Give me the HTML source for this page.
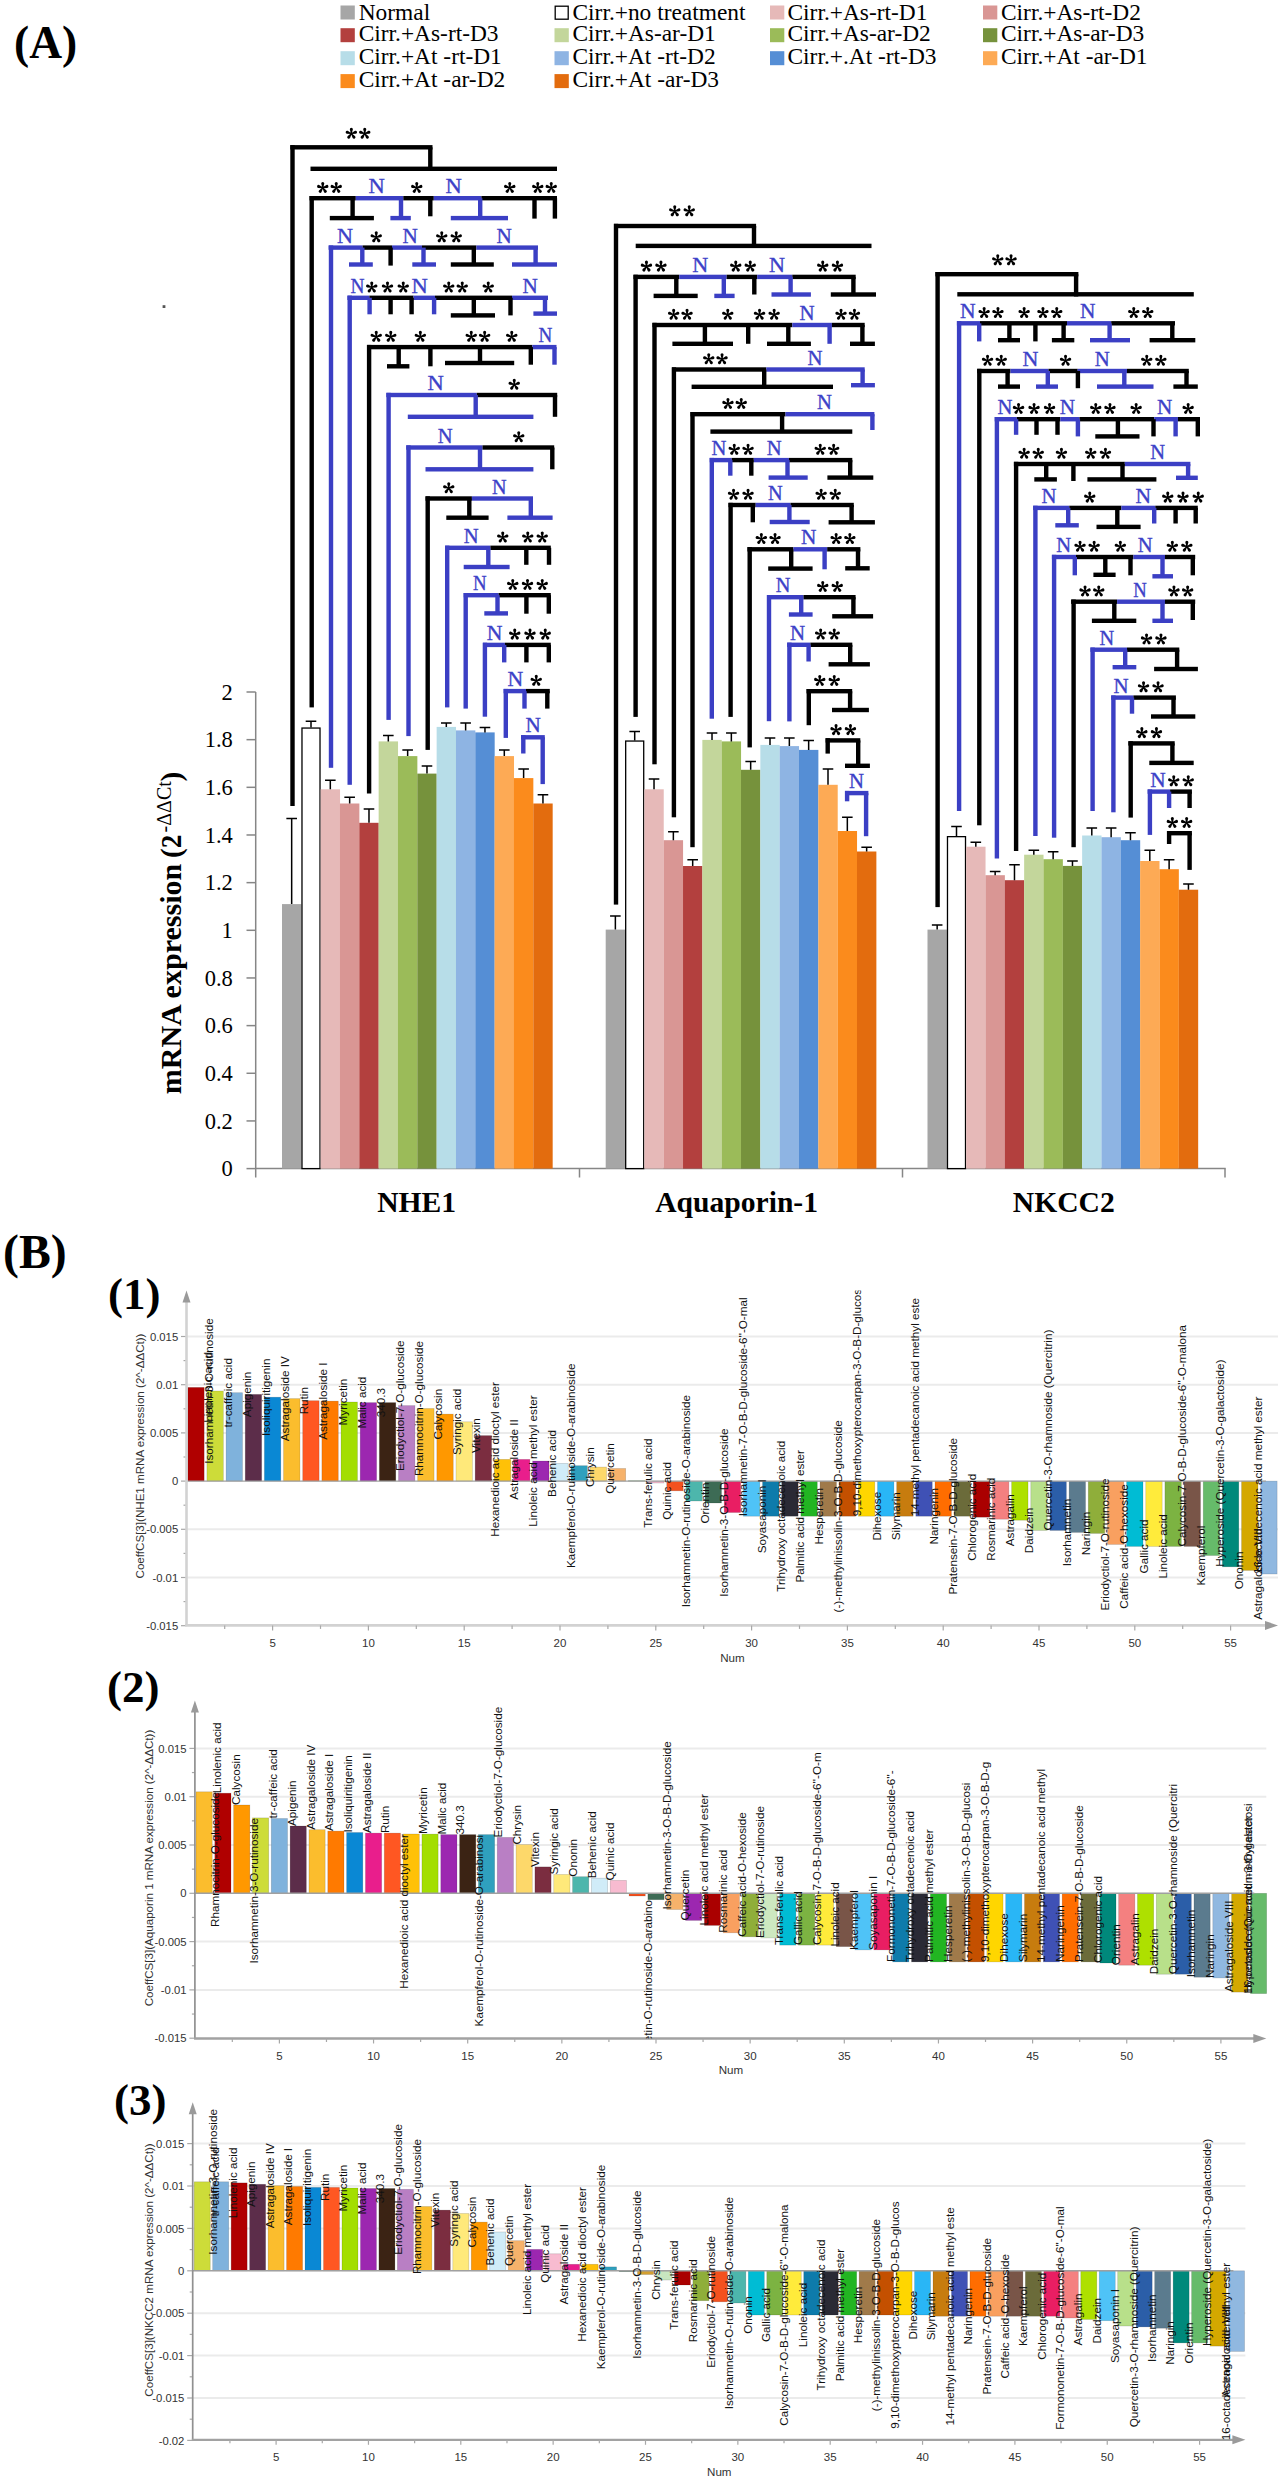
<!DOCTYPE html>
<html><head><meta charset="utf-8"><title>Figure</title>
<style>html,body{margin:0;padding:0;background:#fff;}svg{display:block;}</style>
</head><body>
<svg width="1282" height="2480" viewBox="0 0 1282 2480" font-family="Liberation Sans">
<rect width="1282" height="2480" fill="#fff"/>
<rect x="162.6" y="305.2" width="2.8" height="2.8" fill="#555"/>
<text x="14" y="57.7" font-family="Liberation Serif" font-weight="bold" font-size="45.5">(A)</text>
<rect x="340.5" y="5.5" width="14.3" height="14" fill="#a6a6a6"/>
<text x="358.7" y="19.5" font-family="Liberation Serif" font-size="23.4">Normal</text>
<rect x="555.2" y="6.2" width="13" height="13" fill="white" stroke="#000" stroke-width="1.3"/>
<text x="572.5" y="19.5" font-family="Liberation Serif" font-size="23.4">Cirr.+no treatment</text>
<rect x="770" y="5.5" width="14.3" height="14" fill="#e6b9b8"/>
<text x="787.5" y="19.5" font-family="Liberation Serif" font-size="23.4">Cirr.+As-rt-D1</text>
<rect x="983" y="5.5" width="14.3" height="14" fill="#d99694"/>
<text x="1001" y="19.5" font-family="Liberation Serif" font-size="23.4">Cirr.+As-rt-D2</text>
<rect x="340.5" y="28.2" width="14.3" height="14" fill="#b3403e"/>
<text x="358.7" y="41.4" font-family="Liberation Serif" font-size="23.4">Cirr.+As-rt-D3</text>
<rect x="554.5" y="28.2" width="14.3" height="14" fill="#c3d69b"/>
<text x="572.5" y="41.4" font-family="Liberation Serif" font-size="23.4">Cirr.+As-ar-D1</text>
<rect x="770" y="28.2" width="14.3" height="14" fill="#9bbb59"/>
<text x="787.5" y="41.4" font-family="Liberation Serif" font-size="23.4">Cirr.+As-ar-D2</text>
<rect x="983" y="28.2" width="14.3" height="14" fill="#76923c"/>
<text x="1001" y="41.4" font-family="Liberation Serif" font-size="23.4">Cirr.+As-ar-D3</text>
<rect x="340.5" y="51.2" width="14.3" height="14" fill="#b7dde8"/>
<text x="358.7" y="64" font-family="Liberation Serif" font-size="23.4">Cirr.+At -rt-D1</text>
<rect x="554.5" y="51.2" width="14.3" height="14" fill="#8eb4e3"/>
<text x="572.5" y="64" font-family="Liberation Serif" font-size="23.4">Cirr.+At -rt-D2</text>
<rect x="770" y="51.2" width="14.3" height="14" fill="#558ed5"/>
<text x="787.5" y="64" font-family="Liberation Serif" font-size="23.4">Cirr.+.At -rt-D3</text>
<rect x="983" y="51.2" width="14.3" height="14" fill="#fdaa55"/>
<text x="1001" y="64" font-family="Liberation Serif" font-size="23.4">Cirr.+At -ar-D1</text>
<rect x="340.5" y="74.1" width="14.3" height="14" fill="#fb8b1c"/>
<text x="358.7" y="86.9" font-family="Liberation Serif" font-size="23.4">Cirr.+At -ar-D2</text>
<rect x="554.5" y="74.1" width="14.3" height="14" fill="#e36c0e"/>
<text x="572.5" y="86.9" font-family="Liberation Serif" font-size="23.4">Cirr.+At -ar-D3</text>
<g stroke="#868686" stroke-width="1.5" fill="none">
<line x1="255.7" y1="692" x2="255.7" y2="1177.5"/>
<line x1="255.7" y1="1168.6" x2="1225.7" y2="1168.6"/>
<line x1="579.5" y1="1168.6" x2="579.5" y2="1177.5"/>
<line x1="902.5" y1="1168.6" x2="902.5" y2="1177.5"/>
<line x1="1225" y1="1168.6" x2="1225" y2="1177.5"/>
<line x1="246.5" y1="1168.6" x2="255.7" y2="1168.6"/>
<line x1="246.5" y1="1120.94" x2="255.7" y2="1120.94"/>
<line x1="246.5" y1="1073.28" x2="255.7" y2="1073.28"/>
<line x1="246.5" y1="1025.62" x2="255.7" y2="1025.62"/>
<line x1="246.5" y1="977.96" x2="255.7" y2="977.96"/>
<line x1="246.5" y1="930.3" x2="255.7" y2="930.3"/>
<line x1="246.5" y1="882.64" x2="255.7" y2="882.64"/>
<line x1="246.5" y1="834.98" x2="255.7" y2="834.98"/>
<line x1="246.5" y1="787.32" x2="255.7" y2="787.32"/>
<line x1="246.5" y1="739.66" x2="255.7" y2="739.66"/>
<line x1="246.5" y1="692" x2="255.7" y2="692"/>
</g>
<text x="232.8" y="1176.2" font-family="Liberation Serif" font-size="22.5" text-anchor="end">0</text>
<text x="232.8" y="1128.54" font-family="Liberation Serif" font-size="22.5" text-anchor="end">0.2</text>
<text x="232.8" y="1080.88" font-family="Liberation Serif" font-size="22.5" text-anchor="end">0.4</text>
<text x="232.8" y="1033.22" font-family="Liberation Serif" font-size="22.5" text-anchor="end">0.6</text>
<text x="232.8" y="985.56" font-family="Liberation Serif" font-size="22.5" text-anchor="end">0.8</text>
<text x="232.8" y="937.9" font-family="Liberation Serif" font-size="22.5" text-anchor="end">1</text>
<text x="232.8" y="890.24" font-family="Liberation Serif" font-size="22.5" text-anchor="end">1.2</text>
<text x="232.8" y="842.58" font-family="Liberation Serif" font-size="22.5" text-anchor="end">1.4</text>
<text x="232.8" y="794.92" font-family="Liberation Serif" font-size="22.5" text-anchor="end">1.6</text>
<text x="232.8" y="747.26" font-family="Liberation Serif" font-size="22.5" text-anchor="end">1.8</text>
<text x="232.8" y="699.6" font-family="Liberation Serif" font-size="22.5" text-anchor="end">2</text>
<g transform="translate(180.8,1094.3) rotate(-90)" font-family="Liberation Serif"><text x="0" y="0" font-weight="bold" font-size="29" textLength="230.5" lengthAdjust="spacingAndGlyphs">mRNA expression</text><text x="236.3" y="0" font-weight="bold" font-size="29">(</text><text x="246" y="0" font-weight="bold" font-size="29" textLength="13.6" lengthAdjust="spacingAndGlyphs">2</text><text x="261.8" y="-9.6" font-size="20.5" textLength="51.3" lengthAdjust="spacingAndGlyphs">-ΔΔCt</text><text x="312.8" y="0" font-weight="bold" font-size="29">)</text></g>
<text x="416.6" y="1212.1" text-anchor="middle" font-family="Liberation Serif" font-weight="bold" font-size="29.6">NHE1</text>
<text x="736.6" y="1212.1" text-anchor="middle" font-family="Liberation Serif" font-weight="bold" font-size="29.6">Aquaporin-1</text>
<text x="1063.8" y="1212.1" text-anchor="middle" font-family="Liberation Serif" font-weight="bold" font-size="29.6">NKCC2</text>
<rect x="282" y="904.1" width="19.38" height="264.5" fill="#a6a6a6"/>
<rect x="301.98" y="728.05" width="18.03" height="440.55" fill="white" stroke="#000" stroke-width="1.3"/>
<rect x="320.66" y="789.3" width="19.38" height="379.3" fill="#e6b9b8"/>
<rect x="339.99" y="803.5" width="19.38" height="365.1" fill="#d99694"/>
<rect x="359.32" y="822.8" width="19.38" height="345.8" fill="#b3403e"/>
<rect x="378.65" y="741.4" width="19.38" height="427.2" fill="#c3d69b"/>
<rect x="397.98" y="756.1" width="19.38" height="412.5" fill="#9bbb59"/>
<rect x="417.31" y="773.6" width="19.38" height="395" fill="#76923c"/>
<rect x="436.64" y="726.9" width="19.38" height="441.7" fill="#b7dde8"/>
<rect x="455.97" y="730.4" width="19.38" height="438.2" fill="#8eb4e3"/>
<rect x="475.3" y="732.4" width="19.38" height="436.2" fill="#558ed5"/>
<rect x="494.63" y="756.1" width="19.38" height="412.5" fill="#fdaa55"/>
<rect x="513.96" y="778.1" width="19.38" height="390.5" fill="#fb8b1c"/>
<rect x="533.29" y="803.5" width="19.38" height="365.1" fill="#e36c0e"/>
<path d="M291.67 904.1V818.5M286.37 818.5H296.97" stroke="#000" stroke-width="1.5" fill="none"/>
<path d="M311 727.4V721.2M305.69 721.2H316.3" stroke="#000" stroke-width="1.5" fill="none"/>
<path d="M330.32 789.3V780.3M325.02 780.3H335.62" stroke="#000" stroke-width="1.5" fill="none"/>
<path d="M349.66 803.5V797.3M344.36 797.3H354.96" stroke="#000" stroke-width="1.5" fill="none"/>
<path d="M368.99 822.8V809M363.69 809H374.29" stroke="#000" stroke-width="1.5" fill="none"/>
<path d="M388.31 741.4V735.4M383.01 735.4H393.62" stroke="#000" stroke-width="1.5" fill="none"/>
<path d="M407.65 756.1V749.9M402.35 749.9H412.95" stroke="#000" stroke-width="1.5" fill="none"/>
<path d="M426.98 773.6V766.1M421.68 766.1H432.28" stroke="#000" stroke-width="1.5" fill="none"/>
<path d="M446.31 726.9V722.9M441 722.9H451.61" stroke="#000" stroke-width="1.5" fill="none"/>
<path d="M465.63 730.4V722.9M460.33 722.9H470.94" stroke="#000" stroke-width="1.5" fill="none"/>
<path d="M484.96 732.4V727.4M479.66 727.4H490.26" stroke="#000" stroke-width="1.5" fill="none"/>
<path d="M504.3 756.1V749.9M499 749.9H509.6" stroke="#000" stroke-width="1.5" fill="none"/>
<path d="M523.62 778.1V769.1M518.33 769.1H528.92" stroke="#000" stroke-width="1.5" fill="none"/>
<path d="M542.95 803.5V794.8M537.65 794.8H548.25" stroke="#000" stroke-width="1.5" fill="none"/>
<rect x="605.7" y="929.6" width="19.38" height="239" fill="#a6a6a6"/>
<rect x="625.68" y="741.05" width="18.03" height="427.55" fill="white" stroke="#000" stroke-width="1.3"/>
<rect x="644.36" y="789.3" width="19.38" height="379.3" fill="#e6b9b8"/>
<rect x="663.69" y="840.2" width="19.38" height="328.4" fill="#d99694"/>
<rect x="683.02" y="866" width="19.38" height="302.6" fill="#b3403e"/>
<rect x="702.35" y="739.9" width="19.38" height="428.7" fill="#c3d69b"/>
<rect x="721.68" y="741.4" width="19.38" height="427.2" fill="#9bbb59"/>
<rect x="741.01" y="769.8" width="19.38" height="398.8" fill="#76923c"/>
<rect x="760.34" y="744.9" width="19.38" height="423.7" fill="#b7dde8"/>
<rect x="779.67" y="746.1" width="19.38" height="422.5" fill="#8eb4e3"/>
<rect x="799" y="749.9" width="19.38" height="418.7" fill="#558ed5"/>
<rect x="818.33" y="784.8" width="19.38" height="383.8" fill="#fdaa55"/>
<rect x="837.66" y="831" width="19.38" height="337.6" fill="#fb8b1c"/>
<rect x="856.99" y="851.5" width="19.38" height="317.1" fill="#e36c0e"/>
<path d="M615.37 929.6V915.9M610.07 915.9H620.66" stroke="#000" stroke-width="1.5" fill="none"/>
<path d="M634.7 740.4V731.6M629.4 731.6H640" stroke="#000" stroke-width="1.5" fill="none"/>
<path d="M654.02 789.3V779.1M648.73 779.1H659.32" stroke="#000" stroke-width="1.5" fill="none"/>
<path d="M673.36 840.2V831.7M668.06 831.7H678.65" stroke="#000" stroke-width="1.5" fill="none"/>
<path d="M692.68 866V859.7M687.38 859.7H697.98" stroke="#000" stroke-width="1.5" fill="none"/>
<path d="M712.01 739.9V732.9M706.72 732.9H717.31" stroke="#000" stroke-width="1.5" fill="none"/>
<path d="M731.35 741.4V732.9M726.05 732.9H736.64" stroke="#000" stroke-width="1.5" fill="none"/>
<path d="M750.67 769.8V761.6M745.38 761.6H755.97" stroke="#000" stroke-width="1.5" fill="none"/>
<path d="M770 744.9V737.9M764.71 737.9H775.3" stroke="#000" stroke-width="1.5" fill="none"/>
<path d="M789.34 746.1V737.9M784.04 737.9H794.63" stroke="#000" stroke-width="1.5" fill="none"/>
<path d="M808.66 749.9V740.4M803.37 740.4H813.96" stroke="#000" stroke-width="1.5" fill="none"/>
<path d="M828 784.8V769.1M822.7 769.1H833.29" stroke="#000" stroke-width="1.5" fill="none"/>
<path d="M847.33 831V817.3M842.03 817.3H852.62" stroke="#000" stroke-width="1.5" fill="none"/>
<path d="M866.65 851.5V847.2M861.36 847.2H871.95" stroke="#000" stroke-width="1.5" fill="none"/>
<rect x="927.5" y="929.6" width="19.38" height="239" fill="#a6a6a6"/>
<rect x="947.48" y="836.65" width="18.03" height="331.95" fill="white" stroke="#000" stroke-width="1.3"/>
<rect x="966.16" y="846.7" width="19.38" height="321.9" fill="#e6b9b8"/>
<rect x="985.49" y="875.2" width="19.38" height="293.4" fill="#d99694"/>
<rect x="1004.82" y="880.2" width="19.38" height="288.4" fill="#b3403e"/>
<rect x="1024.15" y="854.7" width="19.38" height="313.9" fill="#c3d69b"/>
<rect x="1043.48" y="859.2" width="19.38" height="309.4" fill="#9bbb59"/>
<rect x="1062.81" y="865.9" width="19.38" height="302.7" fill="#76923c"/>
<rect x="1082.14" y="835.5" width="19.38" height="333.1" fill="#b7dde8"/>
<rect x="1101.47" y="837.2" width="19.38" height="331.4" fill="#8eb4e3"/>
<rect x="1120.8" y="840.2" width="19.38" height="328.4" fill="#558ed5"/>
<rect x="1140.13" y="861" width="19.38" height="307.6" fill="#fdaa55"/>
<rect x="1159.46" y="869.2" width="19.38" height="299.4" fill="#fb8b1c"/>
<rect x="1178.79" y="889.7" width="19.38" height="278.9" fill="#e36c0e"/>
<path d="M937.16 929.6V925.1M931.87 925.1H942.46" stroke="#000" stroke-width="1.5" fill="none"/>
<path d="M956.5 836V826.5M951.2 826.5H961.79" stroke="#000" stroke-width="1.5" fill="none"/>
<path d="M975.82 846.7V842.2M970.52 842.2H981.12" stroke="#000" stroke-width="1.5" fill="none"/>
<path d="M995.15 875.2V871.4M989.86 871.4H1000.45" stroke="#000" stroke-width="1.5" fill="none"/>
<path d="M1014.48 880.2V864.7M1009.18 864.7H1019.78" stroke="#000" stroke-width="1.5" fill="none"/>
<path d="M1033.82 854.7V850.2M1028.52 850.2H1039.12" stroke="#000" stroke-width="1.5" fill="none"/>
<path d="M1053.14 859.2V851.7M1047.85 851.7H1058.44" stroke="#000" stroke-width="1.5" fill="none"/>
<path d="M1072.47 865.9V861M1067.17 861H1077.77" stroke="#000" stroke-width="1.5" fill="none"/>
<path d="M1091.8 835.5V828M1086.5 828H1097.1" stroke="#000" stroke-width="1.5" fill="none"/>
<path d="M1111.13 837.2V828M1105.84 828H1116.43" stroke="#000" stroke-width="1.5" fill="none"/>
<path d="M1130.46 840.2V832.7M1125.16 832.7H1135.76" stroke="#000" stroke-width="1.5" fill="none"/>
<path d="M1149.8 861V850.2M1144.5 850.2H1155.1" stroke="#000" stroke-width="1.5" fill="none"/>
<path d="M1169.12 869.2V859.7M1163.83 859.7H1174.42" stroke="#000" stroke-width="1.5" fill="none"/>
<path d="M1188.45 889.7V883.9M1183.15 883.9H1193.75" stroke="#000" stroke-width="1.5" fill="none"/>
<rect x="290.3" y="145.1" width="142.2" height="4.4" fill="#000000"/>
<rect x="290.3" y="145.1" width="4.4" height="660.9" fill="#000000"/>
<rect x="428.1" y="147.3" width="4.4" height="23.7" fill="#000000"/>
<rect x="310.5" y="166.6" width="246.5" height="4.4" fill="#000000"/>
<path d="M351.8 133.6L352.9 129.25A1.55 1.55 0 1 0 349.8 129.25L350.9 133.6ZM351.49 134.03L355.97 133.73A1.55 1.55 0 1 0 355.01 130.78L351.21 133.17ZM350.99 133.86L352.65 138.03A1.55 1.55 0 1 0 355.16 136.21L351.71 133.34ZM350.99 133.34L347.54 136.21A1.55 1.55 0 1 0 350.05 138.03L351.71 133.86ZM351.49 133.17L347.69 130.78A1.55 1.55 0 1 0 346.73 133.73L351.21 134.03Z" fill="#000000"/>
<path d="M365.2 133.6L366.3 129.25A1.55 1.55 0 1 0 363.2 129.25L364.3 133.6ZM364.89 134.03L369.37 133.73A1.55 1.55 0 1 0 368.41 130.78L364.61 133.17ZM364.39 133.86L366.05 138.03A1.55 1.55 0 1 0 368.56 136.21L365.11 133.34ZM364.39 133.34L360.94 136.21A1.55 1.55 0 1 0 363.45 138.03L365.11 133.86ZM364.89 133.17L361.09 130.78A1.55 1.55 0 1 0 360.13 133.73L364.61 134.03Z" fill="#000000"/>
<rect x="309.5" y="196" width="46.3" height="4.4" fill="#000000"/>
<rect x="355.8" y="196" width="47.5" height="4.4" fill="#3b3fc4"/>
<rect x="403.3" y="196" width="30.5" height="4.4" fill="#000000"/>
<rect x="433.8" y="196" width="47.6" height="4.4" fill="#3b3fc4"/>
<rect x="481.4" y="196" width="75.6" height="4.4" fill="#000000"/>
<rect x="309.5" y="196" width="4.4" height="511.4" fill="#000000"/>
<rect x="350.4" y="198.2" width="4.4" height="19.9" fill="#000000"/>
<rect x="329.8" y="215.9" width="44.1" height="4.4" fill="#000000"/>
<rect x="398.8" y="198.2" width="4.4" height="19.9" fill="#3b3fc4"/>
<rect x="390.4" y="215.9" width="20.4" height="4.4" fill="#3b3fc4"/>
<rect x="428.1" y="198.2" width="4.4" height="18.1" fill="#000000"/>
<rect x="478" y="198.2" width="4.4" height="19.9" fill="#3b3fc4"/>
<rect x="450.8" y="215.9" width="57.2" height="4.4" fill="#3b3fc4"/>
<rect x="532.3" y="198.2" width="4.4" height="20.4" fill="#000000"/>
<rect x="552.7" y="198.2" width="4.4" height="20.4" fill="#000000"/>
<path d="M323.2 187.8L324.3 183.45A1.55 1.55 0 1 0 321.2 183.45L322.3 187.8ZM322.89 188.23L327.37 187.93A1.55 1.55 0 1 0 326.41 184.98L322.61 187.37ZM322.39 188.06L324.05 192.23A1.55 1.55 0 1 0 326.56 190.41L323.11 187.54ZM322.39 187.54L318.94 190.41A1.55 1.55 0 1 0 321.45 192.23L323.11 188.06ZM322.89 187.37L319.09 184.98A1.55 1.55 0 1 0 318.13 187.93L322.61 188.23Z" fill="#000000"/>
<path d="M336.7 187.8L337.8 183.45A1.55 1.55 0 1 0 334.7 183.45L335.8 187.8ZM336.39 188.23L340.87 187.93A1.55 1.55 0 1 0 339.91 184.98L336.11 187.37ZM335.89 188.06L337.55 192.23A1.55 1.55 0 1 0 340.06 190.41L336.61 187.54ZM335.89 187.54L332.44 190.41A1.55 1.55 0 1 0 334.95 192.23L336.61 188.06ZM336.39 187.37L332.59 184.98A1.55 1.55 0 1 0 331.63 187.93L336.11 188.23Z" fill="#000000"/>
<text x="368.4" y="193.3" font-family="Liberation Serif" font-size="21.3" fill="#3d42c8" stroke="#3d42c8" stroke-width="0.35" textLength="16.3" lengthAdjust="spacingAndGlyphs">N</text>
<path d="M417.2 187.8L418.3 183.45A1.55 1.55 0 1 0 415.2 183.45L416.3 187.8ZM416.89 188.23L421.37 187.93A1.55 1.55 0 1 0 420.41 184.98L416.61 187.37ZM416.39 188.06L418.05 192.23A1.55 1.55 0 1 0 420.56 190.41L417.11 187.54ZM416.39 187.54L412.94 190.41A1.55 1.55 0 1 0 415.45 192.23L417.11 188.06ZM416.89 187.37L413.09 184.98A1.55 1.55 0 1 0 412.13 187.93L416.61 188.23Z" fill="#000000"/>
<text x="445.4" y="193.3" font-family="Liberation Serif" font-size="21.3" fill="#3d42c8" stroke="#3d42c8" stroke-width="0.35" textLength="16.3" lengthAdjust="spacingAndGlyphs">N</text>
<path d="M510.2 187.8L511.3 183.45A1.55 1.55 0 1 0 508.2 183.45L509.3 187.8ZM509.89 188.23L514.37 187.93A1.55 1.55 0 1 0 513.41 184.98L509.61 187.37ZM509.39 188.06L511.05 192.23A1.55 1.55 0 1 0 513.56 190.41L510.11 187.54ZM509.39 187.54L505.94 190.41A1.55 1.55 0 1 0 508.45 192.23L510.11 188.06ZM509.89 187.37L506.09 184.98A1.55 1.55 0 1 0 505.13 187.93L509.61 188.23Z" fill="#000000"/>
<path d="M538.2 187.8L539.3 183.45A1.55 1.55 0 1 0 536.2 183.45L537.3 187.8ZM537.89 188.23L542.37 187.93A1.55 1.55 0 1 0 541.41 184.98L537.61 187.37ZM537.39 188.06L539.05 192.23A1.55 1.55 0 1 0 541.56 190.41L538.11 187.54ZM537.39 187.54L533.94 190.41A1.55 1.55 0 1 0 536.45 192.23L538.11 188.06ZM537.89 187.37L534.09 184.98A1.55 1.55 0 1 0 533.13 187.93L537.61 188.23Z" fill="#000000"/>
<path d="M551.7 187.8L552.8 183.45A1.55 1.55 0 1 0 549.7 183.45L550.8 187.8ZM551.39 188.23L555.87 187.93A1.55 1.55 0 1 0 554.91 184.98L551.11 187.37ZM550.89 188.06L552.55 192.23A1.55 1.55 0 1 0 555.06 190.41L551.61 187.54ZM550.89 187.54L547.44 190.41A1.55 1.55 0 1 0 549.95 192.23L551.61 188.06ZM551.39 187.37L547.59 184.98A1.55 1.55 0 1 0 546.63 187.93L551.11 188.23Z" fill="#000000"/>
<rect x="328.6" y="245.4" width="34" height="4.4" fill="#3b3fc4"/>
<rect x="362.6" y="245.4" width="29.4" height="4.4" fill="#000000"/>
<rect x="392" y="245.4" width="30" height="4.4" fill="#3b3fc4"/>
<rect x="422" y="245.4" width="54.4" height="4.4" fill="#000000"/>
<rect x="476.4" y="245.4" width="61.6" height="4.4" fill="#3b3fc4"/>
<rect x="328.8" y="245.4" width="4.4" height="522.4" fill="#3b3fc4"/>
<rect x="360.1" y="247.6" width="4.4" height="16.9" fill="#3b3fc4"/>
<rect x="349" y="262.3" width="23.8" height="4.4" fill="#3b3fc4"/>
<rect x="388.4" y="247.6" width="4.4" height="18" fill="#000000"/>
<rect x="421.3" y="247.6" width="4.4" height="16.9" fill="#3b3fc4"/>
<rect x="412.3" y="262.3" width="23.7" height="4.4" fill="#3b3fc4"/>
<rect x="471.6" y="247.6" width="4.4" height="16.9" fill="#000000"/>
<rect x="450.8" y="262.3" width="43" height="4.4" fill="#000000"/>
<rect x="533.4" y="247.6" width="4.4" height="16.9" fill="#3b3fc4"/>
<rect x="512" y="262.3" width="45" height="4.4" fill="#3b3fc4"/>
<text x="337.1" y="242.7" font-family="Liberation Serif" font-size="21.3" fill="#3d42c8" stroke="#3d42c8" stroke-width="0.35" textLength="16" lengthAdjust="spacingAndGlyphs">N</text>
<path d="M376.7 237.2L377.8 232.85A1.55 1.55 0 1 0 374.7 232.85L375.8 237.2ZM376.39 237.63L380.87 237.33A1.55 1.55 0 1 0 379.91 234.38L376.11 236.77ZM375.89 237.46L377.55 241.63A1.55 1.55 0 1 0 380.06 239.81L376.61 236.94ZM375.89 236.94L372.44 239.81A1.55 1.55 0 1 0 374.95 241.63L376.61 237.46ZM376.39 236.77L372.59 234.38A1.55 1.55 0 1 0 371.63 237.33L376.11 237.63Z" fill="#000000"/>
<text x="402.4" y="242.7" font-family="Liberation Serif" font-size="21.3" fill="#3d42c8" stroke="#3d42c8" stroke-width="0.35" textLength="15.3" lengthAdjust="spacingAndGlyphs">N</text>
<path d="M442.2 237.2L443.3 232.85A1.55 1.55 0 1 0 440.2 232.85L441.3 237.2ZM441.89 237.63L446.37 237.33A1.55 1.55 0 1 0 445.41 234.38L441.61 236.77ZM441.39 237.46L443.05 241.63A1.55 1.55 0 1 0 445.56 239.81L442.11 236.94ZM441.39 236.94L437.94 239.81A1.55 1.55 0 1 0 440.45 241.63L442.11 237.46ZM441.89 236.77L438.09 234.38A1.55 1.55 0 1 0 437.13 237.33L441.61 237.63Z" fill="#000000"/>
<path d="M456.7 237.2L457.8 232.85A1.55 1.55 0 1 0 454.7 232.85L455.8 237.2ZM456.39 237.63L460.87 237.33A1.55 1.55 0 1 0 459.91 234.38L456.11 236.77ZM455.89 237.46L457.55 241.63A1.55 1.55 0 1 0 460.06 239.81L456.61 236.94ZM455.89 236.94L452.44 239.81A1.55 1.55 0 1 0 454.95 241.63L456.61 237.46ZM456.39 236.77L452.59 234.38A1.55 1.55 0 1 0 451.63 237.33L456.11 237.63Z" fill="#000000"/>
<text x="496.4" y="242.7" font-family="Liberation Serif" font-size="21.3" fill="#3d42c8" stroke="#3d42c8" stroke-width="0.35" textLength="15.3" lengthAdjust="spacingAndGlyphs">N</text>
<rect x="347.4" y="295.6" width="22" height="4.4" fill="#3b3fc4"/>
<rect x="369.4" y="295.6" width="44.1" height="4.4" fill="#000000"/>
<rect x="413.5" y="295.6" width="21.5" height="4.4" fill="#3b3fc4"/>
<rect x="435" y="295.6" width="77" height="4.4" fill="#000000"/>
<rect x="512" y="295.6" width="36" height="4.4" fill="#3b3fc4"/>
<rect x="347.5" y="295.6" width="4.4" height="489.2" fill="#3b3fc4"/>
<rect x="367.4" y="297.8" width="4.4" height="16.5" fill="#3b3fc4"/>
<rect x="388.4" y="297.8" width="4.4" height="16.5" fill="#000000"/>
<rect x="409.4" y="297.8" width="4.4" height="16.5" fill="#000000"/>
<rect x="431.9" y="297.8" width="4.4" height="16.5" fill="#3b3fc4"/>
<rect x="471.6" y="297.8" width="4.4" height="17.6" fill="#000000"/>
<rect x="450.8" y="313.2" width="44.2" height="4.4" fill="#000000"/>
<rect x="508.3" y="297.8" width="4.4" height="17.6" fill="#000000"/>
<rect x="542.8" y="297.8" width="4.4" height="15.8" fill="#3b3fc4"/>
<rect x="533.4" y="311.4" width="23.6" height="4.4" fill="#3b3fc4"/>
<text x="350.4" y="292.9" font-family="Liberation Serif" font-size="21.3" fill="#3d42c8" stroke="#3d42c8" stroke-width="0.35" textLength="14" lengthAdjust="spacingAndGlyphs">N</text>
<path d="M372.2 287.4L373.3 283.05A1.55 1.55 0 1 0 370.2 283.05L371.3 287.4ZM371.89 287.83L376.37 287.53A1.55 1.55 0 1 0 375.41 284.58L371.61 286.97ZM371.39 287.66L373.05 291.83A1.55 1.55 0 1 0 375.56 290.01L372.11 287.14ZM371.39 287.14L367.94 290.01A1.55 1.55 0 1 0 370.45 291.83L372.11 287.66ZM371.89 286.97L368.09 284.58A1.55 1.55 0 1 0 367.13 287.53L371.61 287.83Z" fill="#000000"/>
<path d="M387.95 287.4L389.05 283.05A1.55 1.55 0 1 0 385.95 283.05L387.05 287.4ZM387.64 287.83L392.12 287.53A1.55 1.55 0 1 0 391.16 284.58L387.36 286.97ZM387.14 287.66L388.8 291.83A1.55 1.55 0 1 0 391.31 290.01L387.86 287.14ZM387.14 287.14L383.69 290.01A1.55 1.55 0 1 0 386.2 291.83L387.86 287.66ZM387.64 286.97L383.84 284.58A1.55 1.55 0 1 0 382.88 287.53L387.36 287.83Z" fill="#000000"/>
<path d="M403.7 287.4L404.8 283.05A1.55 1.55 0 1 0 401.7 283.05L402.8 287.4ZM403.39 287.83L407.87 287.53A1.55 1.55 0 1 0 406.91 284.58L403.11 286.97ZM402.89 287.66L404.55 291.83A1.55 1.55 0 1 0 407.06 290.01L403.61 287.14ZM402.89 287.14L399.44 290.01A1.55 1.55 0 1 0 401.95 291.83L403.61 287.66ZM403.39 286.97L399.59 284.58A1.55 1.55 0 1 0 398.63 287.53L403.11 287.83Z" fill="#000000"/>
<text x="411.4" y="292.9" font-family="Liberation Serif" font-size="21.3" fill="#3d42c8" stroke="#3d42c8" stroke-width="0.35" textLength="16.3" lengthAdjust="spacingAndGlyphs">N</text>
<path d="M449.2 287.4L450.3 283.05A1.55 1.55 0 1 0 447.2 283.05L448.3 287.4ZM448.89 287.83L453.37 287.53A1.55 1.55 0 1 0 452.41 284.58L448.61 286.97ZM448.39 287.66L450.05 291.83A1.55 1.55 0 1 0 452.56 290.01L449.11 287.14ZM448.39 287.14L444.94 290.01A1.55 1.55 0 1 0 447.45 291.83L449.11 287.66ZM448.89 286.97L445.09 284.58A1.55 1.55 0 1 0 444.13 287.53L448.61 287.83Z" fill="#000000"/>
<path d="M462.7 287.4L463.8 283.05A1.55 1.55 0 1 0 460.7 283.05L461.8 287.4ZM462.39 287.83L466.87 287.53A1.55 1.55 0 1 0 465.91 284.58L462.11 286.97ZM461.89 287.66L463.55 291.83A1.55 1.55 0 1 0 466.06 290.01L462.61 287.14ZM461.89 287.14L458.44 290.01A1.55 1.55 0 1 0 460.95 291.83L462.61 287.66ZM462.39 286.97L458.59 284.58A1.55 1.55 0 1 0 457.63 287.53L462.11 287.83Z" fill="#000000"/>
<path d="M488.7 287.4L489.8 283.05A1.55 1.55 0 1 0 486.7 283.05L487.8 287.4ZM488.39 287.83L492.87 287.53A1.55 1.55 0 1 0 491.91 284.58L488.11 286.97ZM487.89 287.66L489.55 291.83A1.55 1.55 0 1 0 492.06 290.01L488.61 287.14ZM487.89 287.14L484.44 290.01A1.55 1.55 0 1 0 486.95 291.83L488.61 287.66ZM488.39 286.97L484.59 284.58A1.55 1.55 0 1 0 483.63 287.53L488.11 287.83Z" fill="#000000"/>
<text x="522.4" y="292.9" font-family="Liberation Serif" font-size="21.3" fill="#3d42c8" stroke="#3d42c8" stroke-width="0.35" textLength="15.3" lengthAdjust="spacingAndGlyphs">N</text>
<rect x="367.1" y="344.9" width="165.2" height="4.4" fill="#000000"/>
<rect x="532.3" y="344.9" width="24.2" height="4.4" fill="#3b3fc4"/>
<rect x="366.9" y="344.9" width="4.4" height="448.6" fill="#000000"/>
<rect x="396.5" y="347.1" width="4.4" height="19.2" fill="#000000"/>
<rect x="387" y="364.1" width="22.4" height="4.4" fill="#000000"/>
<rect x="428.2" y="347.1" width="4.4" height="19.2" fill="#000000"/>
<rect x="477.8" y="347.1" width="4.4" height="15.9" fill="#000000"/>
<rect x="445" y="360.8" width="69.2" height="4.4" fill="#000000"/>
<rect x="528.6" y="347.1" width="4.4" height="17.6" fill="#000000"/>
<rect x="552.3" y="347.1" width="4.4" height="17.6" fill="#3b3fc4"/>
<path d="M376.7 336.7L377.8 332.35A1.55 1.55 0 1 0 374.7 332.35L375.8 336.7ZM376.39 337.13L380.87 336.83A1.55 1.55 0 1 0 379.91 333.88L376.11 336.27ZM375.89 336.96L377.55 341.13A1.55 1.55 0 1 0 380.06 339.31L376.61 336.44ZM375.89 336.44L372.44 339.31A1.55 1.55 0 1 0 374.95 341.13L376.61 336.96ZM376.39 336.27L372.59 333.88A1.55 1.55 0 1 0 371.63 336.83L376.11 337.13Z" fill="#000000"/>
<path d="M391.2 336.7L392.3 332.35A1.55 1.55 0 1 0 389.2 332.35L390.3 336.7ZM390.89 337.13L395.37 336.83A1.55 1.55 0 1 0 394.41 333.88L390.61 336.27ZM390.39 336.96L392.05 341.13A1.55 1.55 0 1 0 394.56 339.31L391.11 336.44ZM390.39 336.44L386.94 339.31A1.55 1.55 0 1 0 389.45 341.13L391.11 336.96ZM390.89 336.27L387.09 333.88A1.55 1.55 0 1 0 386.13 336.83L390.61 337.13Z" fill="#000000"/>
<path d="M420.8 336.7L421.9 332.35A1.55 1.55 0 1 0 418.8 332.35L419.9 336.7ZM420.49 337.13L424.97 336.83A1.55 1.55 0 1 0 424.01 333.88L420.21 336.27ZM419.99 336.96L421.65 341.13A1.55 1.55 0 1 0 424.16 339.31L420.71 336.44ZM419.99 336.44L416.54 339.31A1.55 1.55 0 1 0 419.05 341.13L420.71 336.96ZM420.49 336.27L416.69 333.88A1.55 1.55 0 1 0 415.73 336.83L420.21 337.13Z" fill="#000000"/>
<path d="M471.7 336.7L472.8 332.35A1.55 1.55 0 1 0 469.7 332.35L470.8 336.7ZM471.39 337.13L475.87 336.83A1.55 1.55 0 1 0 474.91 333.88L471.11 336.27ZM470.89 336.96L472.55 341.13A1.55 1.55 0 1 0 475.06 339.31L471.61 336.44ZM470.89 336.44L467.44 339.31A1.55 1.55 0 1 0 469.95 341.13L471.61 336.96ZM471.39 336.27L467.59 333.88A1.55 1.55 0 1 0 466.63 336.83L471.11 337.13Z" fill="#000000"/>
<path d="M485.1 336.7L486.2 332.35A1.55 1.55 0 1 0 483.1 332.35L484.2 336.7ZM484.79 337.13L489.27 336.83A1.55 1.55 0 1 0 488.31 333.88L484.51 336.27ZM484.29 336.96L485.95 341.13A1.55 1.55 0 1 0 488.46 339.31L485.01 336.44ZM484.29 336.44L480.84 339.31A1.55 1.55 0 1 0 483.35 341.13L485.01 336.96ZM484.79 336.27L480.99 333.88A1.55 1.55 0 1 0 480.03 336.83L484.51 337.13Z" fill="#000000"/>
<path d="M512.2 336.7L513.3 332.35A1.55 1.55 0 1 0 510.2 332.35L511.3 336.7ZM511.89 337.13L516.37 336.83A1.55 1.55 0 1 0 515.41 333.88L511.61 336.27ZM511.39 336.96L513.05 341.13A1.55 1.55 0 1 0 515.56 339.31L512.11 336.44ZM511.39 336.44L507.94 339.31A1.55 1.55 0 1 0 510.45 341.13L512.11 336.96ZM511.89 336.27L508.09 333.88A1.55 1.55 0 1 0 507.13 336.83L511.61 337.13Z" fill="#000000"/>
<text x="538.4" y="342.2" font-family="Liberation Serif" font-size="21.3" fill="#3d42c8" stroke="#3d42c8" stroke-width="0.35" textLength="13.8" lengthAdjust="spacingAndGlyphs">N</text>
<rect x="386.3" y="392.8" width="90.5" height="4.4" fill="#3b3fc4"/>
<rect x="476.8" y="392.8" width="80.4" height="4.4" fill="#000000"/>
<rect x="386.4" y="392.8" width="4.4" height="327.1" fill="#3b3fc4"/>
<rect x="473.5" y="395" width="4.4" height="21.8" fill="#3b3fc4"/>
<rect x="407.8" y="414.6" width="125.6" height="4.4" fill="#3b3fc4"/>
<rect x="552.8" y="395" width="4.4" height="21.8" fill="#000000"/>
<text x="427.4" y="390.1" font-family="Liberation Serif" font-size="21.3" fill="#3d42c8" stroke="#3d42c8" stroke-width="0.35" textLength="16.3" lengthAdjust="spacingAndGlyphs">N</text>
<path d="M514.7 384.6L515.8 380.25A1.55 1.55 0 1 0 512.7 380.25L513.8 384.6ZM514.39 385.03L518.87 384.73A1.55 1.55 0 1 0 517.91 381.78L514.11 384.17ZM513.89 384.86L515.55 389.03A1.55 1.55 0 1 0 518.06 387.21L514.61 384.34ZM513.89 384.34L510.44 387.21A1.55 1.55 0 1 0 512.95 389.03L514.61 384.86ZM514.39 384.17L510.59 381.78A1.55 1.55 0 1 0 509.63 384.73L514.11 385.03Z" fill="#000000"/>
<rect x="406.2" y="445.3" width="76.3" height="4.4" fill="#3b3fc4"/>
<rect x="482.5" y="445.3" width="71.7" height="4.4" fill="#000000"/>
<rect x="406.3" y="445.3" width="4.4" height="290.8" fill="#3b3fc4"/>
<rect x="477.8" y="447.5" width="4.4" height="21.8" fill="#3b3fc4"/>
<rect x="425.5" y="467.1" width="107.9" height="4.4" fill="#3b3fc4"/>
<rect x="550.1" y="447.5" width="4.4" height="21.8" fill="#000000"/>
<text x="437.8" y="442.6" font-family="Liberation Serif" font-size="21.3" fill="#3d42c8" stroke="#3d42c8" stroke-width="0.35" textLength="14.9" lengthAdjust="spacingAndGlyphs">N</text>
<path d="M519.2 437.1L520.3 432.75A1.55 1.55 0 1 0 517.2 432.75L518.3 437.1ZM518.89 437.53L523.37 437.23A1.55 1.55 0 1 0 522.41 434.28L518.61 436.67ZM518.39 437.36L520.05 441.53A1.55 1.55 0 1 0 522.56 439.71L519.11 436.84ZM518.39 436.84L514.94 439.71A1.55 1.55 0 1 0 517.45 441.53L519.11 437.36ZM518.89 436.67L515.09 434.28A1.55 1.55 0 1 0 514.13 437.23L518.61 437.53Z" fill="#000000"/>
<rect x="425.5" y="496.3" width="46.4" height="4.4" fill="#000000"/>
<rect x="471.9" y="496.3" width="61.1" height="4.4" fill="#3b3fc4"/>
<rect x="425.5" y="496.3" width="4.4" height="253.6" fill="#000000"/>
<rect x="467.1" y="498.5" width="4.4" height="19.2" fill="#000000"/>
<rect x="446.3" y="515.5" width="42.3" height="4.4" fill="#000000"/>
<rect x="528.6" y="498.5" width="4.4" height="19.2" fill="#3b3fc4"/>
<rect x="507.4" y="515.5" width="45.2" height="4.4" fill="#3b3fc4"/>
<path d="M449.2 488.1L450.3 483.75A1.55 1.55 0 1 0 447.2 483.75L448.3 488.1ZM448.89 488.53L453.37 488.23A1.55 1.55 0 1 0 452.41 485.28L448.61 487.67ZM448.39 488.36L450.05 492.53A1.55 1.55 0 1 0 452.56 490.71L449.11 487.84ZM448.39 487.84L444.94 490.71A1.55 1.55 0 1 0 447.45 492.53L449.11 488.36ZM448.89 487.67L445.09 485.28A1.55 1.55 0 1 0 444.13 488.23L448.61 488.53Z" fill="#000000"/>
<text x="492.1" y="493.6" font-family="Liberation Serif" font-size="21.3" fill="#3d42c8" stroke="#3d42c8" stroke-width="0.35" textLength="14.6" lengthAdjust="spacingAndGlyphs">N</text>
<rect x="445.2" y="545.6" width="45.2" height="4.4" fill="#3b3fc4"/>
<rect x="490.4" y="545.6" width="60.4" height="4.4" fill="#000000"/>
<rect x="445" y="545.6" width="4.4" height="161.8" fill="#3b3fc4"/>
<rect x="486.1" y="547.8" width="4.4" height="19.2" fill="#3b3fc4"/>
<rect x="463.7" y="564.8" width="45.9" height="4.4" fill="#3b3fc4"/>
<rect x="524.1" y="547.8" width="4.4" height="17" fill="#000000"/>
<rect x="546.8" y="547.8" width="4.4" height="17" fill="#000000"/>
<text x="463.8" y="542.9" font-family="Liberation Serif" font-size="21.3" fill="#3d42c8" stroke="#3d42c8" stroke-width="0.35" textLength="14.9" lengthAdjust="spacingAndGlyphs">N</text>
<path d="M503.2 537.4L504.3 533.05A1.55 1.55 0 1 0 501.2 533.05L502.3 537.4ZM502.89 537.83L507.37 537.53A1.55 1.55 0 1 0 506.41 534.58L502.61 536.97ZM502.39 537.66L504.05 541.83A1.55 1.55 0 1 0 506.56 540.01L503.11 537.14ZM502.39 537.14L498.94 540.01A1.55 1.55 0 1 0 501.45 541.83L503.11 537.66ZM502.89 536.97L499.09 534.58A1.55 1.55 0 1 0 498.13 537.53L502.61 537.83Z" fill="#000000"/>
<path d="M528.2 537.4L529.3 533.05A1.55 1.55 0 1 0 526.2 533.05L527.3 537.4ZM527.89 537.83L532.37 537.53A1.55 1.55 0 1 0 531.41 534.58L527.61 536.97ZM527.39 537.66L529.05 541.83A1.55 1.55 0 1 0 531.56 540.01L528.11 537.14ZM527.39 537.14L523.94 540.01A1.55 1.55 0 1 0 526.45 541.83L528.11 537.66ZM527.89 536.97L524.09 534.58A1.55 1.55 0 1 0 523.13 537.53L527.61 537.83Z" fill="#000000"/>
<path d="M542.7 537.4L543.8 533.05A1.55 1.55 0 1 0 540.7 533.05L541.8 537.4ZM542.39 537.83L546.87 537.53A1.55 1.55 0 1 0 545.91 534.58L542.11 536.97ZM541.89 537.66L543.55 541.83A1.55 1.55 0 1 0 546.06 540.01L542.61 537.14ZM541.89 537.14L538.44 540.01A1.55 1.55 0 1 0 540.95 541.83L542.61 537.66ZM542.39 536.97L538.59 534.58A1.55 1.55 0 1 0 537.63 537.53L542.11 537.83Z" fill="#000000"/>
<rect x="463.7" y="593" width="34.9" height="4.4" fill="#3b3fc4"/>
<rect x="498.6" y="593" width="52.2" height="4.4" fill="#000000"/>
<rect x="463.5" y="593" width="4.4" height="115.6" fill="#3b3fc4"/>
<rect x="495.3" y="595.2" width="4.4" height="18.2" fill="#3b3fc4"/>
<rect x="484.3" y="611.2" width="23.7" height="4.4" fill="#3b3fc4"/>
<rect x="524.2" y="595.2" width="4.4" height="18.5" fill="#000000"/>
<rect x="546.6" y="595.2" width="4.4" height="18.5" fill="#000000"/>
<text x="473.1" y="590.3" font-family="Liberation Serif" font-size="21.3" fill="#3d42c8" stroke="#3d42c8" stroke-width="0.35" textLength="13.6" lengthAdjust="spacingAndGlyphs">N</text>
<path d="M513.2 584.8L514.3 580.45A1.55 1.55 0 1 0 511.2 580.45L512.3 584.8ZM512.89 585.23L517.37 584.93A1.55 1.55 0 1 0 516.41 581.98L512.61 584.37ZM512.39 585.06L514.05 589.23A1.55 1.55 0 1 0 516.56 587.41L513.11 584.54ZM512.39 584.54L508.94 587.41A1.55 1.55 0 1 0 511.45 589.23L513.11 585.06ZM512.89 584.37L509.09 581.98A1.55 1.55 0 1 0 508.13 584.93L512.61 585.23Z" fill="#000000"/>
<path d="M527.95 584.8L529.05 580.45A1.55 1.55 0 1 0 525.95 580.45L527.05 584.8ZM527.64 585.23L532.12 584.93A1.55 1.55 0 1 0 531.16 581.98L527.36 584.37ZM527.14 585.06L528.8 589.23A1.55 1.55 0 1 0 531.31 587.41L527.86 584.54ZM527.14 584.54L523.69 587.41A1.55 1.55 0 1 0 526.2 589.23L527.86 585.06ZM527.64 584.37L523.84 581.98A1.55 1.55 0 1 0 522.88 584.93L527.36 585.23Z" fill="#000000"/>
<path d="M542.7 584.8L543.8 580.45A1.55 1.55 0 1 0 540.7 580.45L541.8 584.8ZM542.39 585.23L546.87 584.93A1.55 1.55 0 1 0 545.91 581.98L542.11 584.37ZM541.89 585.06L543.55 589.23A1.55 1.55 0 1 0 546.06 587.41L542.61 584.54ZM541.89 584.54L538.44 587.41A1.55 1.55 0 1 0 540.95 589.23L542.61 585.06ZM542.39 584.37L538.59 581.98A1.55 1.55 0 1 0 537.63 584.93L542.11 585.23Z" fill="#000000"/>
<rect x="483" y="642.7" width="21.9" height="4.4" fill="#3b3fc4"/>
<rect x="504.9" y="642.7" width="45.9" height="4.4" fill="#000000"/>
<rect x="482.7" y="642.7" width="4.4" height="74" fill="#3b3fc4"/>
<rect x="502" y="644.9" width="4.4" height="17.5" fill="#3b3fc4"/>
<rect x="524.2" y="644.9" width="4.4" height="17.5" fill="#000000"/>
<rect x="546.6" y="644.9" width="4.4" height="17.5" fill="#000000"/>
<text x="486.8" y="640" font-family="Liberation Serif" font-size="21.3" fill="#3d42c8" stroke="#3d42c8" stroke-width="0.35" textLength="15.7" lengthAdjust="spacingAndGlyphs">N</text>
<path d="M515.2 634.5L516.3 630.15A1.55 1.55 0 1 0 513.2 630.15L514.3 634.5ZM514.89 634.93L519.37 634.63A1.55 1.55 0 1 0 518.41 631.68L514.61 634.07ZM514.39 634.76L516.05 638.93A1.55 1.55 0 1 0 518.56 637.11L515.11 634.24ZM514.39 634.24L510.94 637.11A1.55 1.55 0 1 0 513.45 638.93L515.11 634.76ZM514.89 634.07L511.09 631.68A1.55 1.55 0 1 0 510.13 634.63L514.61 634.93Z" fill="#000000"/>
<path d="M530.45 634.5L531.55 630.15A1.55 1.55 0 1 0 528.45 630.15L529.55 634.5ZM530.14 634.93L534.62 634.63A1.55 1.55 0 1 0 533.66 631.68L529.86 634.07ZM529.64 634.76L531.3 638.93A1.55 1.55 0 1 0 533.81 637.11L530.36 634.24ZM529.64 634.24L526.19 637.11A1.55 1.55 0 1 0 528.7 638.93L530.36 634.76ZM530.14 634.07L526.34 631.68A1.55 1.55 0 1 0 525.38 634.63L529.86 634.93Z" fill="#000000"/>
<path d="M545.7 634.5L546.8 630.15A1.55 1.55 0 1 0 543.7 630.15L544.8 634.5ZM545.39 634.93L549.87 634.63A1.55 1.55 0 1 0 548.91 631.68L545.11 634.07ZM544.89 634.76L546.55 638.93A1.55 1.55 0 1 0 549.06 637.11L545.61 634.24ZM544.89 634.24L541.44 637.11A1.55 1.55 0 1 0 543.95 638.93L545.61 634.76ZM545.39 634.07L541.59 631.68A1.55 1.55 0 1 0 540.63 634.63L545.11 634.93Z" fill="#000000"/>
<rect x="503.6" y="688.9" width="22.4" height="4.4" fill="#3b3fc4"/>
<rect x="526" y="688.9" width="23.8" height="4.4" fill="#000000"/>
<rect x="503.6" y="688.9" width="4.4" height="49" fill="#3b3fc4"/>
<rect x="522.3" y="691.1" width="4.4" height="17.5" fill="#3b3fc4"/>
<rect x="545.1" y="691.1" width="4.4" height="17.5" fill="#000000"/>
<text x="507.4" y="686.2" font-family="Liberation Serif" font-size="21.3" fill="#3d42c8" stroke="#3d42c8" stroke-width="0.35" textLength="15.7" lengthAdjust="spacingAndGlyphs">N</text>
<path d="M536.7 680.7L537.8 676.35A1.55 1.55 0 1 0 534.7 676.35L535.8 680.7ZM536.39 681.13L540.87 680.83A1.55 1.55 0 1 0 539.91 677.88L536.11 680.27ZM535.89 680.96L537.55 685.13A1.55 1.55 0 1 0 540.06 683.31L536.61 680.44ZM535.89 680.44L532.44 683.31A1.55 1.55 0 1 0 534.95 685.13L536.61 680.96ZM536.39 680.27L532.59 677.88A1.55 1.55 0 1 0 531.63 680.83L536.11 681.13Z" fill="#000000"/>
<rect x="521" y="735.1" width="23.8" height="4.4" fill="#3b3fc4"/>
<rect x="521.1" y="735.1" width="4.4" height="18.4" fill="#3b3fc4"/>
<rect x="540.5" y="737.3" width="4.4" height="46.8" fill="#3b3fc4"/>
<text x="525.4" y="732.4" font-family="Liberation Serif" font-size="21.3" fill="#3d42c8" stroke="#3d42c8" stroke-width="0.35" textLength="15.3" lengthAdjust="spacingAndGlyphs">N</text>
<rect x="614" y="223.8" width="142.1" height="4.4" fill="#000000"/>
<rect x="613.8" y="223.8" width="4.4" height="680.8" fill="#000000"/>
<rect x="751.8" y="226" width="4.4" height="22" fill="#000000"/>
<rect x="635.7" y="243.7" width="235.8" height="4.4" fill="#000000"/>
<path d="M675.2 211.2L676.3 206.85A1.55 1.55 0 1 0 673.2 206.85L674.3 211.2ZM674.89 211.63L679.37 211.33A1.55 1.55 0 1 0 678.41 208.38L674.61 210.77ZM674.39 211.46L676.05 215.63A1.55 1.55 0 1 0 678.56 213.81L675.11 210.94ZM674.39 210.94L670.94 213.81A1.55 1.55 0 1 0 673.45 215.63L675.11 211.46ZM674.89 210.77L671.09 208.38A1.55 1.55 0 1 0 670.13 211.33L674.61 211.63Z" fill="#000000"/>
<path d="M689.7 211.2L690.8 206.85A1.55 1.55 0 1 0 687.7 206.85L688.8 211.2ZM689.39 211.63L693.87 211.33A1.55 1.55 0 1 0 692.91 208.38L689.11 210.77ZM688.89 211.46L690.55 215.63A1.55 1.55 0 1 0 693.06 213.81L689.61 210.94ZM688.89 210.94L685.44 213.81A1.55 1.55 0 1 0 687.95 215.63L689.61 211.46ZM689.39 210.77L685.59 208.38A1.55 1.55 0 1 0 684.63 211.33L689.11 211.63Z" fill="#000000"/>
<rect x="633.5" y="274.7" width="45.7" height="4.4" fill="#000000"/>
<rect x="679.2" y="274.7" width="47.5" height="4.4" fill="#3b3fc4"/>
<rect x="726.7" y="274.7" width="30.5" height="4.4" fill="#000000"/>
<rect x="757.2" y="274.7" width="35.1" height="4.4" fill="#3b3fc4"/>
<rect x="792.3" y="274.7" width="63.4" height="4.4" fill="#000000"/>
<rect x="633.4" y="274.7" width="4.4" height="442.2" fill="#000000"/>
<rect x="674.1" y="276.9" width="4.4" height="19" fill="#000000"/>
<rect x="653.6" y="293.7" width="44.1" height="4.4" fill="#000000"/>
<rect x="721.6" y="276.9" width="4.4" height="19" fill="#3b3fc4"/>
<rect x="714.3" y="293.7" width="20.3" height="4.4" fill="#3b3fc4"/>
<rect x="752.1" y="276.9" width="4.4" height="17.6" fill="#000000"/>
<rect x="788.4" y="276.9" width="4.4" height="17.6" fill="#3b3fc4"/>
<rect x="771.5" y="292.3" width="39.4" height="4.4" fill="#3b3fc4"/>
<rect x="851.2" y="276.9" width="4.4" height="17.6" fill="#000000"/>
<rect x="830.8" y="292.3" width="45.2" height="4.4" fill="#000000"/>
<path d="M646.9 266.5L648 262.15A1.55 1.55 0 1 0 644.9 262.15L646 266.5ZM646.59 266.93L651.07 266.63A1.55 1.55 0 1 0 650.11 263.68L646.31 266.07ZM646.09 266.76L647.75 270.93A1.55 1.55 0 1 0 650.26 269.11L646.81 266.24ZM646.09 266.24L642.64 269.11A1.55 1.55 0 1 0 645.15 270.93L646.81 266.76ZM646.59 266.07L642.79 263.68A1.55 1.55 0 1 0 641.83 266.63L646.31 266.93Z" fill="#000000"/>
<path d="M661.4 266.5L662.5 262.15A1.55 1.55 0 1 0 659.4 262.15L660.5 266.5ZM661.09 266.93L665.57 266.63A1.55 1.55 0 1 0 664.61 263.68L660.81 266.07ZM660.59 266.76L662.25 270.93A1.55 1.55 0 1 0 664.76 269.11L661.31 266.24ZM660.59 266.24L657.14 269.11A1.55 1.55 0 1 0 659.65 270.93L661.31 266.76ZM661.09 266.07L657.29 263.68A1.55 1.55 0 1 0 656.33 266.63L660.81 266.93Z" fill="#000000"/>
<text x="692.2" y="272" font-family="Liberation Serif" font-size="21.3" fill="#3d42c8" stroke="#3d42c8" stroke-width="0.35" textLength="16" lengthAdjust="spacingAndGlyphs">N</text>
<path d="M736.2 266.5L737.3 262.15A1.55 1.55 0 1 0 734.2 262.15L735.3 266.5ZM735.89 266.93L740.37 266.63A1.55 1.55 0 1 0 739.41 263.68L735.61 266.07ZM735.39 266.76L737.05 270.93A1.55 1.55 0 1 0 739.56 269.11L736.11 266.24ZM735.39 266.24L731.94 269.11A1.55 1.55 0 1 0 734.45 270.93L736.11 266.76ZM735.89 266.07L732.09 263.68A1.55 1.55 0 1 0 731.13 266.63L735.61 266.93Z" fill="#000000"/>
<path d="M750.7 266.5L751.8 262.15A1.55 1.55 0 1 0 748.7 262.15L749.8 266.5ZM750.39 266.93L754.87 266.63A1.55 1.55 0 1 0 753.91 263.68L750.11 266.07ZM749.89 266.76L751.55 270.93A1.55 1.55 0 1 0 754.06 269.11L750.61 266.24ZM749.89 266.24L746.44 269.11A1.55 1.55 0 1 0 748.95 270.93L750.61 266.76ZM750.39 266.07L746.59 263.68A1.55 1.55 0 1 0 745.63 266.63L750.11 266.93Z" fill="#000000"/>
<text x="769.1" y="272" font-family="Liberation Serif" font-size="21.3" fill="#3d42c8" stroke="#3d42c8" stroke-width="0.35" textLength="16" lengthAdjust="spacingAndGlyphs">N</text>
<path d="M823.2 266.5L824.3 262.15A1.55 1.55 0 1 0 821.2 262.15L822.3 266.5ZM822.89 266.93L827.37 266.63A1.55 1.55 0 1 0 826.41 263.68L822.61 266.07ZM822.39 266.76L824.05 270.93A1.55 1.55 0 1 0 826.56 269.11L823.11 266.24ZM822.39 266.24L818.94 269.11A1.55 1.55 0 1 0 821.45 270.93L823.11 266.76ZM822.89 266.07L819.09 263.68A1.55 1.55 0 1 0 818.13 266.63L822.61 266.93Z" fill="#000000"/>
<path d="M837.9 266.5L839 262.15A1.55 1.55 0 1 0 835.9 262.15L837 266.5ZM837.59 266.93L842.07 266.63A1.55 1.55 0 1 0 841.11 263.68L837.31 266.07ZM837.09 266.76L838.75 270.93A1.55 1.55 0 1 0 841.26 269.11L837.81 266.24ZM837.09 266.24L833.64 269.11A1.55 1.55 0 1 0 836.15 270.93L837.81 266.76ZM837.59 266.07L833.79 263.68A1.55 1.55 0 1 0 832.83 266.63L837.31 266.93Z" fill="#000000"/>
<rect x="652.5" y="322.8" width="139.8" height="4.4" fill="#000000"/>
<rect x="792.3" y="322.8" width="39.6" height="4.4" fill="#3b3fc4"/>
<rect x="831.9" y="322.8" width="32.8" height="4.4" fill="#000000"/>
<rect x="652.3" y="322.8" width="4.4" height="441.5" fill="#000000"/>
<rect x="702.7" y="325" width="4.4" height="18.8" fill="#000000"/>
<rect x="672.4" y="341.6" width="60.6" height="4.4" fill="#000000"/>
<rect x="746" y="325" width="4.4" height="18.8" fill="#000000"/>
<rect x="786.1" y="325" width="4.4" height="18.8" fill="#000000"/>
<rect x="767" y="341.6" width="43.9" height="4.4" fill="#000000"/>
<rect x="827.4" y="325" width="4.4" height="18.8" fill="#3b3fc4"/>
<rect x="860.2" y="325" width="4.4" height="18.8" fill="#000000"/>
<rect x="850" y="341.6" width="24.9" height="4.4" fill="#000000"/>
<path d="M674.1 314.6L675.2 310.25A1.55 1.55 0 1 0 672.1 310.25L673.2 314.6ZM673.79 315.03L678.27 314.73A1.55 1.55 0 1 0 677.31 311.78L673.51 314.17ZM673.29 314.86L674.95 319.03A1.55 1.55 0 1 0 677.46 317.21L674.01 314.34ZM673.29 314.34L669.84 317.21A1.55 1.55 0 1 0 672.35 319.03L674.01 314.86ZM673.79 314.17L669.99 311.78A1.55 1.55 0 1 0 669.03 314.73L673.51 315.03Z" fill="#000000"/>
<path d="M687.5 314.6L688.6 310.25A1.55 1.55 0 1 0 685.5 310.25L686.6 314.6ZM687.19 315.03L691.67 314.73A1.55 1.55 0 1 0 690.71 311.78L686.91 314.17ZM686.69 314.86L688.35 319.03A1.55 1.55 0 1 0 690.86 317.21L687.41 314.34ZM686.69 314.34L683.24 317.21A1.55 1.55 0 1 0 685.75 319.03L687.41 314.86ZM687.19 314.17L683.39 311.78A1.55 1.55 0 1 0 682.43 314.73L686.91 315.03Z" fill="#000000"/>
<path d="M728.2 314.6L729.3 310.25A1.55 1.55 0 1 0 726.2 310.25L727.3 314.6ZM727.89 315.03L732.37 314.73A1.55 1.55 0 1 0 731.41 311.78L727.61 314.17ZM727.39 314.86L729.05 319.03A1.55 1.55 0 1 0 731.56 317.21L728.11 314.34ZM727.39 314.34L723.94 317.21A1.55 1.55 0 1 0 726.45 319.03L728.11 314.86ZM727.89 314.17L724.09 311.78A1.55 1.55 0 1 0 723.13 314.73L727.61 315.03Z" fill="#000000"/>
<path d="M760 314.6L761.1 310.25A1.55 1.55 0 1 0 758 310.25L759.1 314.6ZM759.69 315.03L764.17 314.73A1.55 1.55 0 1 0 763.21 311.78L759.41 314.17ZM759.19 314.86L760.85 319.03A1.55 1.55 0 1 0 763.36 317.21L759.91 314.34ZM759.19 314.34L755.74 317.21A1.55 1.55 0 1 0 758.25 319.03L759.91 314.86ZM759.69 314.17L755.89 311.78A1.55 1.55 0 1 0 754.93 314.73L759.41 315.03Z" fill="#000000"/>
<path d="M774.6 314.6L775.7 310.25A1.55 1.55 0 1 0 772.6 310.25L773.7 314.6ZM774.29 315.03L778.77 314.73A1.55 1.55 0 1 0 777.81 311.78L774.01 314.17ZM773.79 314.86L775.45 319.03A1.55 1.55 0 1 0 777.96 317.21L774.51 314.34ZM773.79 314.34L770.34 317.21A1.55 1.55 0 1 0 772.85 319.03L774.51 314.86ZM774.29 314.17L770.49 311.78A1.55 1.55 0 1 0 769.53 314.73L774.01 315.03Z" fill="#000000"/>
<text x="799.4" y="320.1" font-family="Liberation Serif" font-size="21.3" fill="#3d42c8" stroke="#3d42c8" stroke-width="0.35" textLength="15.1" lengthAdjust="spacingAndGlyphs">N</text>
<path d="M841.5 314.6L842.6 310.25A1.55 1.55 0 1 0 839.5 310.25L840.6 314.6ZM841.19 315.03L845.67 314.73A1.55 1.55 0 1 0 844.71 311.78L840.91 314.17ZM840.69 314.86L842.35 319.03A1.55 1.55 0 1 0 844.86 317.21L841.41 314.34ZM840.69 314.34L837.24 317.21A1.55 1.55 0 1 0 839.75 319.03L841.41 314.86ZM841.19 314.17L837.39 311.78A1.55 1.55 0 1 0 836.43 314.73L840.91 315.03Z" fill="#000000"/>
<path d="M854.9 314.6L856 310.25A1.55 1.55 0 1 0 852.9 310.25L854 314.6ZM854.59 315.03L859.07 314.73A1.55 1.55 0 1 0 858.11 311.78L854.31 314.17ZM854.09 314.86L855.75 319.03A1.55 1.55 0 1 0 858.26 317.21L854.81 314.34ZM854.09 314.34L850.64 317.21A1.55 1.55 0 1 0 853.15 319.03L854.81 314.86ZM854.59 314.17L850.79 311.78A1.55 1.55 0 1 0 849.83 314.73L854.31 315.03Z" fill="#000000"/>
<rect x="672" y="367.3" width="94.3" height="4.4" fill="#000000"/>
<rect x="766.3" y="367.3" width="98.4" height="4.4" fill="#3b3fc4"/>
<rect x="671.7" y="367.3" width="4.4" height="450" fill="#000000"/>
<rect x="762" y="369.5" width="4.4" height="17.3" fill="#000000"/>
<rect x="691.6" y="384.6" width="141.4" height="4.4" fill="#000000"/>
<rect x="860.4" y="369.5" width="4.4" height="15.7" fill="#3b3fc4"/>
<rect x="851" y="383" width="23.9" height="4.4" fill="#3b3fc4"/>
<path d="M709.2 359.1L710.3 354.75A1.55 1.55 0 1 0 707.2 354.75L708.3 359.1ZM708.89 359.53L713.37 359.23A1.55 1.55 0 1 0 712.41 356.28L708.61 358.67ZM708.39 359.36L710.05 363.53A1.55 1.55 0 1 0 712.56 361.71L709.11 358.84ZM708.39 358.84L704.94 361.71A1.55 1.55 0 1 0 707.45 363.53L709.11 359.36ZM708.89 358.67L705.09 356.28A1.55 1.55 0 1 0 704.13 359.23L708.61 359.53Z" fill="#000000"/>
<path d="M722.5 359.1L723.6 354.75A1.55 1.55 0 1 0 720.5 354.75L721.6 359.1ZM722.19 359.53L726.67 359.23A1.55 1.55 0 1 0 725.71 356.28L721.91 358.67ZM721.69 359.36L723.35 363.53A1.55 1.55 0 1 0 725.86 361.71L722.41 358.84ZM721.69 358.84L718.24 361.71A1.55 1.55 0 1 0 720.75 363.53L722.41 359.36ZM722.19 358.67L718.39 356.28A1.55 1.55 0 1 0 717.43 359.23L721.91 359.53Z" fill="#000000"/>
<text x="807.4" y="364.6" font-family="Liberation Serif" font-size="21.3" fill="#3d42c8" stroke="#3d42c8" stroke-width="0.35" textLength="15" lengthAdjust="spacingAndGlyphs">N</text>
<rect x="690.5" y="412" width="95" height="4.4" fill="#000000"/>
<rect x="785.5" y="412" width="88.9" height="4.4" fill="#3b3fc4"/>
<rect x="690.3" y="412" width="4.4" height="435.2" fill="#000000"/>
<rect x="779.9" y="414.2" width="4.4" height="17.4" fill="#000000"/>
<rect x="710.4" y="429.4" width="141.9" height="4.4" fill="#000000"/>
<rect x="870.2" y="414.2" width="4.4" height="15.8" fill="#3b3fc4"/>
<path d="M728.4 403.8L729.5 399.45A1.55 1.55 0 1 0 726.4 399.45L727.5 403.8ZM728.09 404.23L732.57 403.93A1.55 1.55 0 1 0 731.61 400.98L727.81 403.37ZM727.59 404.06L729.25 408.23A1.55 1.55 0 1 0 731.76 406.41L728.31 403.54ZM727.59 403.54L724.14 406.41A1.55 1.55 0 1 0 726.65 408.23L728.31 404.06ZM728.09 403.37L724.29 400.98A1.55 1.55 0 1 0 723.33 403.93L727.81 404.23Z" fill="#000000"/>
<path d="M741.7 403.8L742.8 399.45A1.55 1.55 0 1 0 739.7 399.45L740.8 403.8ZM741.39 404.23L745.87 403.93A1.55 1.55 0 1 0 744.91 400.98L741.11 403.37ZM740.89 404.06L742.55 408.23A1.55 1.55 0 1 0 745.06 406.41L741.61 403.54ZM740.89 403.54L737.44 406.41A1.55 1.55 0 1 0 739.95 408.23L741.61 404.06ZM741.39 403.37L737.59 400.98A1.55 1.55 0 1 0 736.63 403.93L741.11 404.23Z" fill="#000000"/>
<text x="817" y="409.3" font-family="Liberation Serif" font-size="21.3" fill="#3d42c8" stroke="#3d42c8" stroke-width="0.35" textLength="14.9" lengthAdjust="spacingAndGlyphs">N</text>
<rect x="709.7" y="457.9" width="22" height="4.4" fill="#3b3fc4"/>
<rect x="731.7" y="457.9" width="22.1" height="4.4" fill="#000000"/>
<rect x="753.8" y="457.9" width="35.1" height="4.4" fill="#3b3fc4"/>
<rect x="788.9" y="457.9" width="63.4" height="4.4" fill="#000000"/>
<rect x="709.6" y="457.9" width="4.4" height="260.8" fill="#3b3fc4"/>
<rect x="728.1" y="460.1" width="4.4" height="15.6" fill="#3b3fc4"/>
<rect x="749.1" y="460.1" width="4.4" height="15.6" fill="#000000"/>
<rect x="785.3" y="460.1" width="4.4" height="17.5" fill="#3b3fc4"/>
<rect x="768.6" y="475.4" width="39.1" height="4.4" fill="#3b3fc4"/>
<rect x="848" y="460.1" width="4.4" height="17.5" fill="#000000"/>
<rect x="827.4" y="475.4" width="45.9" height="4.4" fill="#000000"/>
<text x="711.4" y="455.2" font-family="Liberation Serif" font-size="21.3" fill="#3d42c8" stroke="#3d42c8" stroke-width="0.35" textLength="14.9" lengthAdjust="spacingAndGlyphs">N</text>
<path d="M734.7 449.7L735.8 445.35A1.55 1.55 0 1 0 732.7 445.35L733.8 449.7ZM734.39 450.13L738.87 449.83A1.55 1.55 0 1 0 737.91 446.88L734.11 449.27ZM733.89 449.96L735.55 454.13A1.55 1.55 0 1 0 738.06 452.31L734.61 449.44ZM733.89 449.44L730.44 452.31A1.55 1.55 0 1 0 732.95 454.13L734.61 449.96ZM734.39 449.27L730.59 446.88A1.55 1.55 0 1 0 729.63 449.83L734.11 450.13Z" fill="#000000"/>
<path d="M748.5 449.7L749.6 445.35A1.55 1.55 0 1 0 746.5 445.35L747.6 449.7ZM748.19 450.13L752.67 449.83A1.55 1.55 0 1 0 751.71 446.88L747.91 449.27ZM747.69 449.96L749.35 454.13A1.55 1.55 0 1 0 751.86 452.31L748.41 449.44ZM747.69 449.44L744.24 452.31A1.55 1.55 0 1 0 746.75 454.13L748.41 449.96ZM748.19 449.27L744.39 446.88A1.55 1.55 0 1 0 743.43 449.83L747.91 450.13Z" fill="#000000"/>
<text x="766.8" y="455.2" font-family="Liberation Serif" font-size="21.3" fill="#3d42c8" stroke="#3d42c8" stroke-width="0.35" textLength="14.9" lengthAdjust="spacingAndGlyphs">N</text>
<path d="M820.7 449.7L821.8 445.35A1.55 1.55 0 1 0 818.7 445.35L819.8 449.7ZM820.39 450.13L824.87 449.83A1.55 1.55 0 1 0 823.91 446.88L820.11 449.27ZM819.89 449.96L821.55 454.13A1.55 1.55 0 1 0 824.06 452.31L820.61 449.44ZM819.89 449.44L816.44 452.31A1.55 1.55 0 1 0 818.95 454.13L820.61 449.96ZM820.39 449.27L816.59 446.88A1.55 1.55 0 1 0 815.63 449.83L820.11 450.13Z" fill="#000000"/>
<path d="M834.1 449.7L835.2 445.35A1.55 1.55 0 1 0 832.1 445.35L833.2 449.7ZM833.79 450.13L838.27 449.83A1.55 1.55 0 1 0 837.31 446.88L833.51 449.27ZM833.29 449.96L834.95 454.13A1.55 1.55 0 1 0 837.46 452.31L834.01 449.44ZM833.29 449.44L829.84 452.31A1.55 1.55 0 1 0 832.35 454.13L834.01 449.96ZM833.79 449.27L829.99 446.88A1.55 1.55 0 1 0 829.03 449.83L833.51 450.13Z" fill="#000000"/>
<rect x="728.5" y="502.8" width="27.2" height="4.4" fill="#000000"/>
<rect x="755.7" y="502.8" width="34.8" height="4.4" fill="#3b3fc4"/>
<rect x="790.5" y="502.8" width="63.3" height="4.4" fill="#000000"/>
<rect x="728.4" y="502.8" width="4.4" height="214.1" fill="#000000"/>
<rect x="750.6" y="505" width="4.4" height="17.3" fill="#000000"/>
<rect x="787.2" y="505" width="4.4" height="17" fill="#3b3fc4"/>
<rect x="769.7" y="519.8" width="40" height="4.4" fill="#3b3fc4"/>
<rect x="849.4" y="505" width="4.4" height="17.3" fill="#000000"/>
<rect x="828.6" y="520.1" width="46.3" height="4.4" fill="#000000"/>
<path d="M734 494.6L735.1 490.25A1.55 1.55 0 1 0 732 490.25L733.1 494.6ZM733.69 495.03L738.17 494.73A1.55 1.55 0 1 0 737.21 491.78L733.41 494.17ZM733.19 494.86L734.85 499.03A1.55 1.55 0 1 0 737.36 497.21L733.91 494.34ZM733.19 494.34L729.74 497.21A1.55 1.55 0 1 0 732.25 499.03L733.91 494.86ZM733.69 494.17L729.89 491.78A1.55 1.55 0 1 0 728.93 494.73L733.41 495.03Z" fill="#000000"/>
<path d="M748.5 494.6L749.6 490.25A1.55 1.55 0 1 0 746.5 490.25L747.6 494.6ZM748.19 495.03L752.67 494.73A1.55 1.55 0 1 0 751.71 491.78L747.91 494.17ZM747.69 494.86L749.35 499.03A1.55 1.55 0 1 0 751.86 497.21L748.41 494.34ZM747.69 494.34L744.24 497.21A1.55 1.55 0 1 0 746.75 499.03L748.41 494.86ZM748.19 494.17L744.39 491.78A1.55 1.55 0 1 0 743.43 494.73L747.91 495.03Z" fill="#000000"/>
<text x="768" y="500.1" font-family="Liberation Serif" font-size="21.3" fill="#3d42c8" stroke="#3d42c8" stroke-width="0.35" textLength="14.7" lengthAdjust="spacingAndGlyphs">N</text>
<path d="M821.6 494.6L822.7 490.25A1.55 1.55 0 1 0 819.6 490.25L820.7 494.6ZM821.29 495.03L825.77 494.73A1.55 1.55 0 1 0 824.81 491.78L821.01 494.17ZM820.79 494.86L822.45 499.03A1.55 1.55 0 1 0 824.96 497.21L821.51 494.34ZM820.79 494.34L817.34 497.21A1.55 1.55 0 1 0 819.85 499.03L821.51 494.86ZM821.29 494.17L817.49 491.78A1.55 1.55 0 1 0 816.53 494.73L821.01 495.03Z" fill="#000000"/>
<path d="M835.7 494.6L836.8 490.25A1.55 1.55 0 1 0 833.7 490.25L834.8 494.6ZM835.39 495.03L839.87 494.73A1.55 1.55 0 1 0 838.91 491.78L835.11 494.17ZM834.89 494.86L836.55 499.03A1.55 1.55 0 1 0 839.06 497.21L835.61 494.34ZM834.89 494.34L831.44 497.21A1.55 1.55 0 1 0 833.95 499.03L835.61 494.86ZM835.39 494.17L831.59 491.78A1.55 1.55 0 1 0 830.63 494.73L835.11 495.03Z" fill="#000000"/>
<rect x="747.4" y="547.1" width="46" height="4.4" fill="#000000"/>
<rect x="793.4" y="547.1" width="33.8" height="4.4" fill="#3b3fc4"/>
<rect x="827.2" y="547.1" width="33.2" height="4.4" fill="#000000"/>
<rect x="747.5" y="547.1" width="4.4" height="200.3" fill="#000000"/>
<rect x="789" y="549.3" width="4.4" height="19.3" fill="#000000"/>
<rect x="768.2" y="566.4" width="44.4" height="4.4" fill="#000000"/>
<rect x="822.4" y="549.3" width="4.4" height="20" fill="#3b3fc4"/>
<rect x="855.8" y="549.3" width="4.4" height="19" fill="#000000"/>
<rect x="845.2" y="566.1" width="24.5" height="4.4" fill="#000000"/>
<path d="M761.8 538.9L762.9 534.55A1.55 1.55 0 1 0 759.8 534.55L760.9 538.9ZM761.49 539.33L765.97 539.03A1.55 1.55 0 1 0 765.01 536.08L761.21 538.47ZM760.99 539.16L762.65 543.33A1.55 1.55 0 1 0 765.16 541.51L761.71 538.64ZM760.99 538.64L757.54 541.51A1.55 1.55 0 1 0 760.05 543.33L761.71 539.16ZM761.49 538.47L757.69 536.08A1.55 1.55 0 1 0 756.73 539.03L761.21 539.33Z" fill="#000000"/>
<path d="M775.5 538.9L776.6 534.55A1.55 1.55 0 1 0 773.5 534.55L774.6 538.9ZM775.19 539.33L779.67 539.03A1.55 1.55 0 1 0 778.71 536.08L774.91 538.47ZM774.69 539.16L776.35 543.33A1.55 1.55 0 1 0 778.86 541.51L775.41 538.64ZM774.69 538.64L771.24 541.51A1.55 1.55 0 1 0 773.75 543.33L775.41 539.16ZM775.19 538.47L771.39 536.08A1.55 1.55 0 1 0 770.43 539.03L774.91 539.33Z" fill="#000000"/>
<text x="800.9" y="544.4" font-family="Liberation Serif" font-size="21.3" fill="#3d42c8" stroke="#3d42c8" stroke-width="0.35" textLength="15.4" lengthAdjust="spacingAndGlyphs">N</text>
<path d="M836.6 538.9L837.7 534.55A1.55 1.55 0 1 0 834.6 534.55L835.7 538.9ZM836.29 539.33L840.77 539.03A1.55 1.55 0 1 0 839.81 536.08L836.01 538.47ZM835.79 539.16L837.45 543.33A1.55 1.55 0 1 0 839.96 541.51L836.51 538.64ZM835.79 538.64L832.34 541.51A1.55 1.55 0 1 0 834.85 543.33L836.51 539.16ZM836.29 538.47L832.49 536.08A1.55 1.55 0 1 0 831.53 539.03L836.01 539.33Z" fill="#000000"/>
<path d="M850.3 538.9L851.4 534.55A1.55 1.55 0 1 0 848.3 534.55L849.4 538.9ZM849.99 539.33L854.47 539.03A1.55 1.55 0 1 0 853.51 536.08L849.71 538.47ZM849.49 539.16L851.15 543.33A1.55 1.55 0 1 0 853.66 541.51L850.21 538.64ZM849.49 538.64L846.04 541.51A1.55 1.55 0 1 0 848.55 543.33L850.21 539.16ZM849.99 538.47L846.19 536.08A1.55 1.55 0 1 0 845.23 539.03L849.71 539.33Z" fill="#000000"/>
<rect x="767" y="595" width="36.5" height="4.4" fill="#3b3fc4"/>
<rect x="803.5" y="595" width="52.1" height="4.4" fill="#000000"/>
<rect x="766.8" y="595" width="4.4" height="126.2" fill="#3b3fc4"/>
<rect x="799" y="597.2" width="4.4" height="17.3" fill="#3b3fc4"/>
<rect x="788.9" y="612.3" width="23.7" height="4.4" fill="#3b3fc4"/>
<rect x="851.2" y="597.2" width="4.4" height="19.1" fill="#000000"/>
<rect x="832.2" y="614.1" width="40.9" height="4.4" fill="#000000"/>
<text x="775.7" y="592.3" font-family="Liberation Serif" font-size="21.3" fill="#3d42c8" stroke="#3d42c8" stroke-width="0.35" textLength="14.7" lengthAdjust="spacingAndGlyphs">N</text>
<path d="M823.2 586.8L824.3 582.45A1.55 1.55 0 1 0 821.2 582.45L822.3 586.8ZM822.89 587.23L827.37 586.93A1.55 1.55 0 1 0 826.41 583.98L822.61 586.37ZM822.39 587.06L824.05 591.23A1.55 1.55 0 1 0 826.56 589.41L823.11 586.54ZM822.39 586.54L818.94 589.41A1.55 1.55 0 1 0 821.45 591.23L823.11 587.06ZM822.89 586.37L819.09 583.98A1.55 1.55 0 1 0 818.13 586.93L822.61 587.23Z" fill="#000000"/>
<path d="M837.7 586.8L838.8 582.45A1.55 1.55 0 1 0 835.7 582.45L836.8 586.8ZM837.39 587.23L841.87 586.93A1.55 1.55 0 1 0 840.91 583.98L837.11 586.37ZM836.89 587.06L838.55 591.23A1.55 1.55 0 1 0 841.06 589.41L837.61 586.54ZM836.89 586.54L833.44 589.41A1.55 1.55 0 1 0 835.95 591.23L837.61 587.06ZM837.39 586.37L833.59 583.98A1.55 1.55 0 1 0 832.63 586.93L837.11 587.23Z" fill="#000000"/>
<rect x="787.1" y="642.6" width="23.3" height="4.4" fill="#3b3fc4"/>
<rect x="810.4" y="642.6" width="41.9" height="4.4" fill="#000000"/>
<rect x="787.2" y="642.6" width="4.4" height="78.8" fill="#3b3fc4"/>
<rect x="806.4" y="644.8" width="4.4" height="16.7" fill="#3b3fc4"/>
<rect x="848" y="644.8" width="4.4" height="19.5" fill="#000000"/>
<rect x="828.6" y="662.1" width="41.3" height="4.4" fill="#000000"/>
<text x="790.1" y="639.9" font-family="Liberation Serif" font-size="21.3" fill="#3d42c8" stroke="#3d42c8" stroke-width="0.35" textLength="15.1" lengthAdjust="spacingAndGlyphs">N</text>
<path d="M821.1 634.4L822.2 630.05A1.55 1.55 0 1 0 819.1 630.05L820.2 634.4ZM820.79 634.83L825.27 634.53A1.55 1.55 0 1 0 824.31 631.58L820.51 633.97ZM820.29 634.66L821.95 638.83A1.55 1.55 0 1 0 824.46 637.01L821.01 634.14ZM820.29 634.14L816.84 637.01A1.55 1.55 0 1 0 819.35 638.83L821.01 634.66ZM820.79 633.97L816.99 631.58A1.55 1.55 0 1 0 816.03 634.53L820.51 634.83Z" fill="#000000"/>
<path d="M834.7 634.4L835.8 630.05A1.55 1.55 0 1 0 832.7 630.05L833.8 634.4ZM834.39 634.83L838.87 634.53A1.55 1.55 0 1 0 837.91 631.58L834.11 633.97ZM833.89 634.66L835.55 638.83A1.55 1.55 0 1 0 838.06 637.01L834.61 634.14ZM833.89 634.14L830.44 637.01A1.55 1.55 0 1 0 832.95 638.83L834.61 634.66ZM834.39 633.97L830.59 631.58A1.55 1.55 0 1 0 829.63 634.53L834.11 634.83Z" fill="#000000"/>
<rect x="806.5" y="689" width="45.7" height="4.4" fill="#000000"/>
<rect x="806.6" y="689" width="4.4" height="36.2" fill="#000000"/>
<rect x="847.9" y="691.2" width="4.4" height="18.8" fill="#000000"/>
<rect x="832" y="707.8" width="36.9" height="4.4" fill="#000000"/>
<path d="M820.2 680.8L821.3 676.45A1.55 1.55 0 1 0 818.2 676.45L819.3 680.8ZM819.89 681.23L824.37 680.93A1.55 1.55 0 1 0 823.41 677.98L819.61 680.37ZM819.39 681.06L821.05 685.23A1.55 1.55 0 1 0 823.56 683.41L820.11 680.54ZM819.39 680.54L815.94 683.41A1.55 1.55 0 1 0 818.45 685.23L820.11 681.06ZM819.89 680.37L816.09 677.98A1.55 1.55 0 1 0 815.13 680.93L819.61 681.23Z" fill="#000000"/>
<path d="M834.7 680.8L835.8 676.45A1.55 1.55 0 1 0 832.7 676.45L833.8 680.8ZM834.39 681.23L838.87 680.93A1.55 1.55 0 1 0 837.91 677.98L834.11 680.37ZM833.89 681.06L835.55 685.23A1.55 1.55 0 1 0 838.06 683.41L834.61 680.54ZM833.89 680.54L830.44 683.41A1.55 1.55 0 1 0 832.95 685.23L834.61 681.06ZM834.39 680.37L830.59 677.98A1.55 1.55 0 1 0 829.63 680.93L834.11 681.23Z" fill="#000000"/>
<rect x="825.6" y="738.2" width="34.7" height="4.4" fill="#000000"/>
<rect x="825.5" y="738.2" width="4.4" height="15.4" fill="#000000"/>
<rect x="856" y="740.4" width="4.4" height="25.4" fill="#000000"/>
<rect x="845" y="763.6" width="24.9" height="4.4" fill="#000000"/>
<path d="M836.5 730L837.6 725.65A1.55 1.55 0 1 0 834.5 725.65L835.6 730ZM836.19 730.43L840.67 730.13A1.55 1.55 0 1 0 839.71 727.18L835.91 729.57ZM835.69 730.26L837.35 734.43A1.55 1.55 0 1 0 839.86 732.61L836.41 729.74ZM835.69 729.74L832.24 732.61A1.55 1.55 0 1 0 834.75 734.43L836.41 730.26ZM836.19 729.57L832.39 727.18A1.55 1.55 0 1 0 831.43 730.13L835.91 730.43Z" fill="#000000"/>
<path d="M850.9 730L852 725.65A1.55 1.55 0 1 0 848.9 725.65L850 730ZM850.59 730.43L855.07 730.13A1.55 1.55 0 1 0 854.11 727.18L850.31 729.57ZM850.09 730.26L851.75 734.43A1.55 1.55 0 1 0 854.26 732.61L850.81 729.74ZM850.09 729.74L846.64 732.61A1.55 1.55 0 1 0 849.15 734.43L850.81 730.26ZM850.59 729.57L846.79 727.18A1.55 1.55 0 1 0 845.83 730.13L850.31 730.43Z" fill="#000000"/>
<rect x="845" y="790.9" width="23.4" height="4.4" fill="#3b3fc4"/>
<rect x="844.9" y="790.9" width="4.4" height="10.4" fill="#3b3fc4"/>
<rect x="863.9" y="793.1" width="4.4" height="43.1" fill="#3b3fc4"/>
<text x="849" y="788.2" font-family="Liberation Serif" font-size="21.3" fill="#3d42c8" stroke="#3d42c8" stroke-width="0.35" textLength="15" lengthAdjust="spacingAndGlyphs">N</text>
<rect x="935.4" y="272" width="143" height="4.4" fill="#000000"/>
<rect x="935.4" y="272" width="4.4" height="635.1" fill="#000000"/>
<rect x="1073.9" y="274.2" width="4.4" height="22.3" fill="#000000"/>
<rect x="957.3" y="292.1" width="236.5" height="4.4" fill="#000000"/>
<path d="M998.2 260.2L999.3 255.85A1.55 1.55 0 1 0 996.2 255.85L997.3 260.2ZM997.89 260.63L1002.37 260.33A1.55 1.55 0 1 0 1001.41 257.38L997.61 259.77ZM997.39 260.46L999.05 264.63A1.55 1.55 0 1 0 1001.56 262.81L998.11 259.94ZM997.39 259.94L993.94 262.81A1.55 1.55 0 1 0 996.45 264.63L998.11 260.46ZM997.89 259.77L994.09 257.38A1.55 1.55 0 1 0 993.13 260.33L997.61 260.63Z" fill="#000000"/>
<path d="M1011.5 260.2L1012.6 255.85A1.55 1.55 0 1 0 1009.5 255.85L1010.6 260.2ZM1011.19 260.63L1015.67 260.33A1.55 1.55 0 1 0 1014.71 257.38L1010.91 259.77ZM1010.69 260.46L1012.35 264.63A1.55 1.55 0 1 0 1014.86 262.81L1011.41 259.94ZM1010.69 259.94L1007.24 262.81A1.55 1.55 0 1 0 1009.75 264.63L1011.41 260.46ZM1011.19 259.77L1007.39 257.38A1.55 1.55 0 1 0 1006.43 260.33L1010.91 260.63Z" fill="#000000"/>
<rect x="956.9" y="321.1" width="23.1" height="4.4" fill="#3b3fc4"/>
<rect x="980" y="321.1" width="87" height="4.4" fill="#000000"/>
<rect x="1067" y="321.1" width="44.2" height="4.4" fill="#3b3fc4"/>
<rect x="1111.2" y="321.1" width="63.8" height="4.4" fill="#000000"/>
<rect x="956.9" y="321.1" width="4.4" height="489.9" fill="#3b3fc4"/>
<rect x="977" y="323.3" width="4.4" height="18.1" fill="#3b3fc4"/>
<rect x="1007.2" y="323.3" width="4.4" height="16.9" fill="#000000"/>
<rect x="998" y="338" width="22" height="4.4" fill="#000000"/>
<rect x="1033.2" y="323.3" width="4.4" height="18.1" fill="#000000"/>
<rect x="1061.4" y="323.3" width="4.4" height="16.9" fill="#000000"/>
<rect x="1051.9" y="338" width="22.4" height="4.4" fill="#000000"/>
<rect x="1107.4" y="323.3" width="4.4" height="16.9" fill="#3b3fc4"/>
<rect x="1090" y="338" width="40" height="4.4" fill="#3b3fc4"/>
<rect x="1170.1" y="323.3" width="4.4" height="16.9" fill="#000000"/>
<rect x="1149.6" y="338" width="45.7" height="4.4" fill="#000000"/>
<text x="960.1" y="318.4" font-family="Liberation Serif" font-size="21.3" fill="#3d42c8" stroke="#3d42c8" stroke-width="0.35" textLength="15.6" lengthAdjust="spacingAndGlyphs">N</text>
<path d="M984.6 312.9L985.7 308.55A1.55 1.55 0 1 0 982.6 308.55L983.7 312.9ZM984.29 313.33L988.77 313.03A1.55 1.55 0 1 0 987.81 310.08L984.01 312.47ZM983.79 313.16L985.45 317.33A1.55 1.55 0 1 0 987.96 315.51L984.51 312.64ZM983.79 312.64L980.34 315.51A1.55 1.55 0 1 0 982.85 317.33L984.51 313.16ZM984.29 312.47L980.49 310.08A1.55 1.55 0 1 0 979.53 313.03L984.01 313.33Z" fill="#000000"/>
<path d="M998.4 312.9L999.5 308.55A1.55 1.55 0 1 0 996.4 308.55L997.5 312.9ZM998.09 313.33L1002.57 313.03A1.55 1.55 0 1 0 1001.61 310.08L997.81 312.47ZM997.59 313.16L999.25 317.33A1.55 1.55 0 1 0 1001.76 315.51L998.31 312.64ZM997.59 312.64L994.14 315.51A1.55 1.55 0 1 0 996.65 317.33L998.31 313.16ZM998.09 312.47L994.29 310.08A1.55 1.55 0 1 0 993.33 313.03L997.81 313.33Z" fill="#000000"/>
<path d="M1024.6 312.9L1025.7 308.55A1.55 1.55 0 1 0 1022.6 308.55L1023.7 312.9ZM1024.29 313.33L1028.77 313.03A1.55 1.55 0 1 0 1027.81 310.08L1024.01 312.47ZM1023.79 313.16L1025.45 317.33A1.55 1.55 0 1 0 1027.96 315.51L1024.51 312.64ZM1023.79 312.64L1020.34 315.51A1.55 1.55 0 1 0 1022.85 317.33L1024.51 313.16ZM1024.29 312.47L1020.49 310.08A1.55 1.55 0 1 0 1019.53 313.03L1024.01 313.33Z" fill="#000000"/>
<path d="M1043.4 312.9L1044.5 308.55A1.55 1.55 0 1 0 1041.4 308.55L1042.5 312.9ZM1043.09 313.33L1047.57 313.03A1.55 1.55 0 1 0 1046.61 310.08L1042.81 312.47ZM1042.59 313.16L1044.25 317.33A1.55 1.55 0 1 0 1046.76 315.51L1043.31 312.64ZM1042.59 312.64L1039.14 315.51A1.55 1.55 0 1 0 1041.65 317.33L1043.31 313.16ZM1043.09 312.47L1039.29 310.08A1.55 1.55 0 1 0 1038.33 313.03L1042.81 313.33Z" fill="#000000"/>
<path d="M1057.2 312.9L1058.3 308.55A1.55 1.55 0 1 0 1055.2 308.55L1056.3 312.9ZM1056.89 313.33L1061.37 313.03A1.55 1.55 0 1 0 1060.41 310.08L1056.61 312.47ZM1056.39 313.16L1058.05 317.33A1.55 1.55 0 1 0 1060.56 315.51L1057.11 312.64ZM1056.39 312.64L1052.94 315.51A1.55 1.55 0 1 0 1055.45 317.33L1057.11 313.16ZM1056.89 312.47L1053.09 310.08A1.55 1.55 0 1 0 1052.13 313.03L1056.61 313.33Z" fill="#000000"/>
<text x="1080" y="318.4" font-family="Liberation Serif" font-size="21.3" fill="#3d42c8" stroke="#3d42c8" stroke-width="0.35" textLength="15.4" lengthAdjust="spacingAndGlyphs">N</text>
<path d="M1134.2 312.9L1135.3 308.55A1.55 1.55 0 1 0 1132.2 308.55L1133.3 312.9ZM1133.89 313.33L1138.37 313.03A1.55 1.55 0 1 0 1137.41 310.08L1133.61 312.47ZM1133.39 313.16L1135.05 317.33A1.55 1.55 0 1 0 1137.56 315.51L1134.11 312.64ZM1133.39 312.64L1129.94 315.51A1.55 1.55 0 1 0 1132.45 317.33L1134.11 313.16ZM1133.89 312.47L1130.09 310.08A1.55 1.55 0 1 0 1129.13 313.03L1133.61 313.33Z" fill="#000000"/>
<path d="M1148.2 312.9L1149.3 308.55A1.55 1.55 0 1 0 1146.2 308.55L1147.3 312.9ZM1147.89 313.33L1152.37 313.03A1.55 1.55 0 1 0 1151.41 310.08L1147.61 312.47ZM1147.39 313.16L1149.05 317.33A1.55 1.55 0 1 0 1151.56 315.51L1148.11 312.64ZM1147.39 312.64L1143.94 315.51A1.55 1.55 0 1 0 1146.45 317.33L1148.11 313.16ZM1147.89 312.47L1144.09 310.08A1.55 1.55 0 1 0 1143.13 313.03L1147.61 313.33Z" fill="#000000"/>
<rect x="977.2" y="368.8" width="33.3" height="4.4" fill="#000000"/>
<rect x="1010.5" y="368.8" width="38" height="4.4" fill="#3b3fc4"/>
<rect x="1048.5" y="368.8" width="29.2" height="4.4" fill="#000000"/>
<rect x="1077.7" y="368.8" width="49.3" height="4.4" fill="#3b3fc4"/>
<rect x="1127" y="368.8" width="61.8" height="4.4" fill="#000000"/>
<rect x="977.1" y="368.8" width="4.4" height="456.5" fill="#000000"/>
<rect x="1005.4" y="371" width="4.4" height="15.6" fill="#000000"/>
<rect x="998" y="384.4" width="22" height="4.4" fill="#000000"/>
<rect x="1045.6" y="371" width="4.4" height="15.6" fill="#3b3fc4"/>
<rect x="1036" y="384.4" width="22" height="4.4" fill="#3b3fc4"/>
<rect x="1075.7" y="371" width="4.4" height="17.2" fill="#000000"/>
<rect x="1122.1" y="371" width="4.4" height="15.6" fill="#3b3fc4"/>
<rect x="1097" y="384.4" width="56.5" height="4.4" fill="#3b3fc4"/>
<rect x="1184.3" y="371" width="4.4" height="15.6" fill="#000000"/>
<rect x="1173.4" y="384.4" width="24.4" height="4.4" fill="#000000"/>
<path d="M988 360.6L989.1 356.25A1.55 1.55 0 1 0 986 356.25L987.1 360.6ZM987.69 361.03L992.17 360.73A1.55 1.55 0 1 0 991.21 357.78L987.41 360.17ZM987.19 360.86L988.85 365.03A1.55 1.55 0 1 0 991.36 363.21L987.91 360.34ZM987.19 360.34L983.74 363.21A1.55 1.55 0 1 0 986.25 365.03L987.91 360.86ZM987.69 360.17L983.89 357.78A1.55 1.55 0 1 0 982.93 360.73L987.41 361.03Z" fill="#000000"/>
<path d="M1001.7 360.6L1002.8 356.25A1.55 1.55 0 1 0 999.7 356.25L1000.8 360.6ZM1001.39 361.03L1005.87 360.73A1.55 1.55 0 1 0 1004.91 357.78L1001.11 360.17ZM1000.89 360.86L1002.55 365.03A1.55 1.55 0 1 0 1005.06 363.21L1001.61 360.34ZM1000.89 360.34L997.44 363.21A1.55 1.55 0 1 0 999.95 365.03L1001.61 360.86ZM1001.39 360.17L997.59 357.78A1.55 1.55 0 1 0 996.63 360.73L1001.11 361.03Z" fill="#000000"/>
<text x="1022.4" y="366.1" font-family="Liberation Serif" font-size="21.3" fill="#3d42c8" stroke="#3d42c8" stroke-width="0.35" textLength="15.9" lengthAdjust="spacingAndGlyphs">N</text>
<path d="M1066 360.6L1067.1 356.25A1.55 1.55 0 1 0 1064 356.25L1065.1 360.6ZM1065.69 361.03L1070.17 360.73A1.55 1.55 0 1 0 1069.21 357.78L1065.41 360.17ZM1065.19 360.86L1066.85 365.03A1.55 1.55 0 1 0 1069.36 363.21L1065.91 360.34ZM1065.19 360.34L1061.74 363.21A1.55 1.55 0 1 0 1064.25 365.03L1065.91 360.86ZM1065.69 360.17L1061.89 357.78A1.55 1.55 0 1 0 1060.93 360.73L1065.41 361.03Z" fill="#000000"/>
<text x="1094.7" y="366.1" font-family="Liberation Serif" font-size="21.3" fill="#3d42c8" stroke="#3d42c8" stroke-width="0.35" textLength="15" lengthAdjust="spacingAndGlyphs">N</text>
<path d="M1147.2 360.6L1148.3 356.25A1.55 1.55 0 1 0 1145.2 356.25L1146.3 360.6ZM1146.89 361.03L1151.37 360.73A1.55 1.55 0 1 0 1150.41 357.78L1146.61 360.17ZM1146.39 360.86L1148.05 365.03A1.55 1.55 0 1 0 1150.56 363.21L1147.11 360.34ZM1146.39 360.34L1142.94 363.21A1.55 1.55 0 1 0 1145.45 365.03L1147.11 360.86ZM1146.89 360.17L1143.09 357.78A1.55 1.55 0 1 0 1142.13 360.73L1146.61 361.03Z" fill="#000000"/>
<path d="M1161.3 360.6L1162.4 356.25A1.55 1.55 0 1 0 1159.3 356.25L1160.4 360.6ZM1160.99 361.03L1165.47 360.73A1.55 1.55 0 1 0 1164.51 357.78L1160.71 360.17ZM1160.49 360.86L1162.15 365.03A1.55 1.55 0 1 0 1164.66 363.21L1161.21 360.34ZM1160.49 360.34L1157.04 363.21A1.55 1.55 0 1 0 1159.55 365.03L1161.21 360.86ZM1160.99 360.17L1157.19 357.78A1.55 1.55 0 1 0 1156.23 360.73L1160.71 361.03Z" fill="#000000"/>
<rect x="994.7" y="417" width="22.1" height="4.4" fill="#3b3fc4"/>
<rect x="1016.8" y="417" width="43.5" height="4.4" fill="#000000"/>
<rect x="1060.3" y="417" width="19.2" height="4.4" fill="#3b3fc4"/>
<rect x="1079.5" y="417" width="74.7" height="4.4" fill="#000000"/>
<rect x="1154.2" y="417" width="23.7" height="4.4" fill="#3b3fc4"/>
<rect x="1177.9" y="417" width="22.1" height="4.4" fill="#000000"/>
<rect x="994.7" y="417" width="4.4" height="441.5" fill="#3b3fc4"/>
<rect x="1013.9" y="419.2" width="4.4" height="15.6" fill="#3b3fc4"/>
<rect x="1034.3" y="419.2" width="4.4" height="15.6" fill="#000000"/>
<rect x="1055.3" y="419.2" width="4.4" height="15.6" fill="#000000"/>
<rect x="1075.7" y="419.2" width="4.4" height="17.2" fill="#3b3fc4"/>
<rect x="1115.7" y="419.2" width="4.4" height="17.2" fill="#000000"/>
<rect x="1095.3" y="434.2" width="44.2" height="4.4" fill="#000000"/>
<rect x="1151.3" y="419.2" width="4.4" height="17.2" fill="#000000"/>
<rect x="1173.4" y="419.2" width="4.4" height="17.2" fill="#3b3fc4"/>
<rect x="1195.6" y="419.2" width="4.4" height="17.2" fill="#000000"/>
<text x="997.4" y="414.3" font-family="Liberation Serif" font-size="21.3" fill="#3d42c8" stroke="#3d42c8" stroke-width="0.35" textLength="14.9" lengthAdjust="spacingAndGlyphs">N</text>
<path d="M1019 408.8L1020.1 404.45A1.55 1.55 0 1 0 1017 404.45L1018.1 408.8ZM1018.69 409.23L1023.17 408.93A1.55 1.55 0 1 0 1022.21 405.98L1018.41 408.37ZM1018.19 409.06L1019.85 413.23A1.55 1.55 0 1 0 1022.36 411.41L1018.91 408.54ZM1018.19 408.54L1014.74 411.41A1.55 1.55 0 1 0 1017.25 413.23L1018.91 409.06ZM1018.69 408.37L1014.89 405.98A1.55 1.55 0 1 0 1013.93 408.93L1018.41 409.23Z" fill="#000000"/>
<path d="M1034.5 408.8L1035.6 404.45A1.55 1.55 0 1 0 1032.5 404.45L1033.6 408.8ZM1034.19 409.23L1038.67 408.93A1.55 1.55 0 1 0 1037.71 405.98L1033.91 408.37ZM1033.69 409.06L1035.35 413.23A1.55 1.55 0 1 0 1037.86 411.41L1034.41 408.54ZM1033.69 408.54L1030.24 411.41A1.55 1.55 0 1 0 1032.75 413.23L1034.41 409.06ZM1034.19 408.37L1030.39 405.98A1.55 1.55 0 1 0 1029.43 408.93L1033.91 409.23Z" fill="#000000"/>
<path d="M1050 408.8L1051.1 404.45A1.55 1.55 0 1 0 1048 404.45L1049.1 408.8ZM1049.69 409.23L1054.17 408.93A1.55 1.55 0 1 0 1053.21 405.98L1049.41 408.37ZM1049.19 409.06L1050.85 413.23A1.55 1.55 0 1 0 1053.36 411.41L1049.91 408.54ZM1049.19 408.54L1045.74 411.41A1.55 1.55 0 1 0 1048.25 413.23L1049.91 409.06ZM1049.69 408.37L1045.89 405.98A1.55 1.55 0 1 0 1044.93 408.93L1049.41 409.23Z" fill="#000000"/>
<text x="1059.7" y="414.3" font-family="Liberation Serif" font-size="21.3" fill="#3d42c8" stroke="#3d42c8" stroke-width="0.35" textLength="15.3" lengthAdjust="spacingAndGlyphs">N</text>
<path d="M1096.2 408.8L1097.3 404.45A1.55 1.55 0 1 0 1094.2 404.45L1095.3 408.8ZM1095.89 409.23L1100.37 408.93A1.55 1.55 0 1 0 1099.41 405.98L1095.61 408.37ZM1095.39 409.06L1097.05 413.23A1.55 1.55 0 1 0 1099.56 411.41L1096.11 408.54ZM1095.39 408.54L1091.94 411.41A1.55 1.55 0 1 0 1094.45 413.23L1096.11 409.06ZM1095.89 408.37L1092.09 405.98A1.55 1.55 0 1 0 1091.13 408.93L1095.61 409.23Z" fill="#000000"/>
<path d="M1110.4 408.8L1111.5 404.45A1.55 1.55 0 1 0 1108.4 404.45L1109.5 408.8ZM1110.09 409.23L1114.57 408.93A1.55 1.55 0 1 0 1113.61 405.98L1109.81 408.37ZM1109.59 409.06L1111.25 413.23A1.55 1.55 0 1 0 1113.76 411.41L1110.31 408.54ZM1109.59 408.54L1106.14 411.41A1.55 1.55 0 1 0 1108.65 413.23L1110.31 409.06ZM1110.09 408.37L1106.29 405.98A1.55 1.55 0 1 0 1105.33 408.93L1109.81 409.23Z" fill="#000000"/>
<path d="M1136.6 408.8L1137.7 404.45A1.55 1.55 0 1 0 1134.6 404.45L1135.7 408.8ZM1136.29 409.23L1140.77 408.93A1.55 1.55 0 1 0 1139.81 405.98L1136.01 408.37ZM1135.79 409.06L1137.45 413.23A1.55 1.55 0 1 0 1139.96 411.41L1136.51 408.54ZM1135.79 408.54L1132.34 411.41A1.55 1.55 0 1 0 1134.85 413.23L1136.51 409.06ZM1136.29 408.37L1132.49 405.98A1.55 1.55 0 1 0 1131.53 408.93L1136.01 409.23Z" fill="#000000"/>
<text x="1157" y="414.3" font-family="Liberation Serif" font-size="21.3" fill="#3d42c8" stroke="#3d42c8" stroke-width="0.35" textLength="15.3" lengthAdjust="spacingAndGlyphs">N</text>
<path d="M1188.6 408.8L1189.7 404.45A1.55 1.55 0 1 0 1186.6 404.45L1187.7 408.8ZM1188.29 409.23L1192.77 408.93A1.55 1.55 0 1 0 1191.81 405.98L1188.01 408.37ZM1187.79 409.06L1189.45 413.23A1.55 1.55 0 1 0 1191.96 411.41L1188.51 408.54ZM1187.79 408.54L1184.34 411.41A1.55 1.55 0 1 0 1186.85 413.23L1188.51 409.06ZM1188.29 408.37L1184.49 405.98A1.55 1.55 0 1 0 1183.53 408.93L1188.01 409.23Z" fill="#000000"/>
<rect x="1013.9" y="461.8" width="110.9" height="4.4" fill="#000000"/>
<rect x="1124.8" y="461.8" width="65.6" height="4.4" fill="#3b3fc4"/>
<rect x="1013.9" y="461.8" width="4.4" height="389.2" fill="#000000"/>
<rect x="1044" y="464" width="4.4" height="15.4" fill="#000000"/>
<rect x="1034.3" y="477.2" width="22.6" height="4.4" fill="#000000"/>
<rect x="1071.2" y="464" width="4.4" height="17" fill="#000000"/>
<rect x="1120.3" y="464" width="4.4" height="15.4" fill="#000000"/>
<rect x="1087.4" y="477.2" width="69" height="4.4" fill="#000000"/>
<rect x="1185.9" y="464" width="4.4" height="13.8" fill="#3b3fc4"/>
<rect x="1176" y="475.6" width="21.8" height="4.4" fill="#3b3fc4"/>
<path d="M1024.6 453.6L1025.7 449.25A1.55 1.55 0 1 0 1022.6 449.25L1023.7 453.6ZM1024.29 454.03L1028.77 453.73A1.55 1.55 0 1 0 1027.81 450.78L1024.01 453.17ZM1023.79 453.86L1025.45 458.03A1.55 1.55 0 1 0 1027.96 456.21L1024.51 453.34ZM1023.79 453.34L1020.34 456.21A1.55 1.55 0 1 0 1022.85 458.03L1024.51 453.86ZM1024.29 453.17L1020.49 450.78A1.55 1.55 0 1 0 1019.53 453.73L1024.01 454.03Z" fill="#000000"/>
<path d="M1038.7 453.6L1039.8 449.25A1.55 1.55 0 1 0 1036.7 449.25L1037.8 453.6ZM1038.39 454.03L1042.87 453.73A1.55 1.55 0 1 0 1041.91 450.78L1038.11 453.17ZM1037.89 453.86L1039.55 458.03A1.55 1.55 0 1 0 1042.06 456.21L1038.61 453.34ZM1037.89 453.34L1034.44 456.21A1.55 1.55 0 1 0 1036.95 458.03L1038.61 453.86ZM1038.39 453.17L1034.59 450.78A1.55 1.55 0 1 0 1033.63 453.73L1038.11 454.03Z" fill="#000000"/>
<path d="M1061.9 453.6L1063 449.25A1.55 1.55 0 1 0 1059.9 449.25L1061 453.6ZM1061.59 454.03L1066.07 453.73A1.55 1.55 0 1 0 1065.11 450.78L1061.31 453.17ZM1061.09 453.86L1062.75 458.03A1.55 1.55 0 1 0 1065.26 456.21L1061.81 453.34ZM1061.09 453.34L1057.64 456.21A1.55 1.55 0 1 0 1060.15 458.03L1061.81 453.86ZM1061.59 453.17L1057.79 450.78A1.55 1.55 0 1 0 1056.83 453.73L1061.31 454.03Z" fill="#000000"/>
<path d="M1091.2 453.6L1092.3 449.25A1.55 1.55 0 1 0 1089.2 449.25L1090.3 453.6ZM1090.89 454.03L1095.37 453.73A1.55 1.55 0 1 0 1094.41 450.78L1090.61 453.17ZM1090.39 453.86L1092.05 458.03A1.55 1.55 0 1 0 1094.56 456.21L1091.11 453.34ZM1090.39 453.34L1086.94 456.21A1.55 1.55 0 1 0 1089.45 458.03L1091.11 453.86ZM1090.89 453.17L1087.09 450.78A1.55 1.55 0 1 0 1086.13 453.73L1090.61 454.03Z" fill="#000000"/>
<path d="M1105.9 453.6L1107 449.25A1.55 1.55 0 1 0 1103.9 449.25L1105 453.6ZM1105.59 454.03L1110.07 453.73A1.55 1.55 0 1 0 1109.11 450.78L1105.31 453.17ZM1105.09 453.86L1106.75 458.03A1.55 1.55 0 1 0 1109.26 456.21L1105.81 453.34ZM1105.09 453.34L1101.64 456.21A1.55 1.55 0 1 0 1104.15 458.03L1105.81 453.86ZM1105.59 453.17L1101.79 450.78A1.55 1.55 0 1 0 1100.83 453.73L1105.31 454.03Z" fill="#000000"/>
<text x="1150.2" y="459.1" font-family="Liberation Serif" font-size="21.3" fill="#3d42c8" stroke="#3d42c8" stroke-width="0.35" textLength="14.8" lengthAdjust="spacingAndGlyphs">N</text>
<rect x="1033.1" y="505.7" width="36.2" height="4.4" fill="#3b3fc4"/>
<rect x="1069.3" y="505.7" width="52.1" height="4.4" fill="#000000"/>
<rect x="1121.4" y="505.7" width="33.9" height="4.4" fill="#3b3fc4"/>
<rect x="1155.3" y="505.7" width="42.5" height="4.4" fill="#000000"/>
<rect x="1033.2" y="505.7" width="4.4" height="330.3" fill="#3b3fc4"/>
<rect x="1066" y="507.9" width="4.4" height="17.4" fill="#3b3fc4"/>
<rect x="1055.3" y="523.1" width="23.5" height="4.4" fill="#3b3fc4"/>
<rect x="1115.1" y="507.9" width="4.4" height="19" fill="#000000"/>
<rect x="1096.5" y="524.7" width="44.1" height="4.4" fill="#000000"/>
<rect x="1152" y="507.9" width="4.4" height="15.6" fill="#3b3fc4"/>
<rect x="1173.4" y="507.9" width="4.4" height="15.6" fill="#000000"/>
<rect x="1193.5" y="507.9" width="4.4" height="15.6" fill="#000000"/>
<text x="1041.4" y="503" font-family="Liberation Serif" font-size="21.3" fill="#3d42c8" stroke="#3d42c8" stroke-width="0.35" textLength="15" lengthAdjust="spacingAndGlyphs">N</text>
<path d="M1090.2 497.5L1091.3 493.15A1.55 1.55 0 1 0 1088.2 493.15L1089.3 497.5ZM1089.89 497.93L1094.37 497.63A1.55 1.55 0 1 0 1093.41 494.68L1089.61 497.07ZM1089.39 497.76L1091.05 501.93A1.55 1.55 0 1 0 1093.56 500.11L1090.11 497.24ZM1089.39 497.24L1085.94 500.11A1.55 1.55 0 1 0 1088.45 501.93L1090.11 497.76ZM1089.89 497.07L1086.09 494.68A1.55 1.55 0 1 0 1085.13 497.63L1089.61 497.93Z" fill="#000000"/>
<text x="1135.4" y="503" font-family="Liberation Serif" font-size="21.3" fill="#3d42c8" stroke="#3d42c8" stroke-width="0.35" textLength="15.6" lengthAdjust="spacingAndGlyphs">N</text>
<path d="M1168.2 497.5L1169.3 493.15A1.55 1.55 0 1 0 1166.2 493.15L1167.3 497.5ZM1167.89 497.93L1172.37 497.63A1.55 1.55 0 1 0 1171.41 494.68L1167.61 497.07ZM1167.39 497.76L1169.05 501.93A1.55 1.55 0 1 0 1171.56 500.11L1168.11 497.24ZM1167.39 497.24L1163.94 500.11A1.55 1.55 0 1 0 1166.45 501.93L1168.11 497.76ZM1167.89 497.07L1164.09 494.68A1.55 1.55 0 1 0 1163.13 497.63L1167.61 497.93Z" fill="#000000"/>
<path d="M1183.45 497.5L1184.55 493.15A1.55 1.55 0 1 0 1181.45 493.15L1182.55 497.5ZM1183.14 497.93L1187.62 497.63A1.55 1.55 0 1 0 1186.66 494.68L1182.86 497.07ZM1182.64 497.76L1184.3 501.93A1.55 1.55 0 1 0 1186.81 500.11L1183.36 497.24ZM1182.64 497.24L1179.19 500.11A1.55 1.55 0 1 0 1181.7 501.93L1183.36 497.76ZM1183.14 497.07L1179.34 494.68A1.55 1.55 0 1 0 1178.38 497.63L1182.86 497.93Z" fill="#000000"/>
<path d="M1198.7 497.5L1199.8 493.15A1.55 1.55 0 1 0 1196.7 493.15L1197.8 497.5ZM1198.39 497.93L1202.87 497.63A1.55 1.55 0 1 0 1201.91 494.68L1198.11 497.07ZM1197.89 497.76L1199.55 501.93A1.55 1.55 0 1 0 1202.06 500.11L1198.61 497.24ZM1197.89 497.24L1194.44 500.11A1.55 1.55 0 1 0 1196.95 501.93L1198.61 497.76ZM1198.39 497.07L1194.59 494.68A1.55 1.55 0 1 0 1193.63 497.63L1198.11 497.93Z" fill="#000000"/>
<rect x="1051.9" y="554.8" width="24.1" height="4.4" fill="#3b3fc4"/>
<rect x="1076" y="554.8" width="57.4" height="4.4" fill="#000000"/>
<rect x="1133.4" y="554.8" width="31.6" height="4.4" fill="#3b3fc4"/>
<rect x="1165" y="554.8" width="30.2" height="4.4" fill="#000000"/>
<rect x="1051.9" y="554.8" width="4.4" height="282.9" fill="#3b3fc4"/>
<rect x="1072.6" y="557" width="4.4" height="18.3" fill="#3b3fc4"/>
<rect x="1103.1" y="557" width="4.4" height="17.8" fill="#000000"/>
<rect x="1093.4" y="572.6" width="22.2" height="4.4" fill="#000000"/>
<rect x="1128.3" y="557" width="4.4" height="18.3" fill="#000000"/>
<rect x="1160.3" y="557" width="4.4" height="19.3" fill="#3b3fc4"/>
<rect x="1152.4" y="574.1" width="20.6" height="4.4" fill="#3b3fc4"/>
<rect x="1190.6" y="557" width="4.4" height="18.3" fill="#000000"/>
<text x="1056.3" y="552.1" font-family="Liberation Serif" font-size="21.3" fill="#3d42c8" stroke="#3d42c8" stroke-width="0.35" textLength="14.9" lengthAdjust="spacingAndGlyphs">N</text>
<path d="M1080.5 546.6L1081.6 542.25A1.55 1.55 0 1 0 1078.5 542.25L1079.6 546.6ZM1080.19 547.03L1084.67 546.73A1.55 1.55 0 1 0 1083.71 543.78L1079.91 546.17ZM1079.69 546.86L1081.35 551.03A1.55 1.55 0 1 0 1083.86 549.21L1080.41 546.34ZM1079.69 546.34L1076.24 549.21A1.55 1.55 0 1 0 1078.75 551.03L1080.41 546.86ZM1080.19 546.17L1076.39 543.78A1.55 1.55 0 1 0 1075.43 546.73L1079.91 547.03Z" fill="#000000"/>
<path d="M1094.6 546.6L1095.7 542.25A1.55 1.55 0 1 0 1092.6 542.25L1093.7 546.6ZM1094.29 547.03L1098.77 546.73A1.55 1.55 0 1 0 1097.81 543.78L1094.01 546.17ZM1093.79 546.86L1095.45 551.03A1.55 1.55 0 1 0 1097.96 549.21L1094.51 546.34ZM1093.79 546.34L1090.34 549.21A1.55 1.55 0 1 0 1092.85 551.03L1094.51 546.86ZM1094.29 546.17L1090.49 543.78A1.55 1.55 0 1 0 1089.53 546.73L1094.01 547.03Z" fill="#000000"/>
<path d="M1120.8 546.6L1121.9 542.25A1.55 1.55 0 1 0 1118.8 542.25L1119.9 546.6ZM1120.49 547.03L1124.97 546.73A1.55 1.55 0 1 0 1124.01 543.78L1120.21 546.17ZM1119.99 546.86L1121.65 551.03A1.55 1.55 0 1 0 1124.16 549.21L1120.71 546.34ZM1119.99 546.34L1116.54 549.21A1.55 1.55 0 1 0 1119.05 551.03L1120.71 546.86ZM1120.49 546.17L1116.69 543.78A1.55 1.55 0 1 0 1115.73 546.73L1120.21 547.03Z" fill="#000000"/>
<text x="1137.7" y="552.1" font-family="Liberation Serif" font-size="21.3" fill="#3d42c8" stroke="#3d42c8" stroke-width="0.35" textLength="14.9" lengthAdjust="spacingAndGlyphs">N</text>
<path d="M1172.8 546.6L1173.9 542.25A1.55 1.55 0 1 0 1170.8 542.25L1171.9 546.6ZM1172.49 547.03L1176.97 546.73A1.55 1.55 0 1 0 1176.01 543.78L1172.21 546.17ZM1171.99 546.86L1173.65 551.03A1.55 1.55 0 1 0 1176.16 549.21L1172.71 546.34ZM1171.99 546.34L1168.54 549.21A1.55 1.55 0 1 0 1171.05 551.03L1172.71 546.86ZM1172.49 546.17L1168.69 543.78A1.55 1.55 0 1 0 1167.73 546.73L1172.21 547.03Z" fill="#000000"/>
<path d="M1187.3 546.6L1188.4 542.25A1.55 1.55 0 1 0 1185.3 542.25L1186.4 546.6ZM1186.99 547.03L1191.47 546.73A1.55 1.55 0 1 0 1190.51 543.78L1186.71 546.17ZM1186.49 546.86L1188.15 551.03A1.55 1.55 0 1 0 1190.66 549.21L1187.21 546.34ZM1186.49 546.34L1183.04 549.21A1.55 1.55 0 1 0 1185.55 551.03L1187.21 546.86ZM1186.99 546.17L1183.19 543.78A1.55 1.55 0 1 0 1182.23 546.73L1186.71 547.03Z" fill="#000000"/>
<rect x="1071.1" y="599.5" width="46" height="4.4" fill="#000000"/>
<rect x="1117.1" y="599.5" width="47.9" height="4.4" fill="#3b3fc4"/>
<rect x="1165" y="599.5" width="30.2" height="4.4" fill="#000000"/>
<rect x="1071.4" y="599.5" width="4.4" height="247.7" fill="#000000"/>
<rect x="1112.1" y="601.7" width="4.4" height="19.1" fill="#000000"/>
<rect x="1091.9" y="618.6" width="44.4" height="4.4" fill="#000000"/>
<rect x="1160.3" y="601.7" width="4.4" height="19.1" fill="#3b3fc4"/>
<rect x="1152.4" y="618.6" width="20.6" height="4.4" fill="#3b3fc4"/>
<rect x="1190.6" y="601.7" width="4.4" height="18.3" fill="#000000"/>
<path d="M1085.5 591.3L1086.6 586.95A1.55 1.55 0 1 0 1083.5 586.95L1084.6 591.3ZM1085.19 591.73L1089.67 591.43A1.55 1.55 0 1 0 1088.71 588.48L1084.91 590.87ZM1084.69 591.56L1086.35 595.73A1.55 1.55 0 1 0 1088.86 593.91L1085.41 591.04ZM1084.69 591.04L1081.24 593.91A1.55 1.55 0 1 0 1083.75 595.73L1085.41 591.56ZM1085.19 590.87L1081.39 588.48A1.55 1.55 0 1 0 1080.43 591.43L1084.91 591.73Z" fill="#000000"/>
<path d="M1099.2 591.3L1100.3 586.95A1.55 1.55 0 1 0 1097.2 586.95L1098.3 591.3ZM1098.89 591.73L1103.37 591.43A1.55 1.55 0 1 0 1102.41 588.48L1098.61 590.87ZM1098.39 591.56L1100.05 595.73A1.55 1.55 0 1 0 1102.56 593.91L1099.11 591.04ZM1098.39 591.04L1094.94 593.91A1.55 1.55 0 1 0 1097.45 595.73L1099.11 591.56ZM1098.89 590.87L1095.09 588.48A1.55 1.55 0 1 0 1094.13 591.43L1098.61 591.73Z" fill="#000000"/>
<text x="1133.2" y="596.8" font-family="Liberation Serif" font-size="21.3" fill="#3d42c8" stroke="#3d42c8" stroke-width="0.35" textLength="13.5" lengthAdjust="spacingAndGlyphs">N</text>
<path d="M1174.4 591.3L1175.5 586.95A1.55 1.55 0 1 0 1172.4 586.95L1173.5 591.3ZM1174.09 591.73L1178.57 591.43A1.55 1.55 0 1 0 1177.61 588.48L1173.81 590.87ZM1173.59 591.56L1175.25 595.73A1.55 1.55 0 1 0 1177.76 593.91L1174.31 591.04ZM1173.59 591.04L1170.14 593.91A1.55 1.55 0 1 0 1172.65 595.73L1174.31 591.56ZM1174.09 590.87L1170.29 588.48A1.55 1.55 0 1 0 1169.33 591.43L1173.81 591.73Z" fill="#000000"/>
<path d="M1188.1 591.3L1189.2 586.95A1.55 1.55 0 1 0 1186.1 586.95L1187.2 591.3ZM1187.79 591.73L1192.27 591.43A1.55 1.55 0 1 0 1191.31 588.48L1187.51 590.87ZM1187.29 591.56L1188.95 595.73A1.55 1.55 0 1 0 1191.46 593.91L1188.01 591.04ZM1187.29 591.04L1183.84 593.91A1.55 1.55 0 1 0 1186.35 595.73L1188.01 591.56ZM1187.79 590.87L1183.99 588.48A1.55 1.55 0 1 0 1183.03 591.43L1187.51 591.73Z" fill="#000000"/>
<rect x="1090.4" y="647.5" width="36.6" height="4.4" fill="#3b3fc4"/>
<rect x="1127" y="647.5" width="52.3" height="4.4" fill="#000000"/>
<rect x="1090.4" y="647.5" width="4.4" height="163.5" fill="#3b3fc4"/>
<rect x="1123" y="649.7" width="4.4" height="17.5" fill="#3b3fc4"/>
<rect x="1112.6" y="665" width="23.7" height="4.4" fill="#3b3fc4"/>
<rect x="1174.9" y="649.7" width="4.4" height="19.3" fill="#000000"/>
<rect x="1154.1" y="666.8" width="43.8" height="4.4" fill="#000000"/>
<text x="1099.4" y="644.8" font-family="Liberation Serif" font-size="21.3" fill="#3d42c8" stroke="#3d42c8" stroke-width="0.35" textLength="14.7" lengthAdjust="spacingAndGlyphs">N</text>
<path d="M1147 639.3L1148.1 634.95A1.55 1.55 0 1 0 1145 634.95L1146.1 639.3ZM1146.69 639.73L1151.17 639.43A1.55 1.55 0 1 0 1150.21 636.48L1146.41 638.87ZM1146.19 639.56L1147.85 643.73A1.55 1.55 0 1 0 1150.36 641.91L1146.91 639.04ZM1146.19 639.04L1142.74 641.91A1.55 1.55 0 1 0 1145.25 643.73L1146.91 639.56ZM1146.69 638.87L1142.89 636.48A1.55 1.55 0 1 0 1141.93 639.43L1146.41 639.73Z" fill="#000000"/>
<path d="M1161.4 639.3L1162.5 634.95A1.55 1.55 0 1 0 1159.4 634.95L1160.5 639.3ZM1161.09 639.73L1165.57 639.43A1.55 1.55 0 1 0 1164.61 636.48L1160.81 638.87ZM1160.59 639.56L1162.25 643.73A1.55 1.55 0 1 0 1164.76 641.91L1161.31 639.04ZM1160.59 639.04L1157.14 641.91A1.55 1.55 0 1 0 1159.65 643.73L1161.31 639.56ZM1161.09 638.87L1157.29 636.48A1.55 1.55 0 1 0 1156.33 639.43L1160.81 639.73Z" fill="#000000"/>
<rect x="1111.2" y="695.4" width="22.2" height="4.4" fill="#3b3fc4"/>
<rect x="1133.4" y="695.4" width="42.5" height="4.4" fill="#000000"/>
<rect x="1111.2" y="695.4" width="4.4" height="116.9" fill="#3b3fc4"/>
<rect x="1129.8" y="697.6" width="4.4" height="16.1" fill="#3b3fc4"/>
<rect x="1171.3" y="697.6" width="4.4" height="18.9" fill="#000000"/>
<rect x="1151" y="714.3" width="44.3" height="4.4" fill="#000000"/>
<text x="1113.5" y="692.7" font-family="Liberation Serif" font-size="21.3" fill="#3d42c8" stroke="#3d42c8" stroke-width="0.35" textLength="15.1" lengthAdjust="spacingAndGlyphs">N</text>
<path d="M1144 687.2L1145.1 682.85A1.55 1.55 0 1 0 1142 682.85L1143.1 687.2ZM1143.69 687.63L1148.17 687.33A1.55 1.55 0 1 0 1147.21 684.38L1143.41 686.77ZM1143.19 687.46L1144.85 691.63A1.55 1.55 0 1 0 1147.36 689.81L1143.91 686.94ZM1143.19 686.94L1139.74 689.81A1.55 1.55 0 1 0 1142.25 691.63L1143.91 687.46ZM1143.69 686.77L1139.89 684.38A1.55 1.55 0 1 0 1138.93 687.33L1143.41 687.63Z" fill="#000000"/>
<path d="M1158.5 687.2L1159.6 682.85A1.55 1.55 0 1 0 1156.5 682.85L1157.6 687.2ZM1158.19 687.63L1162.67 687.33A1.55 1.55 0 1 0 1161.71 684.38L1157.91 686.77ZM1157.69 687.46L1159.35 691.63A1.55 1.55 0 1 0 1161.86 689.81L1158.41 686.94ZM1157.69 686.94L1154.24 689.81A1.55 1.55 0 1 0 1156.75 691.63L1158.41 687.46ZM1158.19 686.77L1154.39 684.38A1.55 1.55 0 1 0 1153.43 687.33L1157.91 687.63Z" fill="#000000"/>
<rect x="1128.3" y="741.2" width="46.4" height="4.4" fill="#000000"/>
<rect x="1128.5" y="741.2" width="4.4" height="76.4" fill="#000000"/>
<rect x="1170.2" y="743.4" width="4.4" height="19.5" fill="#000000"/>
<rect x="1149.3" y="760.7" width="44.4" height="4.4" fill="#000000"/>
<path d="M1142.3 733L1143.4 728.65A1.55 1.55 0 1 0 1140.3 728.65L1141.4 733ZM1141.99 733.43L1146.47 733.13A1.55 1.55 0 1 0 1145.51 730.18L1141.71 732.57ZM1141.49 733.26L1143.15 737.43A1.55 1.55 0 1 0 1145.66 735.61L1142.21 732.74ZM1141.49 732.74L1138.04 735.61A1.55 1.55 0 1 0 1140.55 737.43L1142.21 733.26ZM1141.99 732.57L1138.19 730.18A1.55 1.55 0 1 0 1137.23 733.13L1141.71 733.43Z" fill="#000000"/>
<path d="M1156.9 733L1158 728.65A1.55 1.55 0 1 0 1154.9 728.65L1156 733ZM1156.59 733.43L1161.07 733.13A1.55 1.55 0 1 0 1160.11 730.18L1156.31 732.57ZM1156.09 733.26L1157.75 737.43A1.55 1.55 0 1 0 1160.26 735.61L1156.81 732.74ZM1156.09 732.74L1152.64 735.61A1.55 1.55 0 1 0 1155.15 737.43L1156.81 733.26ZM1156.59 732.57L1152.79 730.18A1.55 1.55 0 1 0 1151.83 733.13L1156.31 733.43Z" fill="#000000"/>
<rect x="1147.6" y="789.4" width="22.5" height="4.4" fill="#3b3fc4"/>
<rect x="1170.1" y="789.4" width="21.8" height="4.4" fill="#000000"/>
<rect x="1147.7" y="789.4" width="4.4" height="45.5" fill="#3b3fc4"/>
<rect x="1166.9" y="791.6" width="4.4" height="16.4" fill="#3b3fc4"/>
<rect x="1187.4" y="791.6" width="4.4" height="16.4" fill="#000000"/>
<text x="1150.3" y="786.7" font-family="Liberation Serif" font-size="21.3" fill="#3d42c8" stroke="#3d42c8" stroke-width="0.35" textLength="15.4" lengthAdjust="spacingAndGlyphs">N</text>
<path d="M1174.2 781.2L1175.3 776.85A1.55 1.55 0 1 0 1172.2 776.85L1173.3 781.2ZM1173.89 781.63L1178.37 781.33A1.55 1.55 0 1 0 1177.41 778.38L1173.61 780.77ZM1173.39 781.46L1175.05 785.63A1.55 1.55 0 1 0 1177.56 783.81L1174.11 780.94ZM1173.39 780.94L1169.94 783.81A1.55 1.55 0 1 0 1172.45 785.63L1174.11 781.46ZM1173.89 780.77L1170.09 778.38A1.55 1.55 0 1 0 1169.13 781.33L1173.61 781.63Z" fill="#000000"/>
<path d="M1188.7 781.2L1189.8 776.85A1.55 1.55 0 1 0 1186.7 776.85L1187.8 781.2ZM1188.39 781.63L1192.87 781.33A1.55 1.55 0 1 0 1191.91 778.38L1188.11 780.77ZM1187.89 781.46L1189.55 785.63A1.55 1.55 0 1 0 1192.06 783.81L1188.61 780.94ZM1187.89 780.94L1184.44 783.81A1.55 1.55 0 1 0 1186.95 785.63L1188.61 781.46ZM1188.39 780.77L1184.59 778.38A1.55 1.55 0 1 0 1183.63 781.33L1188.11 781.63Z" fill="#000000"/>
<rect x="1167.1" y="831" width="24.8" height="4.4" fill="#000000"/>
<rect x="1166.9" y="831" width="4.4" height="13" fill="#000000"/>
<rect x="1187.4" y="833.2" width="4.4" height="36.7" fill="#000000"/>
<path d="M1172.8 822.8L1173.9 818.45A1.55 1.55 0 1 0 1170.8 818.45L1171.9 822.8ZM1172.49 823.23L1176.97 822.93A1.55 1.55 0 1 0 1176.01 819.98L1172.21 822.37ZM1171.99 823.06L1173.65 827.23A1.55 1.55 0 1 0 1176.16 825.41L1172.71 822.54ZM1171.99 822.54L1168.54 825.41A1.55 1.55 0 1 0 1171.05 827.23L1172.71 823.06ZM1172.49 822.37L1168.69 819.98A1.55 1.55 0 1 0 1167.73 822.93L1172.21 823.23Z" fill="#000000"/>
<path d="M1187.1 822.8L1188.2 818.45A1.55 1.55 0 1 0 1185.1 818.45L1186.2 822.8ZM1186.79 823.23L1191.27 822.93A1.55 1.55 0 1 0 1190.31 819.98L1186.51 822.37ZM1186.29 823.06L1187.95 827.23A1.55 1.55 0 1 0 1190.46 825.41L1187.01 822.54ZM1186.29 822.54L1182.84 825.41A1.55 1.55 0 1 0 1185.35 827.23L1187.01 823.06ZM1186.79 822.37L1182.99 819.98A1.55 1.55 0 1 0 1182.03 822.93L1186.51 823.23Z" fill="#000000"/>
<text x="3" y="1267.6" font-family="Liberation Serif" font-weight="bold" font-size="47.8">(B)</text>
<text x="108" y="1309" font-family="Liberation Serif" font-weight="bold" font-size="45">(1)</text>
<line x1="186.5" y1="1336.5" x2="1278" y2="1336.5" stroke="#ebebeb" stroke-width="2"/>
<line x1="186.5" y1="1384.7" x2="1278" y2="1384.7" stroke="#ebebeb" stroke-width="2"/>
<line x1="186.5" y1="1432.9" x2="1278" y2="1432.9" stroke="#ebebeb" stroke-width="2"/>
<line x1="186.5" y1="1529.3" x2="1278" y2="1529.3" stroke="#ebebeb" stroke-width="2"/>
<line x1="186.5" y1="1577.5" x2="1278" y2="1577.5" stroke="#ebebeb" stroke-width="2"/>
<line x1="181" y1="1336.5" x2="186.5" y2="1336.5" stroke="#a8a8a8" stroke-width="1.2"/>
<text x="178.2" y="1340.6" text-anchor="end" font-family="Liberation Sans" font-size="11.3" fill="#333">0.015</text>
<line x1="181" y1="1384.7" x2="186.5" y2="1384.7" stroke="#a8a8a8" stroke-width="1.2"/>
<text x="178.2" y="1388.8" text-anchor="end" font-family="Liberation Sans" font-size="11.3" fill="#333">0.01</text>
<line x1="181" y1="1432.9" x2="186.5" y2="1432.9" stroke="#a8a8a8" stroke-width="1.2"/>
<text x="178.2" y="1437" text-anchor="end" font-family="Liberation Sans" font-size="11.3" fill="#333">0.005</text>
<line x1="181" y1="1481.1" x2="186.5" y2="1481.1" stroke="#a8a8a8" stroke-width="1.2"/>
<text x="178.2" y="1485.2" text-anchor="end" font-family="Liberation Sans" font-size="11.3" fill="#333">0</text>
<line x1="181" y1="1529.3" x2="186.5" y2="1529.3" stroke="#a8a8a8" stroke-width="1.2"/>
<text x="178.2" y="1533.4" text-anchor="end" font-family="Liberation Sans" font-size="11.3" fill="#333">-0.005</text>
<line x1="181" y1="1577.5" x2="186.5" y2="1577.5" stroke="#a8a8a8" stroke-width="1.2"/>
<text x="178.2" y="1581.6" text-anchor="end" font-family="Liberation Sans" font-size="11.3" fill="#333">-0.01</text>
<line x1="181" y1="1625.7" x2="186.5" y2="1625.7" stroke="#a8a8a8" stroke-width="1.2"/>
<text x="178.2" y="1629.8" text-anchor="end" font-family="Liberation Sans" font-size="11.3" fill="#333">-0.015</text>
<line x1="183.5" y1="1360.6" x2="186.5" y2="1360.6" stroke="#a8a8a8" stroke-width="1.2"/>
<line x1="183.5" y1="1408.8" x2="186.5" y2="1408.8" stroke="#a8a8a8" stroke-width="1.2"/>
<line x1="183.5" y1="1457" x2="186.5" y2="1457" stroke="#a8a8a8" stroke-width="1.2"/>
<line x1="183.5" y1="1505.2" x2="186.5" y2="1505.2" stroke="#a8a8a8" stroke-width="1.2"/>
<line x1="183.5" y1="1553.4" x2="186.5" y2="1553.4" stroke="#a8a8a8" stroke-width="1.2"/>
<line x1="183.5" y1="1601.6" x2="186.5" y2="1601.6" stroke="#a8a8a8" stroke-width="1.2"/>
<rect x="187.76" y="1387.4" width="16.4" height="93.7" fill="#b00000" stroke="rgba(0,0,0,0.18)" stroke-width="0.7"/>
<rect x="206.92" y="1391" width="16.4" height="90.1" fill="#cddc39" stroke="rgba(0,0,0,0.18)" stroke-width="0.7"/>
<rect x="226.08" y="1392.7" width="16.4" height="88.4" fill="#7fb2dc" stroke="rgba(0,0,0,0.18)" stroke-width="0.7"/>
<rect x="245.24" y="1394.4" width="16.4" height="86.7" fill="#5c2d4a" stroke="rgba(0,0,0,0.18)" stroke-width="0.7"/>
<rect x="264.4" y="1397.2" width="16.4" height="83.9" fill="#0a88d4" stroke="rgba(0,0,0,0.18)" stroke-width="0.7"/>
<rect x="283.56" y="1398.6" width="16.4" height="82.5" fill="#fbbd2d" stroke="rgba(0,0,0,0.18)" stroke-width="0.7"/>
<rect x="302.72" y="1400.7" width="16.4" height="80.4" fill="#ff5722" stroke="rgba(0,0,0,0.18)" stroke-width="0.7"/>
<rect x="321.88" y="1401.1" width="16.4" height="80" fill="#ff7a00" stroke="rgba(0,0,0,0.18)" stroke-width="0.7"/>
<rect x="341.04" y="1402" width="16.4" height="79.1" fill="#a3de00" stroke="rgba(0,0,0,0.18)" stroke-width="0.7"/>
<rect x="360.2" y="1402.6" width="16.4" height="78.5" fill="#9c27b0" stroke="rgba(0,0,0,0.18)" stroke-width="0.7"/>
<rect x="379.36" y="1402.6" width="16.4" height="78.5" fill="#3b2314" stroke="rgba(0,0,0,0.18)" stroke-width="0.7"/>
<rect x="398.52" y="1405.6" width="16.4" height="75.5" fill="#b97fc4" stroke="rgba(0,0,0,0.18)" stroke-width="0.7"/>
<rect x="417.68" y="1408.5" width="16.4" height="72.6" fill="#fbbd2d" stroke="rgba(0,0,0,0.18)" stroke-width="0.7"/>
<rect x="436.84" y="1414.1" width="16.4" height="67" fill="#ff9800" stroke="rgba(0,0,0,0.18)" stroke-width="0.7"/>
<rect x="456" y="1421.8" width="16.4" height="59.3" fill="#ffe97a" stroke="rgba(0,0,0,0.18)" stroke-width="0.7"/>
<rect x="475.16" y="1435.6" width="16.4" height="45.5" fill="#7b2d40" stroke="rgba(0,0,0,0.18)" stroke-width="0.7"/>
<rect x="494.32" y="1459.4" width="16.4" height="21.7" fill="#ffc107" stroke="rgba(0,0,0,0.18)" stroke-width="0.7"/>
<rect x="513.48" y="1459.4" width="16.4" height="21.7" fill="#e91e8c" stroke="rgba(0,0,0,0.18)" stroke-width="0.7"/>
<rect x="532.64" y="1461" width="16.4" height="20.1" fill="#9c27b0" stroke="rgba(0,0,0,0.18)" stroke-width="0.7"/>
<rect x="551.8" y="1463.4" width="16.4" height="17.7" fill="#d0ecf8" stroke="rgba(0,0,0,0.18)" stroke-width="0.7"/>
<rect x="570.96" y="1465.7" width="16.4" height="15.4" fill="#2fa0be" stroke="rgba(0,0,0,0.18)" stroke-width="0.7"/>
<rect x="590.12" y="1467.1" width="16.4" height="14" fill="#fdd86a" stroke="rgba(0,0,0,0.18)" stroke-width="0.7"/>
<rect x="609.28" y="1468.5" width="16.4" height="12.6" fill="#f6b26b" stroke="rgba(0,0,0,0.18)" stroke-width="0.7"/>
<rect x="628.44" y="1480.5" width="16.4" height="0.8" fill="#a5d6a7" stroke="rgba(0,0,0,0.18)" stroke-width="0.7"/>
<rect x="647.6" y="1481.1" width="16.4" height="1.9" fill="#f8bbd0" stroke="rgba(0,0,0,0.18)" stroke-width="0.7"/>
<rect x="666.76" y="1481.1" width="16.4" height="9.7" fill="#f4511e" stroke="rgba(0,0,0,0.18)" stroke-width="0.7"/>
<rect x="685.92" y="1481.1" width="16.4" height="19.9" fill="#4db6ac" stroke="rgba(0,0,0,0.18)" stroke-width="0.7"/>
<rect x="705.08" y="1481.1" width="16.4" height="21.9" fill="#3d6b55" stroke="rgba(0,0,0,0.18)" stroke-width="0.7"/>
<rect x="724.24" y="1481.1" width="16.4" height="31.4" fill="#e91e63" stroke="rgba(0,0,0,0.18)" stroke-width="0.7"/>
<rect x="743.4" y="1481.1" width="16.4" height="35.1" fill="#4fc3f7" stroke="rgba(0,0,0,0.18)" stroke-width="0.7"/>
<rect x="762.56" y="1481.1" width="16.4" height="35.1" fill="#0e7bab" stroke="rgba(0,0,0,0.18)" stroke-width="0.7"/>
<rect x="781.72" y="1481.1" width="16.4" height="35.1" fill="#2a2a35" stroke="rgba(0,0,0,0.18)" stroke-width="0.7"/>
<rect x="800.88" y="1481.1" width="16.4" height="35.1" fill="#22b522" stroke="rgba(0,0,0,0.18)" stroke-width="0.7"/>
<rect x="820.04" y="1481.1" width="16.4" height="35.1" fill="#a07a4a" stroke="rgba(0,0,0,0.18)" stroke-width="0.7"/>
<rect x="839.2" y="1481.1" width="16.4" height="35.1" fill="#c45000" stroke="rgba(0,0,0,0.18)" stroke-width="0.7"/>
<rect x="858.36" y="1481.1" width="16.4" height="35.1" fill="#ffd600" stroke="rgba(0,0,0,0.18)" stroke-width="0.7"/>
<rect x="877.52" y="1481.1" width="16.4" height="35.1" fill="#29b6f6" stroke="rgba(0,0,0,0.18)" stroke-width="0.7"/>
<rect x="896.68" y="1481.1" width="16.4" height="35.1" fill="#c77c0e" stroke="rgba(0,0,0,0.18)" stroke-width="0.7"/>
<rect x="915.84" y="1481.1" width="16.4" height="35.1" fill="#3f51b5" stroke="rgba(0,0,0,0.18)" stroke-width="0.7"/>
<rect x="935" y="1481.1" width="16.4" height="35.1" fill="#ff6d00" stroke="rgba(0,0,0,0.18)" stroke-width="0.7"/>
<rect x="954.16" y="1481.1" width="16.4" height="35.1" fill="#6b6b3a" stroke="rgba(0,0,0,0.18)" stroke-width="0.7"/>
<rect x="973.32" y="1481.1" width="16.4" height="36.1" fill="#aa0000" stroke="rgba(0,0,0,0.18)" stroke-width="0.7"/>
<rect x="992.48" y="1481.1" width="16.4" height="38.1" fill="#f48080" stroke="rgba(0,0,0,0.18)" stroke-width="0.7"/>
<rect x="1011.64" y="1481.1" width="16.4" height="39.1" fill="#aee000" stroke="rgba(0,0,0,0.18)" stroke-width="0.7"/>
<rect x="1030.8" y="1481.1" width="16.4" height="49.3" fill="#b8e08a" stroke="rgba(0,0,0,0.18)" stroke-width="0.7"/>
<rect x="1049.96" y="1481.1" width="16.4" height="49.3" fill="#2b5ea8" stroke="rgba(0,0,0,0.18)" stroke-width="0.7"/>
<rect x="1069.12" y="1481.1" width="16.4" height="51.3" fill="#5b7b8e" stroke="rgba(0,0,0,0.18)" stroke-width="0.7"/>
<rect x="1088.28" y="1481.1" width="16.4" height="52.3" fill="#8fae3a" stroke="rgba(0,0,0,0.18)" stroke-width="0.7"/>
<rect x="1107.44" y="1481.1" width="16.4" height="63.3" fill="#f9a060" stroke="rgba(0,0,0,0.18)" stroke-width="0.7"/>
<rect x="1126.6" y="1481.1" width="16.4" height="65.3" fill="#00bcd4" stroke="rgba(0,0,0,0.18)" stroke-width="0.7"/>
<rect x="1145.76" y="1481.1" width="16.4" height="65.3" fill="#ffeb3b" stroke="rgba(0,0,0,0.18)" stroke-width="0.7"/>
<rect x="1164.92" y="1481.1" width="16.4" height="65.3" fill="#7cb342" stroke="rgba(0,0,0,0.18)" stroke-width="0.7"/>
<rect x="1184.08" y="1481.1" width="16.4" height="65.3" fill="#795548" stroke="rgba(0,0,0,0.18)" stroke-width="0.7"/>
<rect x="1203.24" y="1481.1" width="16.4" height="74.4" fill="#66bb6a" stroke="rgba(0,0,0,0.18)" stroke-width="0.7"/>
<rect x="1222.4" y="1481.1" width="16.4" height="85.7" fill="#00897b" stroke="rgba(0,0,0,0.18)" stroke-width="0.7"/>
<rect x="1241.56" y="1481.1" width="16.4" height="89.3" fill="#d4a800" stroke="rgba(0,0,0,0.18)" stroke-width="0.7"/>
<rect x="1260.72" y="1481.1" width="16.4" height="92.9" fill="#90b8e0" stroke="rgba(0,0,0,0.18)" stroke-width="0.7"/>
<line x1="186.5" y1="1481.1" x2="1266" y2="1481.1" stroke="#a0a0a0" stroke-width="1.4"/>
<line x1="186.5" y1="1298.4" x2="186.5" y2="1625.4" stroke="#d2d2d2" stroke-width="2.6"/>
<path d="M182.5 1302.4L186.5 1290.4L190.5 1302.4Z" fill="#9a9a9a"/>
<line x1="185.2" y1="1625.4" x2="1270" y2="1625.4" stroke="#d2d2d2" stroke-width="2.6"/>
<path d="M1265 1620.9L1278 1625.4L1265 1629.9Z" fill="#9a9a9a"/>
<line x1="224.7" y1="1625.4" x2="224.7" y2="1628.9" stroke="#a8a8a8" stroke-width="1.2"/>
<line x1="272.6" y1="1625.4" x2="272.6" y2="1630.4" stroke="#a8a8a8" stroke-width="1.2"/>
<text x="272.6" y="1647" text-anchor="middle" font-family="Liberation Sans" font-size="11.5" fill="#333">5</text>
<line x1="320.5" y1="1625.4" x2="320.5" y2="1628.9" stroke="#a8a8a8" stroke-width="1.2"/>
<line x1="368.4" y1="1625.4" x2="368.4" y2="1630.4" stroke="#a8a8a8" stroke-width="1.2"/>
<text x="368.4" y="1647" text-anchor="middle" font-family="Liberation Sans" font-size="11.5" fill="#333">10</text>
<line x1="416.3" y1="1625.4" x2="416.3" y2="1628.9" stroke="#a8a8a8" stroke-width="1.2"/>
<line x1="464.2" y1="1625.4" x2="464.2" y2="1630.4" stroke="#a8a8a8" stroke-width="1.2"/>
<text x="464.2" y="1647" text-anchor="middle" font-family="Liberation Sans" font-size="11.5" fill="#333">15</text>
<line x1="512.1" y1="1625.4" x2="512.1" y2="1628.9" stroke="#a8a8a8" stroke-width="1.2"/>
<line x1="560" y1="1625.4" x2="560" y2="1630.4" stroke="#a8a8a8" stroke-width="1.2"/>
<text x="560" y="1647" text-anchor="middle" font-family="Liberation Sans" font-size="11.5" fill="#333">20</text>
<line x1="607.9" y1="1625.4" x2="607.9" y2="1628.9" stroke="#a8a8a8" stroke-width="1.2"/>
<line x1="655.8" y1="1625.4" x2="655.8" y2="1630.4" stroke="#a8a8a8" stroke-width="1.2"/>
<text x="655.8" y="1647" text-anchor="middle" font-family="Liberation Sans" font-size="11.5" fill="#333">25</text>
<line x1="703.7" y1="1625.4" x2="703.7" y2="1628.9" stroke="#a8a8a8" stroke-width="1.2"/>
<line x1="751.6" y1="1625.4" x2="751.6" y2="1630.4" stroke="#a8a8a8" stroke-width="1.2"/>
<text x="751.6" y="1647" text-anchor="middle" font-family="Liberation Sans" font-size="11.5" fill="#333">30</text>
<line x1="799.5" y1="1625.4" x2="799.5" y2="1628.9" stroke="#a8a8a8" stroke-width="1.2"/>
<line x1="847.4" y1="1625.4" x2="847.4" y2="1630.4" stroke="#a8a8a8" stroke-width="1.2"/>
<text x="847.4" y="1647" text-anchor="middle" font-family="Liberation Sans" font-size="11.5" fill="#333">35</text>
<line x1="895.3" y1="1625.4" x2="895.3" y2="1628.9" stroke="#a8a8a8" stroke-width="1.2"/>
<line x1="943.2" y1="1625.4" x2="943.2" y2="1630.4" stroke="#a8a8a8" stroke-width="1.2"/>
<text x="943.2" y="1647" text-anchor="middle" font-family="Liberation Sans" font-size="11.5" fill="#333">40</text>
<line x1="991.1" y1="1625.4" x2="991.1" y2="1628.9" stroke="#a8a8a8" stroke-width="1.2"/>
<line x1="1039" y1="1625.4" x2="1039" y2="1630.4" stroke="#a8a8a8" stroke-width="1.2"/>
<text x="1039" y="1647" text-anchor="middle" font-family="Liberation Sans" font-size="11.5" fill="#333">45</text>
<line x1="1086.9" y1="1625.4" x2="1086.9" y2="1628.9" stroke="#a8a8a8" stroke-width="1.2"/>
<line x1="1134.8" y1="1625.4" x2="1134.8" y2="1630.4" stroke="#a8a8a8" stroke-width="1.2"/>
<text x="1134.8" y="1647" text-anchor="middle" font-family="Liberation Sans" font-size="11.5" fill="#333">50</text>
<line x1="1182.7" y1="1625.4" x2="1182.7" y2="1628.9" stroke="#a8a8a8" stroke-width="1.2"/>
<line x1="1230.6" y1="1625.4" x2="1230.6" y2="1630.4" stroke="#a8a8a8" stroke-width="1.2"/>
<text x="1230.6" y="1647" text-anchor="middle" font-family="Liberation Sans" font-size="11.5" fill="#333">55</text>
<text x="732.5" y="1661.5" text-anchor="middle" font-family="Liberation Sans" font-size="11.6" fill="#333">Num</text>
<text transform="translate(144,1456) rotate(-90)" text-anchor="middle" font-family="Liberation Sans" font-size="11.6" fill="#333">CoeffCS[3](NHE1 mRNA expression (2^-ΔΔCt))</text>
<g font-family="Liberation Sans" font-size="11.7" fill="#111">
<clipPath id="c1"><rect x="186.5" y="1290.4" width="1091.5" height="335"/></clipPath>
<g clip-path="url(#c1)">
<text transform="translate(211.52,1422.85) rotate(-90)">Linolenic acid</text>
<text transform="translate(213.03,1463.83) rotate(-90)">Isorhamnetin-3-O-rutinoside</text>
<text transform="translate(232.1,1427.38) rotate(-90)">tr-caffeic acid</text>
<text transform="translate(251.17,1417.17) rotate(-90)">Apigenin</text>
<text transform="translate(270.24,1435.89) rotate(-90)">Isoliquiritigenin</text>
<text transform="translate(289.31,1441.2) rotate(-90)">Astragaloside IV</text>
<text transform="translate(308.38,1414.36) rotate(-90)">Rutin</text>
<text transform="translate(327.46,1439.79) rotate(-90)">Astragaloside I</text>
<text transform="translate(346.53,1425.4) rotate(-90)">Myricetin</text>
<text transform="translate(365.6,1428.61) rotate(-90)">Malic acid</text>
<text transform="translate(384.67,1417.24) rotate(-90)">340.3</text>
<text transform="translate(403.74,1470.95) rotate(-90)">Eriodyctiol-7-O-glucoside</text>
<text transform="translate(422.81,1476.12) rotate(-90)">Rhamnocitrin-O-glucoside</text>
<text transform="translate(441.88,1439.46) rotate(-90)">Calycosin</text>
<text transform="translate(460.95,1454.96) rotate(-90)">Syringic acid</text>
<text transform="translate(480.02,1453.05) rotate(-90)">Vitexin</text>
<text transform="translate(499.09,1536.79) rotate(-90)">Hexanedioic acid dioctyl ester</text>
<text transform="translate(518.16,1499.72) rotate(-90)">Astragaloside II</text>
<text transform="translate(537.23,1526.68) rotate(-90)">Linoleic acid methyl ester</text>
<text transform="translate(556.3,1496.9) rotate(-90)">Behenic acid</text>
<text transform="translate(575.37,1568.11) rotate(-90)">Kaempferol-O-rutinoside-O-arabinoside</text>
<text transform="translate(594.45,1486.93) rotate(-90)">Chrysin</text>
<text transform="translate(613.52,1493.86) rotate(-90)">Quercetin</text>
<text transform="translate(651.66,1527.64) rotate(-90)">Trans-ferulic acid</text>
<text transform="translate(670.73,1519.74) rotate(-90)">Quinic acid</text>
<text transform="translate(689.8,1607.31) rotate(-90)">Isorhamnetin-O-rutinoside-O-arabinoside</text>
<text transform="translate(708.87,1523.48) rotate(-90)">Orientin</text>
<text transform="translate(727.94,1596.7) rotate(-90)">Isorhamnetin-3-O-B-D-glucoside</text>
<text transform="translate(747.01,1516.2) rotate(-90)">Isorhamnetin-7-O-B-D-glucoside-6''-O-mal</text>
<text transform="translate(766.08,1553.27) rotate(-90)">Soyasaponin I</text>
<text transform="translate(785.15,1591.74) rotate(-90)">Trihydroxy octadecenoic acid</text>
<text transform="translate(804.22,1582.52) rotate(-90)">Palmitic acid methyl ester</text>
<text transform="translate(823.29,1544.49) rotate(-90)">Hesperetin</text>
<text transform="translate(842.36,1612.41) rotate(-90)">(-)-methylinissolin-3-O-B-D-glucoside</text>
<text transform="translate(861.44,1516.2) rotate(-90)">9,10-dimethoxypterocarpan-3-O-B-D-glucos</text>
<text transform="translate(880.51,1540.59) rotate(-90)">Dihexose</text>
<text transform="translate(899.58,1540.25) rotate(-90)">Silymarin</text>
<text transform="translate(918.65,1516.2) rotate(-90)">14-methyl pentadecanoic acid methyl este</text>
<text transform="translate(937.72,1544.49) rotate(-90)">Naringenin</text>
<text transform="translate(956.79,1594.55) rotate(-90)">Pratensein-7-O-B-D-glucoside</text>
<text transform="translate(975.86,1560.77) rotate(-90)">Chlorogenic acid</text>
<text transform="translate(994.93,1560.81) rotate(-90)">Rosmarinic acid</text>
<text transform="translate(1014,1546.21) rotate(-90)">Astragalin</text>
<text transform="translate(1033.07,1553.16) rotate(-90)">Daidzein</text>
<text transform="translate(1052.14,1530.4) rotate(-90)">Quercetin-3-O-rhamnoside (Quercitrin)</text>
<text transform="translate(1071.21,1566.21) rotate(-90)">Isorhamnetin</text>
<text transform="translate(1090.28,1555.18) rotate(-90)">Naringin</text>
<text transform="translate(1109.35,1610.39) rotate(-90)">Eriodyctiol-7-O-rutinoside</text>
<text transform="translate(1128.43,1608.72) rotate(-90)">Caffeic acid-O-hexoside</text>
<text transform="translate(1147.5,1573.38) rotate(-90)">Gallic acid</text>
<text transform="translate(1166.57,1578.59) rotate(-90)">Linoleic acid</text>
<text transform="translate(1185.64,1546.4) rotate(-90)">Calycosin-7-O-B-D-glucoside-6''-O-malona</text>
<text transform="translate(1204.71,1585.41) rotate(-90)">Kaempferol</text>
<text transform="translate(1223.78,1566.8) rotate(-90)">Hyperoside (Quercetin-3-O-galactoside)</text>
<text transform="translate(1242.85,1589.26) rotate(-90)">Ononin</text>
<text transform="translate(1261.92,1574) rotate(-90)">16-octadecenoic acid methyl ester</text>
<text transform="translate(1261.92,1619.85) rotate(-90)">Astragaloside VIII</text>
</g></g>
<text x="107" y="1702" font-family="Liberation Serif" font-weight="bold" font-size="45">(2)</text>
<line x1="194.9" y1="1748.4" x2="1266.3" y2="1748.4" stroke="#ebebeb" stroke-width="2"/>
<line x1="194.9" y1="1796.7" x2="1266.3" y2="1796.7" stroke="#ebebeb" stroke-width="2"/>
<line x1="194.9" y1="1845" x2="1266.3" y2="1845" stroke="#ebebeb" stroke-width="2"/>
<line x1="194.9" y1="1941.6" x2="1266.3" y2="1941.6" stroke="#ebebeb" stroke-width="2"/>
<line x1="194.9" y1="1989.9" x2="1266.3" y2="1989.9" stroke="#ebebeb" stroke-width="2"/>
<line x1="189.4" y1="1748.4" x2="194.9" y2="1748.4" stroke="#a8a8a8" stroke-width="1.2"/>
<text x="186.6" y="1752.5" text-anchor="end" font-family="Liberation Sans" font-size="11.3" fill="#333">0.015</text>
<line x1="189.4" y1="1796.7" x2="194.9" y2="1796.7" stroke="#a8a8a8" stroke-width="1.2"/>
<text x="186.6" y="1800.8" text-anchor="end" font-family="Liberation Sans" font-size="11.3" fill="#333">0.01</text>
<line x1="189.4" y1="1845" x2="194.9" y2="1845" stroke="#a8a8a8" stroke-width="1.2"/>
<text x="186.6" y="1849.1" text-anchor="end" font-family="Liberation Sans" font-size="11.3" fill="#333">0.005</text>
<line x1="189.4" y1="1893.3" x2="194.9" y2="1893.3" stroke="#a8a8a8" stroke-width="1.2"/>
<text x="186.6" y="1897.4" text-anchor="end" font-family="Liberation Sans" font-size="11.3" fill="#333">0</text>
<line x1="189.4" y1="1941.6" x2="194.9" y2="1941.6" stroke="#a8a8a8" stroke-width="1.2"/>
<text x="186.6" y="1945.7" text-anchor="end" font-family="Liberation Sans" font-size="11.3" fill="#333">-0.005</text>
<line x1="189.4" y1="1989.9" x2="194.9" y2="1989.9" stroke="#a8a8a8" stroke-width="1.2"/>
<text x="186.6" y="1994" text-anchor="end" font-family="Liberation Sans" font-size="11.3" fill="#333">-0.01</text>
<line x1="189.4" y1="2038.2" x2="194.9" y2="2038.2" stroke="#a8a8a8" stroke-width="1.2"/>
<text x="186.6" y="2042.3" text-anchor="end" font-family="Liberation Sans" font-size="11.3" fill="#333">-0.015</text>
<line x1="191.9" y1="1772.55" x2="194.9" y2="1772.55" stroke="#a8a8a8" stroke-width="1.2"/>
<line x1="191.9" y1="1820.85" x2="194.9" y2="1820.85" stroke="#a8a8a8" stroke-width="1.2"/>
<line x1="191.9" y1="1869.15" x2="194.9" y2="1869.15" stroke="#a8a8a8" stroke-width="1.2"/>
<line x1="191.9" y1="1917.45" x2="194.9" y2="1917.45" stroke="#a8a8a8" stroke-width="1.2"/>
<line x1="191.9" y1="1965.75" x2="194.9" y2="1965.75" stroke="#a8a8a8" stroke-width="1.2"/>
<line x1="191.9" y1="2014.05" x2="194.9" y2="2014.05" stroke="#a8a8a8" stroke-width="1.2"/>
<rect x="195.98" y="1791.8" width="16.2" height="101.5" fill="#fbbd2d" stroke="rgba(0,0,0,0.18)" stroke-width="0.7"/>
<rect x="214.81" y="1793.2" width="16.2" height="100.1" fill="#b00000" stroke="rgba(0,0,0,0.18)" stroke-width="0.7"/>
<rect x="233.64" y="1805" width="16.2" height="88.3" fill="#ff9800" stroke="rgba(0,0,0,0.18)" stroke-width="0.7"/>
<rect x="252.47" y="1817.9" width="16.2" height="75.4" fill="#cddc39" stroke="rgba(0,0,0,0.18)" stroke-width="0.7"/>
<rect x="271.3" y="1818.5" width="16.2" height="74.8" fill="#7fb2dc" stroke="rgba(0,0,0,0.18)" stroke-width="0.7"/>
<rect x="290.13" y="1826" width="16.2" height="67.3" fill="#5c2d4a" stroke="rgba(0,0,0,0.18)" stroke-width="0.7"/>
<rect x="308.96" y="1829.7" width="16.2" height="63.6" fill="#fbbd2d" stroke="rgba(0,0,0,0.18)" stroke-width="0.7"/>
<rect x="327.79" y="1831.1" width="16.2" height="62.2" fill="#ff7a00" stroke="rgba(0,0,0,0.18)" stroke-width="0.7"/>
<rect x="346.62" y="1832.5" width="16.2" height="60.8" fill="#0a88d4" stroke="rgba(0,0,0,0.18)" stroke-width="0.7"/>
<rect x="365.45" y="1833.1" width="16.2" height="60.2" fill="#e91e8c" stroke="rgba(0,0,0,0.18)" stroke-width="0.7"/>
<rect x="384.28" y="1833.1" width="16.2" height="60.2" fill="#ff5722" stroke="rgba(0,0,0,0.18)" stroke-width="0.7"/>
<rect x="403.11" y="1834" width="16.2" height="59.3" fill="#ffc107" stroke="rgba(0,0,0,0.18)" stroke-width="0.7"/>
<rect x="421.94" y="1834.1" width="16.2" height="59.2" fill="#a3de00" stroke="rgba(0,0,0,0.18)" stroke-width="0.7"/>
<rect x="440.77" y="1834.6" width="16.2" height="58.7" fill="#9c27b0" stroke="rgba(0,0,0,0.18)" stroke-width="0.7"/>
<rect x="459.6" y="1834.6" width="16.2" height="58.7" fill="#3b2314" stroke="rgba(0,0,0,0.18)" stroke-width="0.7"/>
<rect x="478.43" y="1834.6" width="16.2" height="58.7" fill="#2fa0be" stroke="rgba(0,0,0,0.18)" stroke-width="0.7"/>
<rect x="497.26" y="1837.4" width="16.2" height="55.9" fill="#b97fc4" stroke="rgba(0,0,0,0.18)" stroke-width="0.7"/>
<rect x="516.09" y="1844.6" width="16.2" height="48.7" fill="#fdd86a" stroke="rgba(0,0,0,0.18)" stroke-width="0.7"/>
<rect x="534.92" y="1866.9" width="16.2" height="26.4" fill="#7b2d40" stroke="rgba(0,0,0,0.18)" stroke-width="0.7"/>
<rect x="553.75" y="1874.5" width="16.2" height="18.8" fill="#ffe97a" stroke="rgba(0,0,0,0.18)" stroke-width="0.7"/>
<rect x="572.58" y="1876.7" width="16.2" height="16.6" fill="#4db6ac" stroke="rgba(0,0,0,0.18)" stroke-width="0.7"/>
<rect x="591.41" y="1878.2" width="16.2" height="15.1" fill="#d0ecf8" stroke="rgba(0,0,0,0.18)" stroke-width="0.7"/>
<rect x="610.24" y="1880.4" width="16.2" height="12.9" fill="#f8bbd0" stroke="rgba(0,0,0,0.18)" stroke-width="0.7"/>
<rect x="629.07" y="1893.3" width="16.2" height="2.7" fill="#f4511e" stroke="rgba(0,0,0,0.18)" stroke-width="0.7"/>
<rect x="647.9" y="1893.3" width="16.2" height="6.4" fill="#3d6b55" stroke="rgba(0,0,0,0.18)" stroke-width="0.7"/>
<rect x="666.73" y="1893.3" width="16.2" height="16.2" fill="#f6b26b" stroke="rgba(0,0,0,0.18)" stroke-width="0.7"/>
<rect x="685.56" y="1893.3" width="16.2" height="27.1" fill="#9c27b0" stroke="rgba(0,0,0,0.18)" stroke-width="0.7"/>
<rect x="704.39" y="1893.3" width="16.2" height="32.1" fill="#aa0000" stroke="rgba(0,0,0,0.18)" stroke-width="0.7"/>
<rect x="723.22" y="1893.3" width="16.2" height="39.5" fill="#f9a060" stroke="rgba(0,0,0,0.18)" stroke-width="0.7"/>
<rect x="742.05" y="1893.3" width="16.2" height="43.5" fill="#8fae3a" stroke="rgba(0,0,0,0.18)" stroke-width="0.7"/>
<rect x="760.88" y="1893.3" width="16.2" height="44.6" fill="#cde8c0" stroke="rgba(0,0,0,0.18)" stroke-width="0.7"/>
<rect x="779.71" y="1893.3" width="16.2" height="51.8" fill="#00bcd4" stroke="rgba(0,0,0,0.18)" stroke-width="0.7"/>
<rect x="798.54" y="1893.3" width="16.2" height="51.8" fill="#7cb342" stroke="rgba(0,0,0,0.18)" stroke-width="0.7"/>
<rect x="817.37" y="1893.3" width="16.2" height="51.8" fill="#ffeb3b" stroke="rgba(0,0,0,0.18)" stroke-width="0.7"/>
<rect x="836.2" y="1893.3" width="16.2" height="53.3" fill="#795548" stroke="rgba(0,0,0,0.18)" stroke-width="0.7"/>
<rect x="855.03" y="1893.3" width="16.2" height="56.6" fill="#4fc3f7" stroke="rgba(0,0,0,0.18)" stroke-width="0.7"/>
<rect x="873.86" y="1893.3" width="16.2" height="56.6" fill="#e91e63" stroke="rgba(0,0,0,0.18)" stroke-width="0.7"/>
<rect x="892.69" y="1893.3" width="16.2" height="68.6" fill="#0e7bab" stroke="rgba(0,0,0,0.18)" stroke-width="0.7"/>
<rect x="911.52" y="1893.3" width="16.2" height="68.6" fill="#2a2a35" stroke="rgba(0,0,0,0.18)" stroke-width="0.7"/>
<rect x="930.35" y="1893.3" width="16.2" height="68.6" fill="#22b522" stroke="rgba(0,0,0,0.18)" stroke-width="0.7"/>
<rect x="949.18" y="1893.3" width="16.2" height="68.6" fill="#a07a4a" stroke="rgba(0,0,0,0.18)" stroke-width="0.7"/>
<rect x="968.01" y="1893.3" width="16.2" height="68.6" fill="#c45000" stroke="rgba(0,0,0,0.18)" stroke-width="0.7"/>
<rect x="986.84" y="1893.3" width="16.2" height="68.6" fill="#ffd600" stroke="rgba(0,0,0,0.18)" stroke-width="0.7"/>
<rect x="1005.67" y="1893.3" width="16.2" height="68.6" fill="#29b6f6" stroke="rgba(0,0,0,0.18)" stroke-width="0.7"/>
<rect x="1024.5" y="1893.3" width="16.2" height="68.6" fill="#c77c0e" stroke="rgba(0,0,0,0.18)" stroke-width="0.7"/>
<rect x="1043.33" y="1893.3" width="16.2" height="68.6" fill="#3f51b5" stroke="rgba(0,0,0,0.18)" stroke-width="0.7"/>
<rect x="1062.16" y="1893.3" width="16.2" height="68.6" fill="#ff6d00" stroke="rgba(0,0,0,0.18)" stroke-width="0.7"/>
<rect x="1080.99" y="1893.3" width="16.2" height="68.6" fill="#6b6b3a" stroke="rgba(0,0,0,0.18)" stroke-width="0.7"/>
<rect x="1099.82" y="1893.3" width="16.2" height="69.7" fill="#00897b" stroke="rgba(0,0,0,0.18)" stroke-width="0.7"/>
<rect x="1118.65" y="1893.3" width="16.2" height="71.9" fill="#f48080" stroke="rgba(0,0,0,0.18)" stroke-width="0.7"/>
<rect x="1137.48" y="1893.3" width="16.2" height="71.9" fill="#aee000" stroke="rgba(0,0,0,0.18)" stroke-width="0.7"/>
<rect x="1156.31" y="1893.3" width="16.2" height="80.9" fill="#b8e08a" stroke="rgba(0,0,0,0.18)" stroke-width="0.7"/>
<rect x="1175.14" y="1893.3" width="16.2" height="80.9" fill="#2b5ea8" stroke="rgba(0,0,0,0.18)" stroke-width="0.7"/>
<rect x="1193.97" y="1893.3" width="16.2" height="83.9" fill="#5b7b8e" stroke="rgba(0,0,0,0.18)" stroke-width="0.7"/>
<rect x="1212.8" y="1893.3" width="16.2" height="84.6" fill="#90b8e0" stroke="rgba(0,0,0,0.18)" stroke-width="0.7"/>
<rect x="1231.63" y="1893.3" width="16.2" height="98.8" fill="#d4a800" stroke="rgba(0,0,0,0.18)" stroke-width="0.7"/>
<rect x="1250.46" y="1893.3" width="16.2" height="100.3" fill="#66bb6a" stroke="rgba(0,0,0,0.18)" stroke-width="0.7"/>
<line x1="194.9" y1="1893.3" x2="1254.3" y2="1893.3" stroke="#a0a0a0" stroke-width="1.4"/>
<line x1="194.9" y1="1708.5" x2="194.9" y2="2038.5" stroke="#909090" stroke-width="1.7"/>
<path d="M190.9 1712.5L194.9 1700.5L198.9 1712.5Z" fill="#9a9a9a"/>
<line x1="194.05" y1="2038.5" x2="1258.3" y2="2038.5" stroke="#a2a2a2" stroke-width="2.3"/>
<path d="M1253.3 2034L1266.3 2038.5L1253.3 2043Z" fill="#9a9a9a"/>
<line x1="232.32" y1="2038.5" x2="232.32" y2="2042" stroke="#a8a8a8" stroke-width="1.2"/>
<line x1="279.4" y1="2038.5" x2="279.4" y2="2043.5" stroke="#a8a8a8" stroke-width="1.2"/>
<text x="279.4" y="2060.1" text-anchor="middle" font-family="Liberation Sans" font-size="11.5" fill="#333">5</text>
<line x1="326.47" y1="2038.5" x2="326.47" y2="2042" stroke="#a8a8a8" stroke-width="1.2"/>
<line x1="373.55" y1="2038.5" x2="373.55" y2="2043.5" stroke="#a8a8a8" stroke-width="1.2"/>
<text x="373.55" y="2060.1" text-anchor="middle" font-family="Liberation Sans" font-size="11.5" fill="#333">10</text>
<line x1="420.62" y1="2038.5" x2="420.62" y2="2042" stroke="#a8a8a8" stroke-width="1.2"/>
<line x1="467.7" y1="2038.5" x2="467.7" y2="2043.5" stroke="#a8a8a8" stroke-width="1.2"/>
<text x="467.7" y="2060.1" text-anchor="middle" font-family="Liberation Sans" font-size="11.5" fill="#333">15</text>
<line x1="514.77" y1="2038.5" x2="514.77" y2="2042" stroke="#a8a8a8" stroke-width="1.2"/>
<line x1="561.85" y1="2038.5" x2="561.85" y2="2043.5" stroke="#a8a8a8" stroke-width="1.2"/>
<text x="561.85" y="2060.1" text-anchor="middle" font-family="Liberation Sans" font-size="11.5" fill="#333">20</text>
<line x1="608.92" y1="2038.5" x2="608.92" y2="2042" stroke="#a8a8a8" stroke-width="1.2"/>
<line x1="656" y1="2038.5" x2="656" y2="2043.5" stroke="#a8a8a8" stroke-width="1.2"/>
<text x="656" y="2060.1" text-anchor="middle" font-family="Liberation Sans" font-size="11.5" fill="#333">25</text>
<line x1="703.07" y1="2038.5" x2="703.07" y2="2042" stroke="#a8a8a8" stroke-width="1.2"/>
<line x1="750.15" y1="2038.5" x2="750.15" y2="2043.5" stroke="#a8a8a8" stroke-width="1.2"/>
<text x="750.15" y="2060.1" text-anchor="middle" font-family="Liberation Sans" font-size="11.5" fill="#333">30</text>
<line x1="797.22" y1="2038.5" x2="797.22" y2="2042" stroke="#a8a8a8" stroke-width="1.2"/>
<line x1="844.3" y1="2038.5" x2="844.3" y2="2043.5" stroke="#a8a8a8" stroke-width="1.2"/>
<text x="844.3" y="2060.1" text-anchor="middle" font-family="Liberation Sans" font-size="11.5" fill="#333">35</text>
<line x1="891.37" y1="2038.5" x2="891.37" y2="2042" stroke="#a8a8a8" stroke-width="1.2"/>
<line x1="938.45" y1="2038.5" x2="938.45" y2="2043.5" stroke="#a8a8a8" stroke-width="1.2"/>
<text x="938.45" y="2060.1" text-anchor="middle" font-family="Liberation Sans" font-size="11.5" fill="#333">40</text>
<line x1="985.52" y1="2038.5" x2="985.52" y2="2042" stroke="#a8a8a8" stroke-width="1.2"/>
<line x1="1032.6" y1="2038.5" x2="1032.6" y2="2043.5" stroke="#a8a8a8" stroke-width="1.2"/>
<text x="1032.6" y="2060.1" text-anchor="middle" font-family="Liberation Sans" font-size="11.5" fill="#333">45</text>
<line x1="1079.67" y1="2038.5" x2="1079.67" y2="2042" stroke="#a8a8a8" stroke-width="1.2"/>
<line x1="1126.75" y1="2038.5" x2="1126.75" y2="2043.5" stroke="#a8a8a8" stroke-width="1.2"/>
<text x="1126.75" y="2060.1" text-anchor="middle" font-family="Liberation Sans" font-size="11.5" fill="#333">50</text>
<line x1="1173.82" y1="2038.5" x2="1173.82" y2="2042" stroke="#a8a8a8" stroke-width="1.2"/>
<line x1="1220.9" y1="2038.5" x2="1220.9" y2="2043.5" stroke="#a8a8a8" stroke-width="1.2"/>
<text x="1220.9" y="2060.1" text-anchor="middle" font-family="Liberation Sans" font-size="11.5" fill="#333">55</text>
<text x="731" y="2074" text-anchor="middle" font-family="Liberation Sans" font-size="11.6" fill="#333">Num</text>
<text transform="translate(152.5,1868) rotate(-90)" text-anchor="middle" font-family="Liberation Sans" font-size="11.6" fill="#333">CoeffCS[3](Aquaporin 1 mRNA expression (2^-ΔΔCt))</text>
<g font-family="Liberation Sans" font-size="11.7" fill="#111">
<clipPath id="c2"><rect x="194.9" y="1700.5" width="1071.4" height="338"/></clipPath>
<g clip-path="url(#c2)">
<text transform="translate(219.31,1927.04) rotate(-90)">Rhamnocitrin-O-glucoside</text>
<text transform="translate(220.82,1793.2) rotate(-90)">Linolenic acid</text>
<text transform="translate(239.56,1805) rotate(-90)">Calycosin</text>
<text transform="translate(258.3,1963.55) rotate(-90)">Isorhamnetin-3-O-rutinoside</text>
<text transform="translate(277.04,1818.5) rotate(-90)">tr-caffeic acid</text>
<text transform="translate(295.78,1826) rotate(-90)">Apigenin</text>
<text transform="translate(314.52,1829.7) rotate(-90)">Astragaloside IV</text>
<text transform="translate(333.26,1831.1) rotate(-90)">Astragaloside I</text>
<text transform="translate(352.01,1832.5) rotate(-90)">Isoliquiritigenin</text>
<text transform="translate(370.75,1833.1) rotate(-90)">Astragaloside II</text>
<text transform="translate(389.49,1833.1) rotate(-90)">Rutin</text>
<text transform="translate(408.23,1988.77) rotate(-90)">Hexanedioic acid dioctyl ester</text>
<text transform="translate(426.97,1834.1) rotate(-90)">Myricetin</text>
<text transform="translate(445.71,1834.6) rotate(-90)">Malic acid</text>
<text transform="translate(464.45,1834.6) rotate(-90)">340.3</text>
<text transform="translate(483.19,2026.41) rotate(-90)">Kaempferol-O-rutinoside-O-arabinosi</text>
<text transform="translate(501.93,1837.4) rotate(-90)">Eriodyctiol-7-O-glucoside</text>
<text transform="translate(520.67,1844.6) rotate(-90)">Chrysin</text>
<text transform="translate(539.41,1866.9) rotate(-90)">Vitexin</text>
<text transform="translate(558.15,1874.5) rotate(-90)">Syringic acid</text>
<text transform="translate(576.89,1876.7) rotate(-90)">Ononin</text>
<text transform="translate(595.63,1878.2) rotate(-90)">Behenic acid</text>
<text transform="translate(614.38,1880.4) rotate(-90)">Quinic acid</text>
<text transform="translate(651.86,2090.87) rotate(-90)">Isorhamnetin-O-rutinoside-O-arabino</text>
<text transform="translate(670.6,1909.5) rotate(-90)">Isorhamnetin-3-O-B-D-glucoside</text>
<text transform="translate(689.34,1920.4) rotate(-90)">Quercetin</text>
<text transform="translate(708.08,1925.4) rotate(-90)">Linoleic acid methyl ester</text>
<text transform="translate(726.82,1932.8) rotate(-90)">Rosmarinic acid</text>
<text transform="translate(745.56,1936.8) rotate(-90)">Caffeic acid-O-hexoside</text>
<text transform="translate(764.3,1937.9) rotate(-90)">Eriodyctiol-7-O-rutinoside</text>
<text transform="translate(783.04,1945.1) rotate(-90)">Trans-ferulic acid</text>
<text transform="translate(801.78,1945.1) rotate(-90)">Gallic acid</text>
<text transform="translate(820.52,1945.1) rotate(-90)">Calycosin-7-O-B-D-glucoside-6''-O-m</text>
<text transform="translate(839.26,1946.6) rotate(-90)">Linoleic acid</text>
<text transform="translate(858,1949.9) rotate(-90)">Kaempferol</text>
<text transform="translate(876.75,1949.9) rotate(-90)">Soyasaponin I</text>
<text transform="translate(895.49,1961.9) rotate(-90)">Formononetin-7-O-B-D-glucoside-6''-</text>
<text transform="translate(914.23,1961.9) rotate(-90)">Trihydroxy octadecenoic acid</text>
<text transform="translate(932.97,1961.9) rotate(-90)">Palmitic acid methyl ester</text>
<text transform="translate(951.71,1961.9) rotate(-90)">Hesperetin</text>
<text transform="translate(970.45,1961.9) rotate(-90)">(-)-methylinissolin-3-O-B-D-glucosi</text>
<text transform="translate(989.19,1961.9) rotate(-90)">9,10-dimethoxypterocarpan-3-O-B-D-g</text>
<text transform="translate(1007.93,1961.9) rotate(-90)">Dihexose</text>
<text transform="translate(1026.67,1961.9) rotate(-90)">Silymarin</text>
<text transform="translate(1045.41,1961.9) rotate(-90)">14-methyl pentadecanoic acid methyl</text>
<text transform="translate(1064.15,1961.9) rotate(-90)">Naringenin</text>
<text transform="translate(1082.89,1961.9) rotate(-90)">Pratensein-7-O-B-D-glucoside</text>
<text transform="translate(1101.63,1963) rotate(-90)">Chlorogenic acid</text>
<text transform="translate(1120.38,1965.2) rotate(-90)">Orientin</text>
<text transform="translate(1139.12,1965.2) rotate(-90)">Astragalin</text>
<text transform="translate(1157.86,1974.2) rotate(-90)">Daidzein</text>
<text transform="translate(1176.6,1974.2) rotate(-90)">Quercetin-3-O-rhamnoside (Quercitri</text>
<text transform="translate(1195.34,1977.2) rotate(-90)">Isorhamnetin</text>
<text transform="translate(1214.08,1977.9) rotate(-90)">Naringin</text>
<text transform="translate(1232.82,1992.1) rotate(-90)">Astragaloside VIII</text>
<text transform="translate(1251.56,1993.6) rotate(-90)">Hyperoside (Quercetin-3-O-galactosi</text>
<text transform="translate(1251.56,1993.6) rotate(-90)">16-octadecenoic acid methyl ester</text>
</g></g>
<text x="114" y="2114.8" font-family="Liberation Serif" font-weight="bold" font-size="45">(3)</text>
<line x1="192.7" y1="2143.6" x2="1245.4" y2="2143.6" stroke="#ebebeb" stroke-width="2"/>
<line x1="192.7" y1="2186" x2="1245.4" y2="2186" stroke="#ebebeb" stroke-width="2"/>
<line x1="192.7" y1="2228.4" x2="1245.4" y2="2228.4" stroke="#ebebeb" stroke-width="2"/>
<line x1="192.7" y1="2313.2" x2="1245.4" y2="2313.2" stroke="#ebebeb" stroke-width="2"/>
<line x1="192.7" y1="2355.6" x2="1245.4" y2="2355.6" stroke="#ebebeb" stroke-width="2"/>
<line x1="192.7" y1="2398" x2="1245.4" y2="2398" stroke="#ebebeb" stroke-width="2"/>
<line x1="187.2" y1="2143.6" x2="192.7" y2="2143.6" stroke="#a8a8a8" stroke-width="1.2"/>
<text x="184.4" y="2147.7" text-anchor="end" font-family="Liberation Sans" font-size="11.3" fill="#333">0.015</text>
<line x1="187.2" y1="2186" x2="192.7" y2="2186" stroke="#a8a8a8" stroke-width="1.2"/>
<text x="184.4" y="2190.1" text-anchor="end" font-family="Liberation Sans" font-size="11.3" fill="#333">0.01</text>
<line x1="187.2" y1="2228.4" x2="192.7" y2="2228.4" stroke="#a8a8a8" stroke-width="1.2"/>
<text x="184.4" y="2232.5" text-anchor="end" font-family="Liberation Sans" font-size="11.3" fill="#333">0.005</text>
<line x1="187.2" y1="2270.8" x2="192.7" y2="2270.8" stroke="#a8a8a8" stroke-width="1.2"/>
<text x="184.4" y="2274.9" text-anchor="end" font-family="Liberation Sans" font-size="11.3" fill="#333">0</text>
<line x1="187.2" y1="2313.2" x2="192.7" y2="2313.2" stroke="#a8a8a8" stroke-width="1.2"/>
<text x="184.4" y="2317.3" text-anchor="end" font-family="Liberation Sans" font-size="11.3" fill="#333">-0.005</text>
<line x1="187.2" y1="2355.6" x2="192.7" y2="2355.6" stroke="#a8a8a8" stroke-width="1.2"/>
<text x="184.4" y="2359.7" text-anchor="end" font-family="Liberation Sans" font-size="11.3" fill="#333">-0.01</text>
<line x1="187.2" y1="2398" x2="192.7" y2="2398" stroke="#a8a8a8" stroke-width="1.2"/>
<text x="184.4" y="2402.1" text-anchor="end" font-family="Liberation Sans" font-size="11.3" fill="#333">-0.015</text>
<line x1="187.2" y1="2440.4" x2="192.7" y2="2440.4" stroke="#a8a8a8" stroke-width="1.2"/>
<text x="184.4" y="2444.5" text-anchor="end" font-family="Liberation Sans" font-size="11.3" fill="#333">-0.02</text>
<line x1="189.7" y1="2164.8" x2="192.7" y2="2164.8" stroke="#a8a8a8" stroke-width="1.2"/>
<line x1="189.7" y1="2207.2" x2="192.7" y2="2207.2" stroke="#a8a8a8" stroke-width="1.2"/>
<line x1="189.7" y1="2249.6" x2="192.7" y2="2249.6" stroke="#a8a8a8" stroke-width="1.2"/>
<line x1="189.7" y1="2292" x2="192.7" y2="2292" stroke="#a8a8a8" stroke-width="1.2"/>
<line x1="189.7" y1="2334.4" x2="192.7" y2="2334.4" stroke="#a8a8a8" stroke-width="1.2"/>
<line x1="189.7" y1="2376.8" x2="192.7" y2="2376.8" stroke="#a8a8a8" stroke-width="1.2"/>
<line x1="189.7" y1="2419.2" x2="192.7" y2="2419.2" stroke="#a8a8a8" stroke-width="1.2"/>
<rect x="194.22" y="2181.8" width="16" height="89" fill="#cddc39" stroke="rgba(0,0,0,0.18)" stroke-width="0.7"/>
<rect x="212.69" y="2181.8" width="16" height="89" fill="#7fb2dc" stroke="rgba(0,0,0,0.18)" stroke-width="0.7"/>
<rect x="231.16" y="2182.9" width="16" height="87.9" fill="#b00000" stroke="rgba(0,0,0,0.18)" stroke-width="0.7"/>
<rect x="249.63" y="2184.3" width="16" height="86.5" fill="#5c2d4a" stroke="rgba(0,0,0,0.18)" stroke-width="0.7"/>
<rect x="268.1" y="2185.7" width="16" height="85.1" fill="#fbbd2d" stroke="rgba(0,0,0,0.18)" stroke-width="0.7"/>
<rect x="286.57" y="2186.5" width="16" height="84.3" fill="#ff7a00" stroke="rgba(0,0,0,0.18)" stroke-width="0.7"/>
<rect x="305.04" y="2187.4" width="16" height="83.4" fill="#0a88d4" stroke="rgba(0,0,0,0.18)" stroke-width="0.7"/>
<rect x="323.51" y="2187.4" width="16" height="83.4" fill="#ff5722" stroke="rgba(0,0,0,0.18)" stroke-width="0.7"/>
<rect x="341.98" y="2188" width="16" height="82.8" fill="#a3de00" stroke="rgba(0,0,0,0.18)" stroke-width="0.7"/>
<rect x="360.45" y="2188.5" width="16" height="82.3" fill="#9c27b0" stroke="rgba(0,0,0,0.18)" stroke-width="0.7"/>
<rect x="378.92" y="2188.5" width="16" height="82.3" fill="#3b2314" stroke="rgba(0,0,0,0.18)" stroke-width="0.7"/>
<rect x="397.39" y="2189.3" width="16" height="81.5" fill="#b97fc4" stroke="rgba(0,0,0,0.18)" stroke-width="0.7"/>
<rect x="415.86" y="2206.5" width="16" height="64.3" fill="#fbbd2d" stroke="rgba(0,0,0,0.18)" stroke-width="0.7"/>
<rect x="434.33" y="2210.1" width="16" height="60.7" fill="#7b2d40" stroke="rgba(0,0,0,0.18)" stroke-width="0.7"/>
<rect x="452.8" y="2213.5" width="16" height="57.3" fill="#ffe97a" stroke="rgba(0,0,0,0.18)" stroke-width="0.7"/>
<rect x="471.27" y="2222.1" width="16" height="48.7" fill="#ff9800" stroke="rgba(0,0,0,0.18)" stroke-width="0.7"/>
<rect x="489.74" y="2232" width="16" height="38.8" fill="#d0ecf8" stroke="rgba(0,0,0,0.18)" stroke-width="0.7"/>
<rect x="508.21" y="2240.7" width="16" height="30.1" fill="#f6b26b" stroke="rgba(0,0,0,0.18)" stroke-width="0.7"/>
<rect x="526.68" y="2249.4" width="16" height="21.4" fill="#9c27b0" stroke="rgba(0,0,0,0.18)" stroke-width="0.7"/>
<rect x="545.15" y="2253.8" width="16" height="17" fill="#f8bbd0" stroke="rgba(0,0,0,0.18)" stroke-width="0.7"/>
<rect x="563.62" y="2264.3" width="16" height="6.5" fill="#e91e8c" stroke="rgba(0,0,0,0.18)" stroke-width="0.7"/>
<rect x="582.09" y="2264.3" width="16" height="6.5" fill="#ffc107" stroke="rgba(0,0,0,0.18)" stroke-width="0.7"/>
<rect x="600.56" y="2266.9" width="16" height="3.9" fill="#2fa0be" stroke="rgba(0,0,0,0.18)" stroke-width="0.7"/>
<rect x="619.03" y="2270.8" width="16" height="0.8" fill="#3d6b55" stroke="rgba(0,0,0,0.18)" stroke-width="0.7"/>
<rect x="637.5" y="2270.8" width="16" height="3.7" fill="#d4a030" stroke="rgba(0,0,0,0.18)" stroke-width="0.7"/>
<rect x="655.97" y="2270.8" width="16" height="9.2" fill="#c8e6c0" stroke="rgba(0,0,0,0.18)" stroke-width="0.7"/>
<rect x="674.44" y="2270.8" width="16" height="14.2" fill="#aa0000" stroke="rgba(0,0,0,0.18)" stroke-width="0.7"/>
<rect x="692.91" y="2270.8" width="16" height="29.9" fill="#8fae3a" stroke="rgba(0,0,0,0.18)" stroke-width="0.7"/>
<rect x="711.38" y="2270.8" width="16" height="31" fill="#f4511e" stroke="rgba(0,0,0,0.18)" stroke-width="0.7"/>
<rect x="729.85" y="2270.8" width="16" height="32.2" fill="#4db6ac" stroke="rgba(0,0,0,0.18)" stroke-width="0.7"/>
<rect x="748.32" y="2270.8" width="16" height="44.2" fill="#00bcd4" stroke="rgba(0,0,0,0.18)" stroke-width="0.7"/>
<rect x="766.79" y="2270.8" width="16" height="44.2" fill="#7cb342" stroke="rgba(0,0,0,0.18)" stroke-width="0.7"/>
<rect x="785.26" y="2270.8" width="16" height="44.2" fill="#ffeb3b" stroke="rgba(0,0,0,0.18)" stroke-width="0.7"/>
<rect x="803.73" y="2270.8" width="16" height="44.2" fill="#0e7bab" stroke="rgba(0,0,0,0.18)" stroke-width="0.7"/>
<rect x="822.2" y="2270.8" width="16" height="44.2" fill="#2a2a35" stroke="rgba(0,0,0,0.18)" stroke-width="0.7"/>
<rect x="840.67" y="2270.8" width="16" height="44.2" fill="#22b522" stroke="rgba(0,0,0,0.18)" stroke-width="0.7"/>
<rect x="859.14" y="2270.8" width="16" height="44.2" fill="#a07a4a" stroke="rgba(0,0,0,0.18)" stroke-width="0.7"/>
<rect x="877.61" y="2270.8" width="16" height="44.2" fill="#c45000" stroke="rgba(0,0,0,0.18)" stroke-width="0.7"/>
<rect x="896.08" y="2270.8" width="16" height="44.2" fill="#ffd600" stroke="rgba(0,0,0,0.18)" stroke-width="0.7"/>
<rect x="914.55" y="2270.8" width="16" height="44.2" fill="#29b6f6" stroke="rgba(0,0,0,0.18)" stroke-width="0.7"/>
<rect x="933.02" y="2270.8" width="16" height="45.4" fill="#c77c0e" stroke="rgba(0,0,0,0.18)" stroke-width="0.7"/>
<rect x="951.49" y="2270.8" width="16" height="45.4" fill="#3f51b5" stroke="rgba(0,0,0,0.18)" stroke-width="0.7"/>
<rect x="969.96" y="2270.8" width="16" height="45.4" fill="#ff6d00" stroke="rgba(0,0,0,0.18)" stroke-width="0.7"/>
<rect x="988.43" y="2270.8" width="16" height="45.4" fill="#f9a060" stroke="rgba(0,0,0,0.18)" stroke-width="0.7"/>
<rect x="1006.9" y="2270.8" width="16" height="45.4" fill="#795548" stroke="rgba(0,0,0,0.18)" stroke-width="0.7"/>
<rect x="1025.37" y="2270.8" width="16" height="45.4" fill="#6b6b3a" stroke="rgba(0,0,0,0.18)" stroke-width="0.7"/>
<rect x="1043.84" y="2270.8" width="16" height="45.4" fill="#e91e63" stroke="rgba(0,0,0,0.18)" stroke-width="0.7"/>
<rect x="1062.31" y="2270.8" width="16" height="47.2" fill="#f48080" stroke="rgba(0,0,0,0.18)" stroke-width="0.7"/>
<rect x="1080.78" y="2270.8" width="16" height="48.6" fill="#aee000" stroke="rgba(0,0,0,0.18)" stroke-width="0.7"/>
<rect x="1099.25" y="2270.8" width="16" height="49.9" fill="#4fc3f7" stroke="rgba(0,0,0,0.18)" stroke-width="0.7"/>
<rect x="1117.72" y="2270.8" width="16" height="55.2" fill="#b8e08a" stroke="rgba(0,0,0,0.18)" stroke-width="0.7"/>
<rect x="1136.19" y="2270.8" width="16" height="56.1" fill="#2b5ea8" stroke="rgba(0,0,0,0.18)" stroke-width="0.7"/>
<rect x="1154.66" y="2270.8" width="16" height="57.4" fill="#5b7b8e" stroke="rgba(0,0,0,0.18)" stroke-width="0.7"/>
<rect x="1173.13" y="2270.8" width="16" height="72.1" fill="#00897b" stroke="rgba(0,0,0,0.18)" stroke-width="0.7"/>
<rect x="1191.6" y="2270.8" width="16" height="72.1" fill="#66bb6a" stroke="rgba(0,0,0,0.18)" stroke-width="0.7"/>
<rect x="1210.07" y="2270.8" width="16" height="75.3" fill="#d4a800" stroke="rgba(0,0,0,0.18)" stroke-width="0.7"/>
<rect x="1228.54" y="2270.8" width="16" height="80.6" fill="#90b8e0" stroke="rgba(0,0,0,0.18)" stroke-width="0.7"/>
<line x1="192.7" y1="2270.8" x2="1233.4" y2="2270.8" stroke="#a0a0a0" stroke-width="1.4"/>
<line x1="192.7" y1="2110.3" x2="192.7" y2="2439.8" stroke="#909090" stroke-width="1.7"/>
<path d="M188.7 2114.3L192.7 2102.3L196.7 2114.3Z" fill="#9a9a9a"/>
<line x1="191.85" y1="2439.8" x2="1237.4" y2="2439.8" stroke="#a2a2a2" stroke-width="2.3"/>
<path d="M1232.4 2435.3L1245.4 2439.8L1232.4 2444.3Z" fill="#9a9a9a"/>
<line x1="229.93" y1="2439.8" x2="229.93" y2="2443.3" stroke="#a8a8a8" stroke-width="1.2"/>
<line x1="276.1" y1="2439.8" x2="276.1" y2="2444.8" stroke="#a8a8a8" stroke-width="1.2"/>
<text x="276.1" y="2461.4" text-anchor="middle" font-family="Liberation Sans" font-size="11.5" fill="#333">5</text>
<line x1="322.28" y1="2439.8" x2="322.28" y2="2443.3" stroke="#a8a8a8" stroke-width="1.2"/>
<line x1="368.45" y1="2439.8" x2="368.45" y2="2444.8" stroke="#a8a8a8" stroke-width="1.2"/>
<text x="368.45" y="2461.4" text-anchor="middle" font-family="Liberation Sans" font-size="11.5" fill="#333">10</text>
<line x1="414.62" y1="2439.8" x2="414.62" y2="2443.3" stroke="#a8a8a8" stroke-width="1.2"/>
<line x1="460.8" y1="2439.8" x2="460.8" y2="2444.8" stroke="#a8a8a8" stroke-width="1.2"/>
<text x="460.8" y="2461.4" text-anchor="middle" font-family="Liberation Sans" font-size="11.5" fill="#333">15</text>
<line x1="506.98" y1="2439.8" x2="506.98" y2="2443.3" stroke="#a8a8a8" stroke-width="1.2"/>
<line x1="553.15" y1="2439.8" x2="553.15" y2="2444.8" stroke="#a8a8a8" stroke-width="1.2"/>
<text x="553.15" y="2461.4" text-anchor="middle" font-family="Liberation Sans" font-size="11.5" fill="#333">20</text>
<line x1="599.33" y1="2439.8" x2="599.33" y2="2443.3" stroke="#a8a8a8" stroke-width="1.2"/>
<line x1="645.5" y1="2439.8" x2="645.5" y2="2444.8" stroke="#a8a8a8" stroke-width="1.2"/>
<text x="645.5" y="2461.4" text-anchor="middle" font-family="Liberation Sans" font-size="11.5" fill="#333">25</text>
<line x1="691.67" y1="2439.8" x2="691.67" y2="2443.3" stroke="#a8a8a8" stroke-width="1.2"/>
<line x1="737.85" y1="2439.8" x2="737.85" y2="2444.8" stroke="#a8a8a8" stroke-width="1.2"/>
<text x="737.85" y="2461.4" text-anchor="middle" font-family="Liberation Sans" font-size="11.5" fill="#333">30</text>
<line x1="784.02" y1="2439.8" x2="784.02" y2="2443.3" stroke="#a8a8a8" stroke-width="1.2"/>
<line x1="830.2" y1="2439.8" x2="830.2" y2="2444.8" stroke="#a8a8a8" stroke-width="1.2"/>
<text x="830.2" y="2461.4" text-anchor="middle" font-family="Liberation Sans" font-size="11.5" fill="#333">35</text>
<line x1="876.38" y1="2439.8" x2="876.38" y2="2443.3" stroke="#a8a8a8" stroke-width="1.2"/>
<line x1="922.55" y1="2439.8" x2="922.55" y2="2444.8" stroke="#a8a8a8" stroke-width="1.2"/>
<text x="922.55" y="2461.4" text-anchor="middle" font-family="Liberation Sans" font-size="11.5" fill="#333">40</text>
<line x1="968.73" y1="2439.8" x2="968.73" y2="2443.3" stroke="#a8a8a8" stroke-width="1.2"/>
<line x1="1014.9" y1="2439.8" x2="1014.9" y2="2444.8" stroke="#a8a8a8" stroke-width="1.2"/>
<text x="1014.9" y="2461.4" text-anchor="middle" font-family="Liberation Sans" font-size="11.5" fill="#333">45</text>
<line x1="1061.07" y1="2439.8" x2="1061.07" y2="2443.3" stroke="#a8a8a8" stroke-width="1.2"/>
<line x1="1107.25" y1="2439.8" x2="1107.25" y2="2444.8" stroke="#a8a8a8" stroke-width="1.2"/>
<text x="1107.25" y="2461.4" text-anchor="middle" font-family="Liberation Sans" font-size="11.5" fill="#333">50</text>
<line x1="1153.42" y1="2439.8" x2="1153.42" y2="2443.3" stroke="#a8a8a8" stroke-width="1.2"/>
<line x1="1199.6" y1="2439.8" x2="1199.6" y2="2444.8" stroke="#a8a8a8" stroke-width="1.2"/>
<text x="1199.6" y="2461.4" text-anchor="middle" font-family="Liberation Sans" font-size="11.5" fill="#333">55</text>
<text x="719.3" y="2476" text-anchor="middle" font-family="Liberation Sans" font-size="11.6" fill="#333">Num</text>
<text transform="translate(152.5,2270) rotate(-90)" text-anchor="middle" font-family="Liberation Sans" font-size="11.6" fill="#333">CoeffCS[3](NKCC2 mRNA expression (2^-ΔΔCt))</text>
<g font-family="Liberation Sans" font-size="11.7" fill="#111">
<clipPath id="c3"><rect x="192.7" y="2102.3" width="1052.7" height="337.5"/></clipPath>
<g clip-path="url(#c3)">
<text transform="translate(217.09,2254.63) rotate(-90)">Isorhamnetin-3-O-rutinoside</text>
<text transform="translate(218.6,2216.48) rotate(-90)">tr-caffeic acid</text>
<text transform="translate(236.98,2218.35) rotate(-90)">Linolenic acid</text>
<text transform="translate(255.36,2207.07) rotate(-90)">Apigenin</text>
<text transform="translate(273.74,2228.3) rotate(-90)">Astragaloside IV</text>
<text transform="translate(292.12,2225.19) rotate(-90)">Astragaloside I</text>
<text transform="translate(310.5,2226.09) rotate(-90)">Isoliquiritigenin</text>
<text transform="translate(328.88,2201.06) rotate(-90)">Rutin</text>
<text transform="translate(347.27,2211.4) rotate(-90)">Myricetin</text>
<text transform="translate(365.65,2214.51) rotate(-90)">Malic acid</text>
<text transform="translate(384.03,2203.14) rotate(-90)">340.3</text>
<text transform="translate(402.41,2254.65) rotate(-90)">Eriodyctiol-7-O-glucoside</text>
<text transform="translate(420.79,2274.12) rotate(-90)">Rhamnocitrin-O-glucoside</text>
<text transform="translate(439.17,2227.55) rotate(-90)">Vitexin</text>
<text transform="translate(457.55,2246.66) rotate(-90)">Syringic acid</text>
<text transform="translate(475.93,2247.46) rotate(-90)">Calycosin</text>
<text transform="translate(494.31,2265.5) rotate(-90)">Behenic acid</text>
<text transform="translate(512.69,2266.06) rotate(-90)">Quercetin</text>
<text transform="translate(531.07,2315.08) rotate(-90)">Linoleic acid methyl ester</text>
<text transform="translate(549.45,2282.74) rotate(-90)">Quinic acid</text>
<text transform="translate(567.83,2304.62) rotate(-90)">Astragaloside II</text>
<text transform="translate(586.22,2341.69) rotate(-90)">Hexanedioic acid dioctyl ester</text>
<text transform="translate(604.6,2369.31) rotate(-90)">Kaempferol-O-rutinoside-O-arabinoside</text>
<text transform="translate(641.36,2358.7) rotate(-90)">Isorhamnetin-3-O-B-D-glucoside</text>
<text transform="translate(659.74,2299.83) rotate(-90)">Chrysin</text>
<text transform="translate(678.12,2329.64) rotate(-90)">Trans-ferulic acid</text>
<text transform="translate(696.5,2342.31) rotate(-90)">Rosmarinic acid</text>
<text transform="translate(714.88,2367.79) rotate(-90)">Eriodyctiol-7-O-rutinoside</text>
<text transform="translate(733.26,2409.31) rotate(-90)">Isorhamnetin-O-rutinoside-O-arabinoside</text>
<text transform="translate(751.64,2333.86) rotate(-90)">Ononin</text>
<text transform="translate(770.02,2341.98) rotate(-90)">Gallic acid</text>
<text transform="translate(788.4,2425.81) rotate(-90)">Calycosin-7-O-B-D-glucoside-6''-O-malona</text>
<text transform="translate(806.78,2347.19) rotate(-90)">Linoleic acid</text>
<text transform="translate(825.16,2390.54) rotate(-90)">Trihydroxy octadecenoic acid</text>
<text transform="translate(843.54,2381.32) rotate(-90)">Palmitic acid methyl ester</text>
<text transform="translate(861.93,2343.29) rotate(-90)">Hesperetin</text>
<text transform="translate(880.31,2411.21) rotate(-90)">(-)-methylinissolin-3-O-B-D-glucoside</text>
<text transform="translate(898.69,2428.79) rotate(-90)">9,10-dimethoxypterocarpan-3-O-B-D-glucos</text>
<text transform="translate(917.07,2339.39) rotate(-90)">Dihexose</text>
<text transform="translate(935.45,2340.25) rotate(-90)">Silymarin</text>
<text transform="translate(953.83,2425.45) rotate(-90)">14-methyl pentadecanoic acid methyl este</text>
<text transform="translate(972.21,2344.49) rotate(-90)">Naringenin</text>
<text transform="translate(990.59,2394.55) rotate(-90)">Pratensein-7-O-B-D-glucoside</text>
<text transform="translate(1008.97,2378.52) rotate(-90)">Caffeic acid-O-hexoside</text>
<text transform="translate(1027.35,2346.11) rotate(-90)">Kaempferol</text>
<text transform="translate(1045.73,2359.77) rotate(-90)">Chlorogenic acid</text>
<text transform="translate(1064.11,2429.78) rotate(-90)">Formononetin-7-O-B-D-glucoside-6''-O-mal</text>
<text transform="translate(1082.49,2345.41) rotate(-90)">Astragalin</text>
<text transform="translate(1100.88,2343.46) rotate(-90)">Daidzein</text>
<text transform="translate(1119.26,2363.07) rotate(-90)">Soyasaponin I</text>
<text transform="translate(1137.64,2427.35) rotate(-90)">Quercetin-3-O-rhamnoside (Quercitrin)</text>
<text transform="translate(1156.02,2362.01) rotate(-90)">Isorhamnetin</text>
<text transform="translate(1174.4,2364.68) rotate(-90)">Naringin</text>
<text transform="translate(1192.78,2363.38) rotate(-90)">Orientin</text>
<text transform="translate(1211.16,2346.1) rotate(-90)">Hyperoside (Quercetin-3-O-galactoside)</text>
<text transform="translate(1229.54,2440.17) rotate(-90)">16-octadecenoic acid methyl ester</text>
<text transform="translate(1229.54,2397.25) rotate(-90)">Astragaloside VIII</text>
</g></g>
</svg>
</body></html>
